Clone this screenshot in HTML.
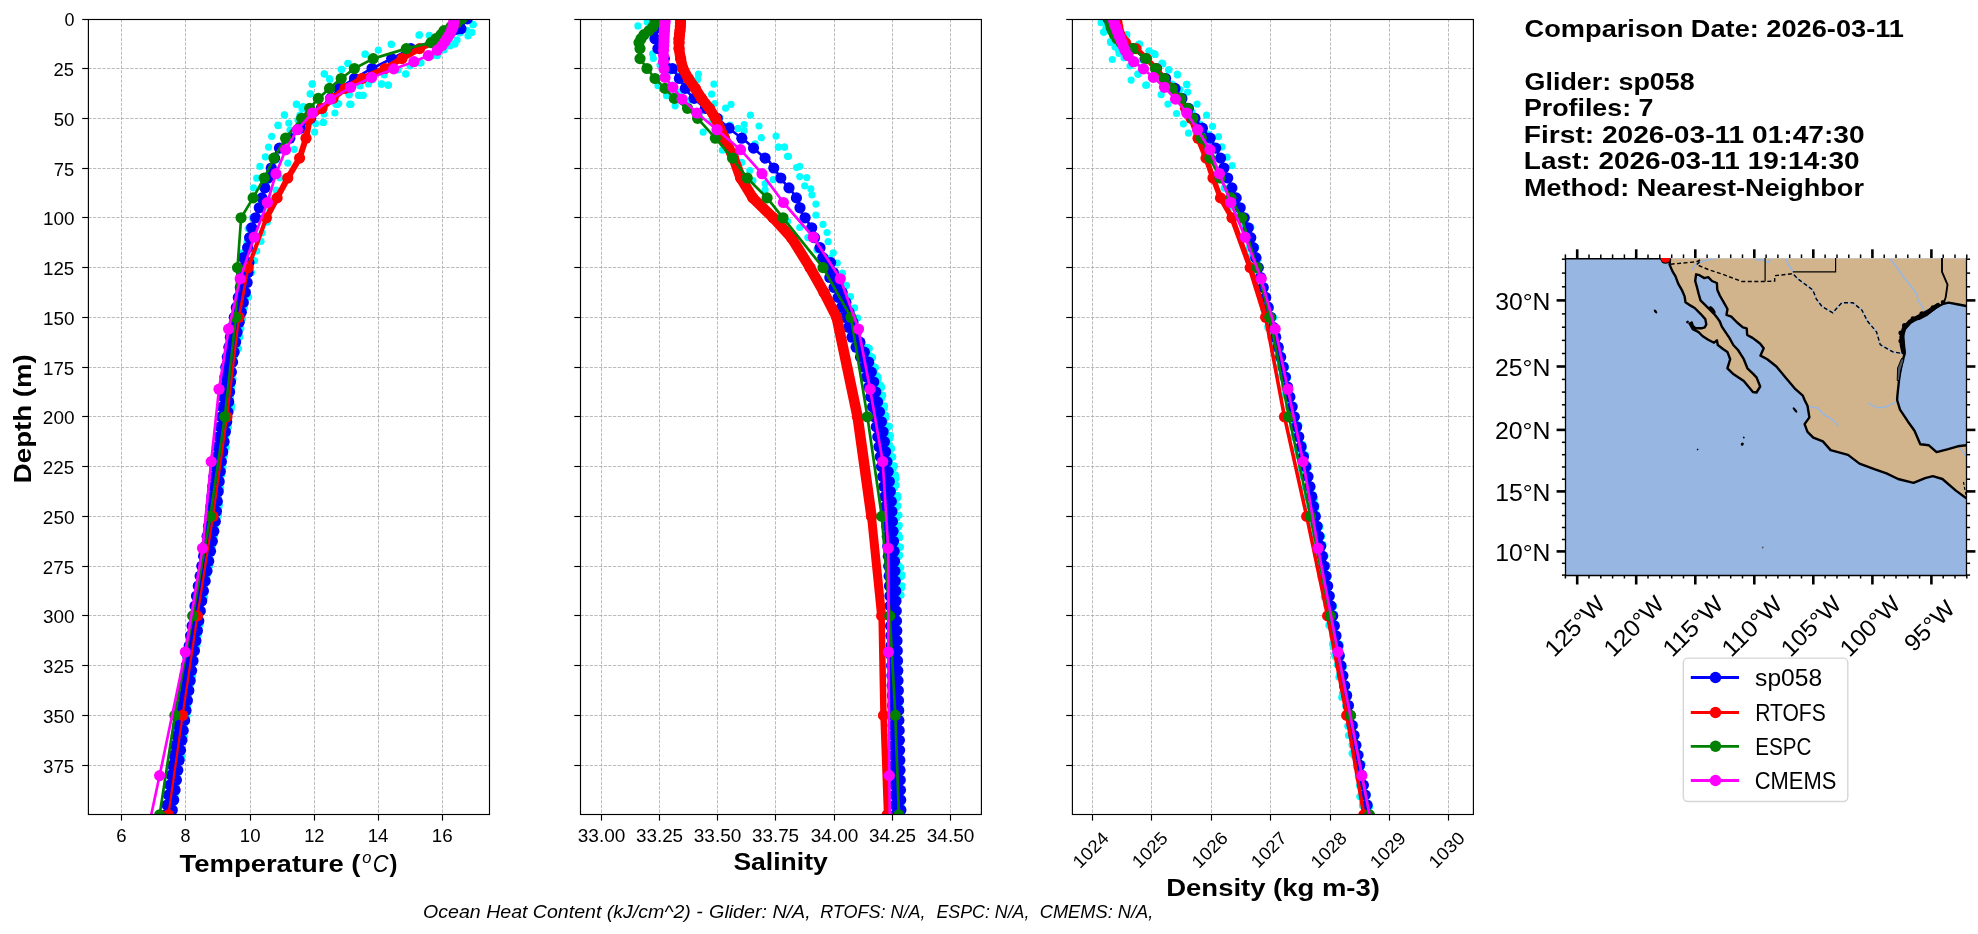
<!DOCTYPE html>
<html><head><meta charset="utf-8"><style>html,body{margin:0;padding:0;background:#fff;width:1978px;height:934px;overflow:hidden}svg{display:block;will-change:transform}</style></head>
<body><svg width="1978" height="934" viewBox="0 0 1978 934">
<rect width="1978" height="934" fill="#fff"/>
<line x1="88.4" y1="68.50" x2="489.5" y2="68.50" stroke="#aaaaaa" stroke-width="0.8" stroke-dasharray="3.25,1.4"/>
<line x1="88.4" y1="118.50" x2="489.5" y2="118.50" stroke="#aaaaaa" stroke-width="0.8" stroke-dasharray="3.25,1.4"/>
<line x1="88.4" y1="168.50" x2="489.5" y2="168.50" stroke="#aaaaaa" stroke-width="0.8" stroke-dasharray="3.25,1.4"/>
<line x1="88.4" y1="217.50" x2="489.5" y2="217.50" stroke="#aaaaaa" stroke-width="0.8" stroke-dasharray="3.25,1.4"/>
<line x1="88.4" y1="267.50" x2="489.5" y2="267.50" stroke="#aaaaaa" stroke-width="0.8" stroke-dasharray="3.25,1.4"/>
<line x1="88.4" y1="317.50" x2="489.5" y2="317.50" stroke="#aaaaaa" stroke-width="0.8" stroke-dasharray="3.25,1.4"/>
<line x1="88.4" y1="367.50" x2="489.5" y2="367.50" stroke="#aaaaaa" stroke-width="0.8" stroke-dasharray="3.25,1.4"/>
<line x1="88.4" y1="416.50" x2="489.5" y2="416.50" stroke="#aaaaaa" stroke-width="0.8" stroke-dasharray="3.25,1.4"/>
<line x1="88.4" y1="466.50" x2="489.5" y2="466.50" stroke="#aaaaaa" stroke-width="0.8" stroke-dasharray="3.25,1.4"/>
<line x1="88.4" y1="516.50" x2="489.5" y2="516.50" stroke="#aaaaaa" stroke-width="0.8" stroke-dasharray="3.25,1.4"/>
<line x1="88.4" y1="566.50" x2="489.5" y2="566.50" stroke="#aaaaaa" stroke-width="0.8" stroke-dasharray="3.25,1.4"/>
<line x1="88.4" y1="615.50" x2="489.5" y2="615.50" stroke="#aaaaaa" stroke-width="0.8" stroke-dasharray="3.25,1.4"/>
<line x1="88.4" y1="665.50" x2="489.5" y2="665.50" stroke="#aaaaaa" stroke-width="0.8" stroke-dasharray="3.25,1.4"/>
<line x1="88.4" y1="715.50" x2="489.5" y2="715.50" stroke="#aaaaaa" stroke-width="0.8" stroke-dasharray="3.25,1.4"/>
<line x1="88.4" y1="765.50" x2="489.5" y2="765.50" stroke="#aaaaaa" stroke-width="0.8" stroke-dasharray="3.25,1.4"/>
<line x1="121.50" y1="19.1" x2="121.50" y2="814.1" stroke="#aaaaaa" stroke-width="0.8" stroke-dasharray="3.25,1.4"/>
<line x1="185.50" y1="19.1" x2="185.50" y2="814.1" stroke="#aaaaaa" stroke-width="0.8" stroke-dasharray="3.25,1.4"/>
<line x1="250.50" y1="19.1" x2="250.50" y2="814.1" stroke="#aaaaaa" stroke-width="0.8" stroke-dasharray="3.25,1.4"/>
<line x1="314.50" y1="19.1" x2="314.50" y2="814.1" stroke="#aaaaaa" stroke-width="0.8" stroke-dasharray="3.25,1.4"/>
<line x1="378.50" y1="19.1" x2="378.50" y2="814.1" stroke="#aaaaaa" stroke-width="0.8" stroke-dasharray="3.25,1.4"/>
<line x1="442.50" y1="19.1" x2="442.50" y2="814.1" stroke="#aaaaaa" stroke-width="0.8" stroke-dasharray="3.25,1.4"/>
<line x1="580.5" y1="68.50" x2="981.4" y2="68.50" stroke="#aaaaaa" stroke-width="0.8" stroke-dasharray="3.25,1.4"/>
<line x1="580.5" y1="118.50" x2="981.4" y2="118.50" stroke="#aaaaaa" stroke-width="0.8" stroke-dasharray="3.25,1.4"/>
<line x1="580.5" y1="168.50" x2="981.4" y2="168.50" stroke="#aaaaaa" stroke-width="0.8" stroke-dasharray="3.25,1.4"/>
<line x1="580.5" y1="217.50" x2="981.4" y2="217.50" stroke="#aaaaaa" stroke-width="0.8" stroke-dasharray="3.25,1.4"/>
<line x1="580.5" y1="267.50" x2="981.4" y2="267.50" stroke="#aaaaaa" stroke-width="0.8" stroke-dasharray="3.25,1.4"/>
<line x1="580.5" y1="317.50" x2="981.4" y2="317.50" stroke="#aaaaaa" stroke-width="0.8" stroke-dasharray="3.25,1.4"/>
<line x1="580.5" y1="367.50" x2="981.4" y2="367.50" stroke="#aaaaaa" stroke-width="0.8" stroke-dasharray="3.25,1.4"/>
<line x1="580.5" y1="416.50" x2="981.4" y2="416.50" stroke="#aaaaaa" stroke-width="0.8" stroke-dasharray="3.25,1.4"/>
<line x1="580.5" y1="466.50" x2="981.4" y2="466.50" stroke="#aaaaaa" stroke-width="0.8" stroke-dasharray="3.25,1.4"/>
<line x1="580.5" y1="516.50" x2="981.4" y2="516.50" stroke="#aaaaaa" stroke-width="0.8" stroke-dasharray="3.25,1.4"/>
<line x1="580.5" y1="566.50" x2="981.4" y2="566.50" stroke="#aaaaaa" stroke-width="0.8" stroke-dasharray="3.25,1.4"/>
<line x1="580.5" y1="615.50" x2="981.4" y2="615.50" stroke="#aaaaaa" stroke-width="0.8" stroke-dasharray="3.25,1.4"/>
<line x1="580.5" y1="665.50" x2="981.4" y2="665.50" stroke="#aaaaaa" stroke-width="0.8" stroke-dasharray="3.25,1.4"/>
<line x1="580.5" y1="715.50" x2="981.4" y2="715.50" stroke="#aaaaaa" stroke-width="0.8" stroke-dasharray="3.25,1.4"/>
<line x1="580.5" y1="765.50" x2="981.4" y2="765.50" stroke="#aaaaaa" stroke-width="0.8" stroke-dasharray="3.25,1.4"/>
<line x1="601.50" y1="19.1" x2="601.50" y2="814.1" stroke="#aaaaaa" stroke-width="0.8" stroke-dasharray="3.25,1.4"/>
<line x1="659.50" y1="19.1" x2="659.50" y2="814.1" stroke="#aaaaaa" stroke-width="0.8" stroke-dasharray="3.25,1.4"/>
<line x1="717.50" y1="19.1" x2="717.50" y2="814.1" stroke="#aaaaaa" stroke-width="0.8" stroke-dasharray="3.25,1.4"/>
<line x1="775.50" y1="19.1" x2="775.50" y2="814.1" stroke="#aaaaaa" stroke-width="0.8" stroke-dasharray="3.25,1.4"/>
<line x1="834.50" y1="19.1" x2="834.50" y2="814.1" stroke="#aaaaaa" stroke-width="0.8" stroke-dasharray="3.25,1.4"/>
<line x1="892.50" y1="19.1" x2="892.50" y2="814.1" stroke="#aaaaaa" stroke-width="0.8" stroke-dasharray="3.25,1.4"/>
<line x1="950.50" y1="19.1" x2="950.50" y2="814.1" stroke="#aaaaaa" stroke-width="0.8" stroke-dasharray="3.25,1.4"/>
<line x1="1072.4" y1="68.50" x2="1473.4" y2="68.50" stroke="#aaaaaa" stroke-width="0.8" stroke-dasharray="3.25,1.4"/>
<line x1="1072.4" y1="118.50" x2="1473.4" y2="118.50" stroke="#aaaaaa" stroke-width="0.8" stroke-dasharray="3.25,1.4"/>
<line x1="1072.4" y1="168.50" x2="1473.4" y2="168.50" stroke="#aaaaaa" stroke-width="0.8" stroke-dasharray="3.25,1.4"/>
<line x1="1072.4" y1="217.50" x2="1473.4" y2="217.50" stroke="#aaaaaa" stroke-width="0.8" stroke-dasharray="3.25,1.4"/>
<line x1="1072.4" y1="267.50" x2="1473.4" y2="267.50" stroke="#aaaaaa" stroke-width="0.8" stroke-dasharray="3.25,1.4"/>
<line x1="1072.4" y1="317.50" x2="1473.4" y2="317.50" stroke="#aaaaaa" stroke-width="0.8" stroke-dasharray="3.25,1.4"/>
<line x1="1072.4" y1="367.50" x2="1473.4" y2="367.50" stroke="#aaaaaa" stroke-width="0.8" stroke-dasharray="3.25,1.4"/>
<line x1="1072.4" y1="416.50" x2="1473.4" y2="416.50" stroke="#aaaaaa" stroke-width="0.8" stroke-dasharray="3.25,1.4"/>
<line x1="1072.4" y1="466.50" x2="1473.4" y2="466.50" stroke="#aaaaaa" stroke-width="0.8" stroke-dasharray="3.25,1.4"/>
<line x1="1072.4" y1="516.50" x2="1473.4" y2="516.50" stroke="#aaaaaa" stroke-width="0.8" stroke-dasharray="3.25,1.4"/>
<line x1="1072.4" y1="566.50" x2="1473.4" y2="566.50" stroke="#aaaaaa" stroke-width="0.8" stroke-dasharray="3.25,1.4"/>
<line x1="1072.4" y1="615.50" x2="1473.4" y2="615.50" stroke="#aaaaaa" stroke-width="0.8" stroke-dasharray="3.25,1.4"/>
<line x1="1072.4" y1="665.50" x2="1473.4" y2="665.50" stroke="#aaaaaa" stroke-width="0.8" stroke-dasharray="3.25,1.4"/>
<line x1="1072.4" y1="715.50" x2="1473.4" y2="715.50" stroke="#aaaaaa" stroke-width="0.8" stroke-dasharray="3.25,1.4"/>
<line x1="1072.4" y1="765.50" x2="1473.4" y2="765.50" stroke="#aaaaaa" stroke-width="0.8" stroke-dasharray="3.25,1.4"/>
<line x1="1092.50" y1="19.1" x2="1092.50" y2="814.1" stroke="#aaaaaa" stroke-width="0.8" stroke-dasharray="3.25,1.4"/>
<line x1="1151.50" y1="19.1" x2="1151.50" y2="814.1" stroke="#aaaaaa" stroke-width="0.8" stroke-dasharray="3.25,1.4"/>
<line x1="1211.50" y1="19.1" x2="1211.50" y2="814.1" stroke="#aaaaaa" stroke-width="0.8" stroke-dasharray="3.25,1.4"/>
<line x1="1270.50" y1="19.1" x2="1270.50" y2="814.1" stroke="#aaaaaa" stroke-width="0.8" stroke-dasharray="3.25,1.4"/>
<line x1="1330.50" y1="19.1" x2="1330.50" y2="814.1" stroke="#aaaaaa" stroke-width="0.8" stroke-dasharray="3.25,1.4"/>
<line x1="1389.50" y1="19.1" x2="1389.50" y2="814.1" stroke="#aaaaaa" stroke-width="0.8" stroke-dasharray="3.25,1.4"/>
<line x1="1448.50" y1="19.1" x2="1448.50" y2="814.1" stroke="#aaaaaa" stroke-width="0.8" stroke-dasharray="3.25,1.4"/>
<defs><clipPath id="c0"><rect x="88.4" y="19.1" width="401.1" height="795"/></clipPath><clipPath id="c1"><rect x="580.5" y="19.1" width="400.9" height="795"/></clipPath><clipPath id="c2"><rect x="1072.4" y="19.1" width="401.0" height="795"/></clipPath></defs>
<g clip-path="url(#c0)">
<circle cx="419.5" cy="34.8" r="3.6" fill="#00ffff"/>
<circle cx="391.5" cy="44.5" r="3.6" fill="#00ffff"/>
<circle cx="378.3" cy="50.1" r="3.6" fill="#00ffff"/>
<circle cx="365.1" cy="54.2" r="3.6" fill="#00ffff"/>
<circle cx="347.8" cy="63.3" r="3.6" fill="#00ffff"/>
<circle cx="341.7" cy="69.4" r="3.6" fill="#00ffff"/>
<circle cx="324.4" cy="74.0" r="3.6" fill="#00ffff"/>
<circle cx="329.5" cy="78.6" r="3.6" fill="#00ffff"/>
<circle cx="312.2" cy="84.2" r="3.6" fill="#00ffff"/>
<circle cx="310.2" cy="93.8" r="3.6" fill="#00ffff"/>
<circle cx="381.4" cy="84.2" r="3.6" fill="#00ffff"/>
<circle cx="388.5" cy="85.2" r="3.6" fill="#00ffff"/>
<circle cx="405.8" cy="74.0" r="3.6" fill="#00ffff"/>
<circle cx="421.0" cy="62.8" r="3.6" fill="#00ffff"/>
<circle cx="358.5" cy="95.3" r="3.6" fill="#00ffff"/>
<circle cx="362.5" cy="95.3" r="3.6" fill="#00ffff"/>
<circle cx="349.8" cy="104.5" r="3.6" fill="#00ffff"/>
<circle cx="337.6" cy="104.5" r="3.6" fill="#00ffff"/>
<circle cx="349.3" cy="94.8" r="3.6" fill="#00ffff"/>
<circle cx="454.6" cy="43.5" r="3.6" fill="#00ffff"/>
<circle cx="457.1" cy="39.9" r="3.6" fill="#00ffff"/>
<circle cx="471.9" cy="32.3" r="3.6" fill="#00ffff"/>
<circle cx="472.9" cy="24.7" r="3.6" fill="#00ffff"/>
<circle cx="466.8" cy="30.3" r="3.6" fill="#00ffff"/>
<circle cx="437.3" cy="55.7" r="3.6" fill="#00ffff"/>
<circle cx="429.2" cy="35.3" r="3.6" fill="#00ffff"/>
<circle cx="303.1" cy="106.5" r="3.6" fill="#00ffff"/>
<circle cx="312.2" cy="83.9" r="3.6" fill="#00ffff"/>
<circle cx="310.3" cy="94.0" r="3.6" fill="#00ffff"/>
<circle cx="296.4" cy="104.1" r="3.6" fill="#00ffff"/>
<circle cx="302.0" cy="108.5" r="3.6" fill="#00ffff"/>
<circle cx="284.3" cy="114.8" r="3.6" fill="#00ffff"/>
<circle cx="288.8" cy="123.1" r="3.6" fill="#00ffff"/>
<circle cx="278.0" cy="125.0" r="3.6" fill="#00ffff"/>
<circle cx="323.5" cy="122.4" r="3.6" fill="#00ffff"/>
<circle cx="334.9" cy="113.0" r="3.6" fill="#00ffff"/>
<circle cx="338.7" cy="103.5" r="3.6" fill="#00ffff"/>
<circle cx="350.1" cy="104.1" r="3.6" fill="#00ffff"/>
<circle cx="324.2" cy="73.8" r="3.6" fill="#00ffff"/>
<circle cx="329.8" cy="79.5" r="3.6" fill="#00ffff"/>
<circle cx="348.8" cy="94.6" r="3.6" fill="#00ffff"/>
<circle cx="358.9" cy="95.3" r="3.6" fill="#00ffff"/>
<circle cx="363.3" cy="95.3" r="3.6" fill="#00ffff"/>
<circle cx="368.4" cy="83.9" r="3.6" fill="#00ffff"/>
<circle cx="381.7" cy="83.9" r="3.6" fill="#00ffff"/>
<circle cx="388.0" cy="85.1" r="3.6" fill="#00ffff"/>
<circle cx="384.2" cy="75.0" r="3.6" fill="#00ffff"/>
<circle cx="405.7" cy="73.8" r="3.6" fill="#00ffff"/>
<circle cx="420.2" cy="63.0" r="3.6" fill="#00ffff"/>
<circle cx="391.1" cy="44.1" r="3.6" fill="#00ffff"/>
<circle cx="365.2" cy="54.2" r="3.6" fill="#00ffff"/>
<circle cx="348.2" cy="63.7" r="3.6" fill="#00ffff"/>
<circle cx="341.2" cy="69.3" r="3.6" fill="#00ffff"/>
<circle cx="419.0" cy="35.2" r="3.6" fill="#00ffff"/>
<circle cx="455.0" cy="44.1" r="3.6" fill="#00ffff"/>
<circle cx="471.4" cy="32.7" r="3.6" fill="#00ffff"/>
<circle cx="473.3" cy="24.5" r="3.6" fill="#00ffff"/>
<circle cx="296.4" cy="104.3" r="3.6" fill="#00ffff"/>
<circle cx="302.8" cy="108.6" r="3.6" fill="#00ffff"/>
<circle cx="284.6" cy="115.0" r="3.6" fill="#00ffff"/>
<circle cx="278.1" cy="125.7" r="3.6" fill="#00ffff"/>
<circle cx="271.7" cy="136.4" r="3.6" fill="#00ffff"/>
<circle cx="268.5" cy="147.1" r="3.6" fill="#00ffff"/>
<circle cx="265.3" cy="156.8" r="3.6" fill="#00ffff"/>
<circle cx="259.9" cy="166.4" r="3.6" fill="#00ffff"/>
<circle cx="256.7" cy="178.2" r="3.6" fill="#00ffff"/>
<circle cx="253.5" cy="187.8" r="3.6" fill="#00ffff"/>
<circle cx="351.0" cy="104.3" r="3.6" fill="#00ffff"/>
<circle cx="336.0" cy="104.3" r="3.6" fill="#00ffff"/>
<circle cx="324.2" cy="113.9" r="3.6" fill="#00ffff"/>
<circle cx="323.1" cy="122.5" r="3.6" fill="#00ffff"/>
<circle cx="315.6" cy="123.6" r="3.6" fill="#00ffff"/>
<circle cx="314.6" cy="132.1" r="3.6" fill="#00ffff"/>
<circle cx="294.2" cy="149.3" r="3.6" fill="#00ffff"/>
<circle cx="287.8" cy="163.2" r="3.6" fill="#00ffff"/>
<circle cx="252.4" cy="217.8" r="3.6" fill="#00ffff"/>
<circle cx="248.2" cy="228.5" r="3.6" fill="#00ffff"/>
<circle cx="247.1" cy="242.4" r="3.6" fill="#00ffff"/>
<circle cx="241.7" cy="253.1" r="3.6" fill="#00ffff"/>
<circle cx="251.4" cy="272.4" r="3.6" fill="#00ffff"/>
<circle cx="261.0" cy="241.4" r="3.6" fill="#00ffff"/>
<circle cx="262.1" cy="232.8" r="3.6" fill="#00ffff"/>
<circle cx="267.4" cy="222.1" r="3.6" fill="#00ffff"/>
<circle cx="256.7" cy="251.0" r="3.6" fill="#00ffff"/>
<circle cx="254.6" cy="260.6" r="3.6" fill="#00ffff"/>
<circle cx="462.0" cy="28.0" r="3.6" fill="#00ffff"/>
<circle cx="468.0" cy="36.0" r="3.6" fill="#00ffff"/>
<circle cx="460.0" cy="33.0" r="3.6" fill="#00ffff"/>
<circle cx="450.0" cy="46.0" r="3.6" fill="#00ffff"/>
<circle cx="444.0" cy="50.0" r="3.6" fill="#00ffff"/>
<circle cx="432.0" cy="56.0" r="3.6" fill="#00ffff"/>
<circle cx="410.0" cy="66.0" r="3.6" fill="#00ffff"/>
<circle cx="398.0" cy="70.0" r="3.6" fill="#00ffff"/>
<circle cx="372.0" cy="80.0" r="3.6" fill="#00ffff"/>
<circle cx="360.0" cy="86.0" r="3.6" fill="#00ffff"/>
<circle cx="300.0" cy="115.0" r="3.6" fill="#00ffff"/>
<circle cx="306.0" cy="128.0" r="3.6" fill="#00ffff"/>
<circle cx="290.0" cy="140.0" r="3.6" fill="#00ffff"/>
<circle cx="283.0" cy="150.0" r="3.6" fill="#00ffff"/>
<circle cx="276.0" cy="160.0" r="3.6" fill="#00ffff"/>
<circle cx="270.0" cy="172.0" r="3.6" fill="#00ffff"/>
<circle cx="266.0" cy="184.0" r="3.6" fill="#00ffff"/>
<circle cx="262.0" cy="196.0" r="3.6" fill="#00ffff"/>
<circle cx="260.0" cy="205.0" r="3.6" fill="#00ffff"/>
<circle cx="280.0" cy="178.0" r="3.6" fill="#00ffff"/>
<circle cx="276.0" cy="190.0" r="3.6" fill="#00ffff"/>
<circle cx="272.0" cy="200.0" r="3.6" fill="#00ffff"/>
<circle cx="270.0" cy="210.0" r="3.6" fill="#00ffff"/>
<circle cx="290.0" cy="130.0" r="3.6" fill="#00ffff"/>
<circle cx="298.0" cy="120.0" r="3.6" fill="#00ffff"/>
<circle cx="240.1" cy="297.7" r="3.6" fill="#00ffff"/>
<circle cx="237.9" cy="306.9" r="3.6" fill="#00ffff"/>
<circle cx="233.7" cy="315.6" r="3.6" fill="#00ffff"/>
<circle cx="234.4" cy="326.1" r="3.6" fill="#00ffff"/>
<circle cx="230.7" cy="336.9" r="3.6" fill="#00ffff"/>
<circle cx="229.8" cy="347.5" r="3.6" fill="#00ffff"/>
<circle cx="230.2" cy="356.3" r="3.6" fill="#00ffff"/>
<circle cx="225.7" cy="367.9" r="3.6" fill="#00ffff"/>
<circle cx="226.3" cy="377.3" r="3.6" fill="#00ffff"/>
<circle cx="226.3" cy="388.5" r="3.6" fill="#00ffff"/>
<circle cx="226.9" cy="396.1" r="3.6" fill="#00ffff"/>
<circle cx="223.3" cy="405.4" r="3.6" fill="#00ffff"/>
<circle cx="220.7" cy="417.9" r="3.6" fill="#00ffff"/>
<circle cx="219.0" cy="426.8" r="3.6" fill="#00ffff"/>
<circle cx="221.2" cy="437.4" r="3.6" fill="#00ffff"/>
<circle cx="220.5" cy="447.0" r="3.6" fill="#00ffff"/>
<circle cx="218.4" cy="455.9" r="3.6" fill="#00ffff"/>
<circle cx="216.4" cy="467.0" r="3.6" fill="#00ffff"/>
<circle cx="216.7" cy="476.4" r="3.6" fill="#00ffff"/>
<circle cx="213.6" cy="488.3" r="3.6" fill="#00ffff"/>
<circle cx="210.8" cy="497.1" r="3.6" fill="#00ffff"/>
<circle cx="212.8" cy="507.2" r="3.6" fill="#00ffff"/>
<circle cx="212.6" cy="518.3" r="3.6" fill="#00ffff"/>
<circle cx="210.0" cy="525.5" r="3.6" fill="#00ffff"/>
<circle cx="207.0" cy="537.0" r="3.6" fill="#00ffff"/>
<circle cx="206.0" cy="546.1" r="3.6" fill="#00ffff"/>
<circle cx="204.1" cy="554.7" r="3.6" fill="#00ffff"/>
<circle cx="202.1" cy="567.2" r="3.6" fill="#00ffff"/>
<circle cx="201.6" cy="575.1" r="3.6" fill="#00ffff"/>
<circle cx="198.3" cy="587.5" r="3.6" fill="#00ffff"/>
<circle cx="198.5" cy="595.8" r="3.6" fill="#00ffff"/>
<circle cx="197.6" cy="607.5" r="3.6" fill="#00ffff"/>
<circle cx="194.3" cy="617.3" r="3.6" fill="#00ffff"/>
<circle cx="193.4" cy="625.5" r="3.6" fill="#00ffff"/>
<circle cx="193.8" cy="637.3" r="3.6" fill="#00ffff"/>
<circle cx="190.0" cy="644.4" r="3.6" fill="#00ffff"/>
<circle cx="188.7" cy="654.6" r="3.6" fill="#00ffff"/>
<circle cx="188.4" cy="665.6" r="3.6" fill="#00ffff"/>
<circle cx="185.0" cy="674.7" r="3.6" fill="#00ffff"/>
<circle cx="184.9" cy="685.2" r="3.6" fill="#00ffff"/>
<circle cx="185.4" cy="695.8" r="3.6" fill="#00ffff"/>
<circle cx="182.4" cy="706.2" r="3.6" fill="#00ffff"/>
<circle cx="181.6" cy="715.9" r="3.6" fill="#00ffff"/>
<circle cx="181.3" cy="723.6" r="3.6" fill="#00ffff"/>
<circle cx="179.5" cy="736.4" r="3.6" fill="#00ffff"/>
<circle cx="176.4" cy="746.5" r="3.6" fill="#00ffff"/>
<circle cx="174.2" cy="754.8" r="3.6" fill="#00ffff"/>
<circle cx="172.6" cy="765.7" r="3.6" fill="#00ffff"/>
<circle cx="172.1" cy="773.4" r="3.6" fill="#00ffff"/>
<circle cx="171.1" cy="783.7" r="3.6" fill="#00ffff"/>
<circle cx="168.6" cy="793.3" r="3.6" fill="#00ffff"/>
<circle cx="167.6" cy="803.6" r="3.6" fill="#00ffff"/>
<circle cx="246.6" cy="296.1" r="3.6" fill="#00ffff"/>
<circle cx="244.4" cy="307.5" r="3.6" fill="#00ffff"/>
<circle cx="239.8" cy="316.6" r="3.6" fill="#00ffff"/>
<circle cx="240.9" cy="328.5" r="3.6" fill="#00ffff"/>
<circle cx="238.4" cy="338.6" r="3.6" fill="#00ffff"/>
<circle cx="236.6" cy="348.4" r="3.6" fill="#00ffff"/>
<circle cx="234.3" cy="356.0" r="3.6" fill="#00ffff"/>
<circle cx="230.3" cy="366.5" r="3.6" fill="#00ffff"/>
<circle cx="230.7" cy="375.2" r="3.6" fill="#00ffff"/>
<circle cx="231.8" cy="386.0" r="3.6" fill="#00ffff"/>
<circle cx="229.5" cy="398.8" r="3.6" fill="#00ffff"/>
<circle cx="231.3" cy="408.6" r="3.6" fill="#00ffff"/>
<circle cx="227.2" cy="418.7" r="3.6" fill="#00ffff"/>
<circle cx="225.6" cy="425.7" r="3.6" fill="#00ffff"/>
<circle cx="224.2" cy="435.5" r="3.6" fill="#00ffff"/>
<circle cx="226.1" cy="447.2" r="3.6" fill="#00ffff"/>
<circle cx="222.5" cy="458.0" r="3.6" fill="#00ffff"/>
<circle cx="223.0" cy="467.2" r="3.6" fill="#00ffff"/>
<circle cx="221.5" cy="474.9" r="3.6" fill="#00ffff"/>
<circle cx="220.7" cy="488.1" r="3.6" fill="#00ffff"/>
<circle cx="218.3" cy="497.5" r="3.6" fill="#00ffff"/>
<circle cx="219.2" cy="505.1" r="3.6" fill="#00ffff"/>
<circle cx="218.3" cy="515.7" r="3.6" fill="#00ffff"/>
<circle cx="213.5" cy="528.2" r="3.6" fill="#00ffff"/>
<circle cx="214.3" cy="535.9" r="3.6" fill="#00ffff"/>
<circle cx="209.7" cy="547.1" r="3.6" fill="#00ffff"/>
<circle cx="208.3" cy="554.7" r="3.6" fill="#00ffff"/>
<circle cx="208.3" cy="567.7" r="3.6" fill="#00ffff"/>
<circle cx="207.1" cy="574.7" r="3.6" fill="#00ffff"/>
<circle cx="204.1" cy="588.0" r="3.6" fill="#00ffff"/>
<circle cx="202.4" cy="595.4" r="3.6" fill="#00ffff"/>
<circle cx="199.1" cy="604.5" r="3.6" fill="#00ffff"/>
<circle cx="199.4" cy="617.8" r="3.6" fill="#00ffff"/>
<circle cx="199.2" cy="626.0" r="3.6" fill="#00ffff"/>
<circle cx="197.6" cy="635.5" r="3.6" fill="#00ffff"/>
<circle cx="193.6" cy="647.1" r="3.6" fill="#00ffff"/>
<circle cx="192.8" cy="654.7" r="3.6" fill="#00ffff"/>
<circle cx="192.3" cy="664.6" r="3.6" fill="#00ffff"/>
<circle cx="190.4" cy="674.7" r="3.6" fill="#00ffff"/>
<circle cx="190.8" cy="684.1" r="3.6" fill="#00ffff"/>
<circle cx="187.7" cy="694.9" r="3.6" fill="#00ffff"/>
<circle cx="187.7" cy="705.8" r="3.6" fill="#00ffff"/>
<circle cx="186.4" cy="715.1" r="3.6" fill="#00ffff"/>
<circle cx="183.6" cy="725.4" r="3.6" fill="#00ffff"/>
<circle cx="180.5" cy="735.4" r="3.6" fill="#00ffff"/>
<circle cx="179.7" cy="745.0" r="3.6" fill="#00ffff"/>
<circle cx="180.7" cy="753.3" r="3.6" fill="#00ffff"/>
<circle cx="178.1" cy="763.9" r="3.6" fill="#00ffff"/>
<circle cx="176.8" cy="776.0" r="3.6" fill="#00ffff"/>
<circle cx="175.5" cy="784.4" r="3.6" fill="#00ffff"/>
<circle cx="175.0" cy="795.3" r="3.6" fill="#00ffff"/>
<circle cx="173.1" cy="803.4" r="3.6" fill="#00ffff"/>
<circle cx="170.6" cy="813.9" r="3.6" fill="#00ffff"/>
<circle cx="241.3" cy="289.0" r="3.6" fill="#00ffff"/>
<circle cx="242.0" cy="298.3" r="3.6" fill="#00ffff"/>
<circle cx="241.6" cy="306.0" r="3.6" fill="#00ffff"/>
<circle cx="235.6" cy="319.2" r="3.6" fill="#00ffff"/>
<circle cx="234.2" cy="329.1" r="3.6" fill="#00ffff"/>
<circle cx="235.9" cy="337.2" r="3.6" fill="#00ffff"/>
<circle cx="230.0" cy="348.5" r="3.6" fill="#00ffff"/>
<circle cx="230.5" cy="356.9" r="3.6" fill="#00ffff"/>
<circle cx="227.5" cy="366.4" r="3.6" fill="#00ffff"/>
<circle cx="229.2" cy="376.3" r="3.6" fill="#00ffff"/>
<circle cx="227.6" cy="385.1" r="3.6" fill="#00ffff"/>
<circle cx="223.9" cy="396.7" r="3.6" fill="#00ffff"/>
<circle cx="226.1" cy="406.2" r="3.6" fill="#00ffff"/>
<circle cx="222.3" cy="416.9" r="3.6" fill="#00ffff"/>
<circle cx="224.3" cy="428.7" r="3.6" fill="#00ffff"/>
<circle cx="219.6" cy="438.6" r="3.6" fill="#00ffff"/>
<circle cx="218.3" cy="445.8" r="3.6" fill="#00ffff"/>
<circle cx="217.9" cy="457.8" r="3.6" fill="#00ffff"/>
<circle cx="217.7" cy="465.1" r="3.6" fill="#00ffff"/>
<circle cx="218.3" cy="478.2" r="3.6" fill="#00ffff"/>
<circle cx="214.1" cy="485.6" r="3.6" fill="#00ffff"/>
<circle cx="215.1" cy="498.1" r="3.6" fill="#00ffff"/>
<circle cx="211.8" cy="507.2" r="3.6" fill="#00ffff"/>
<circle cx="214.2" cy="514.6" r="3.6" fill="#00ffff"/>
<circle cx="210.1" cy="526.0" r="3.6" fill="#00ffff"/>
<circle cx="210.3" cy="538.0" r="3.6" fill="#00ffff"/>
<circle cx="206.8" cy="547.4" r="3.6" fill="#00ffff"/>
<circle cx="204.9" cy="557.6" r="3.6" fill="#00ffff"/>
<circle cx="204.5" cy="567.6" r="3.6" fill="#00ffff"/>
<circle cx="203.4" cy="575.4" r="3.6" fill="#00ffff"/>
<circle cx="200.2" cy="587.7" r="3.6" fill="#00ffff"/>
<circle cx="199.9" cy="594.5" r="3.6" fill="#00ffff"/>
<circle cx="196.8" cy="604.9" r="3.6" fill="#00ffff"/>
<circle cx="195.2" cy="614.6" r="3.6" fill="#00ffff"/>
<circle cx="194.7" cy="624.7" r="3.6" fill="#00ffff"/>
<circle cx="194.7" cy="635.0" r="3.6" fill="#00ffff"/>
<circle cx="192.3" cy="644.9" r="3.6" fill="#00ffff"/>
<circle cx="190.4" cy="654.4" r="3.6" fill="#00ffff"/>
<circle cx="188.7" cy="663.7" r="3.6" fill="#00ffff"/>
<circle cx="189.0" cy="673.7" r="3.6" fill="#00ffff"/>
<circle cx="185.4" cy="685.8" r="3.6" fill="#00ffff"/>
<circle cx="186.7" cy="695.4" r="3.6" fill="#00ffff"/>
<circle cx="185.1" cy="703.9" r="3.6" fill="#00ffff"/>
<circle cx="182.4" cy="715.2" r="3.6" fill="#00ffff"/>
<circle cx="180.4" cy="726.7" r="3.6" fill="#00ffff"/>
<circle cx="180.2" cy="735.4" r="3.6" fill="#00ffff"/>
<circle cx="177.4" cy="747.2" r="3.6" fill="#00ffff"/>
<circle cx="177.4" cy="756.6" r="3.6" fill="#00ffff"/>
<circle cx="175.1" cy="765.7" r="3.6" fill="#00ffff"/>
<circle cx="172.7" cy="774.5" r="3.6" fill="#00ffff"/>
<circle cx="171.5" cy="783.6" r="3.6" fill="#00ffff"/>
<circle cx="170.4" cy="796.0" r="3.6" fill="#00ffff"/>
<circle cx="168.8" cy="803.7" r="3.6" fill="#00ffff"/>
<circle cx="243.1" cy="297.8" r="3.6" fill="#00ffff"/>
<circle cx="241.6" cy="308.4" r="3.6" fill="#00ffff"/>
<circle cx="240.7" cy="318.2" r="3.6" fill="#00ffff"/>
<circle cx="235.9" cy="326.8" r="3.6" fill="#00ffff"/>
<circle cx="233.0" cy="339.2" r="3.6" fill="#00ffff"/>
<circle cx="234.1" cy="348.1" r="3.6" fill="#00ffff"/>
<circle cx="234.0" cy="355.3" r="3.6" fill="#00ffff"/>
<circle cx="231.0" cy="368.6" r="3.6" fill="#00ffff"/>
<circle cx="231.1" cy="378.0" r="3.6" fill="#00ffff"/>
<circle cx="229.0" cy="385.6" r="3.6" fill="#00ffff"/>
<circle cx="229.6" cy="397.0" r="3.6" fill="#00ffff"/>
<circle cx="228.5" cy="408.1" r="3.6" fill="#00ffff"/>
<circle cx="228.0" cy="417.2" r="3.6" fill="#00ffff"/>
<circle cx="225.6" cy="427.5" r="3.6" fill="#00ffff"/>
<circle cx="221.2" cy="435.7" r="3.6" fill="#00ffff"/>
<circle cx="221.6" cy="445.2" r="3.6" fill="#00ffff"/>
<circle cx="222.7" cy="455.1" r="3.6" fill="#00ffff"/>
<circle cx="220.1" cy="466.8" r="3.6" fill="#00ffff"/>
<circle cx="219.3" cy="477.1" r="3.6" fill="#00ffff"/>
<circle cx="214.9" cy="486.5" r="3.6" fill="#00ffff"/>
<circle cx="217.6" cy="497.7" r="3.6" fill="#00ffff"/>
<circle cx="215.8" cy="506.4" r="3.6" fill="#00ffff"/>
<circle cx="212.6" cy="517.0" r="3.6" fill="#00ffff"/>
<circle cx="211.7" cy="527.3" r="3.6" fill="#00ffff"/>
<circle cx="210.7" cy="534.6" r="3.6" fill="#00ffff"/>
<circle cx="208.4" cy="547.1" r="3.6" fill="#00ffff"/>
<circle cx="209.3" cy="557.1" r="3.6" fill="#00ffff"/>
<circle cx="205.6" cy="566.1" r="3.6" fill="#00ffff"/>
<circle cx="204.9" cy="576.0" r="3.6" fill="#00ffff"/>
<circle cx="202.7" cy="587.1" r="3.6" fill="#00ffff"/>
<circle cx="199.1" cy="596.6" r="3.6" fill="#00ffff"/>
<circle cx="198.5" cy="604.5" r="3.6" fill="#00ffff"/>
<circle cx="196.9" cy="616.9" r="3.6" fill="#00ffff"/>
<circle cx="194.5" cy="626.1" r="3.6" fill="#00ffff"/>
<circle cx="194.3" cy="634.1" r="3.6" fill="#00ffff"/>
<circle cx="193.9" cy="646.4" r="3.6" fill="#00ffff"/>
<circle cx="191.1" cy="656.4" r="3.6" fill="#00ffff"/>
<circle cx="190.3" cy="665.7" r="3.6" fill="#00ffff"/>
<circle cx="187.8" cy="675.5" r="3.6" fill="#00ffff"/>
<circle cx="186.4" cy="687.1" r="3.6" fill="#00ffff"/>
<circle cx="187.6" cy="697.4" r="3.6" fill="#00ffff"/>
<circle cx="185.0" cy="703.6" r="3.6" fill="#00ffff"/>
<circle cx="184.9" cy="716.7" r="3.6" fill="#00ffff"/>
<circle cx="181.3" cy="725.2" r="3.6" fill="#00ffff"/>
<circle cx="182.4" cy="734.2" r="3.6" fill="#00ffff"/>
<circle cx="179.8" cy="744.1" r="3.6" fill="#00ffff"/>
<circle cx="178.3" cy="753.8" r="3.6" fill="#00ffff"/>
<circle cx="175.1" cy="767.0" r="3.6" fill="#00ffff"/>
<circle cx="175.1" cy="776.4" r="3.6" fill="#00ffff"/>
<circle cx="174.4" cy="786.6" r="3.6" fill="#00ffff"/>
<circle cx="174.1" cy="794.0" r="3.6" fill="#00ffff"/>
<circle cx="169.6" cy="804.9" r="3.6" fill="#00ffff"/>
<circle cx="170.1" cy="813.0" r="3.6" fill="#00ffff"/>
<circle cx="241.7" cy="296.9" r="3.6" fill="#00ffff"/>
<circle cx="238.6" cy="308.9" r="3.6" fill="#00ffff"/>
<circle cx="237.3" cy="317.8" r="3.6" fill="#00ffff"/>
<circle cx="232.9" cy="329.0" r="3.6" fill="#00ffff"/>
<circle cx="229.0" cy="338.1" r="3.6" fill="#00ffff"/>
<circle cx="229.5" cy="348.1" r="3.6" fill="#00ffff"/>
<circle cx="228.9" cy="358.1" r="3.6" fill="#00ffff"/>
<circle cx="224.7" cy="366.2" r="3.6" fill="#00ffff"/>
<circle cx="223.9" cy="378.7" r="3.6" fill="#00ffff"/>
<circle cx="224.3" cy="386.9" r="3.6" fill="#00ffff"/>
<circle cx="225.5" cy="396.1" r="3.6" fill="#00ffff"/>
<circle cx="222.0" cy="408.8" r="3.6" fill="#00ffff"/>
<circle cx="221.3" cy="417.5" r="3.6" fill="#00ffff"/>
<circle cx="220.5" cy="427.0" r="3.6" fill="#00ffff"/>
<circle cx="218.2" cy="435.4" r="3.6" fill="#00ffff"/>
<circle cx="220.6" cy="445.5" r="3.6" fill="#00ffff"/>
<circle cx="215.7" cy="456.6" r="3.6" fill="#00ffff"/>
<circle cx="218.1" cy="468.2" r="3.6" fill="#00ffff"/>
<circle cx="213.0" cy="476.4" r="3.6" fill="#00ffff"/>
<circle cx="211.8" cy="485.3" r="3.6" fill="#00ffff"/>
<circle cx="210.8" cy="495.8" r="3.6" fill="#00ffff"/>
<circle cx="210.8" cy="505.4" r="3.6" fill="#00ffff"/>
<circle cx="212.9" cy="516.7" r="3.6" fill="#00ffff"/>
<circle cx="209.7" cy="527.3" r="3.6" fill="#00ffff"/>
<circle cx="208.8" cy="535.9" r="3.6" fill="#00ffff"/>
<circle cx="206.5" cy="545.7" r="3.6" fill="#00ffff"/>
<circle cx="204.8" cy="554.4" r="3.6" fill="#00ffff"/>
<circle cx="201.8" cy="568.0" r="3.6" fill="#00ffff"/>
<circle cx="202.1" cy="576.1" r="3.6" fill="#00ffff"/>
<circle cx="198.7" cy="587.5" r="3.6" fill="#00ffff"/>
<circle cx="197.4" cy="595.1" r="3.6" fill="#00ffff"/>
<circle cx="196.5" cy="605.5" r="3.6" fill="#00ffff"/>
<circle cx="196.1" cy="617.7" r="3.6" fill="#00ffff"/>
<circle cx="191.8" cy="627.3" r="3.6" fill="#00ffff"/>
<circle cx="193.2" cy="633.9" r="3.6" fill="#00ffff"/>
<circle cx="190.5" cy="647.3" r="3.6" fill="#00ffff"/>
<circle cx="187.5" cy="656.1" r="3.6" fill="#00ffff"/>
<circle cx="189.4" cy="665.2" r="3.6" fill="#00ffff"/>
<circle cx="187.6" cy="676.9" r="3.6" fill="#00ffff"/>
<circle cx="184.0" cy="687.4" r="3.6" fill="#00ffff"/>
<circle cx="182.7" cy="694.0" r="3.6" fill="#00ffff"/>
<circle cx="183.0" cy="705.6" r="3.6" fill="#00ffff"/>
<circle cx="181.4" cy="717.2" r="3.6" fill="#00ffff"/>
<circle cx="180.4" cy="726.0" r="3.6" fill="#00ffff"/>
<circle cx="178.4" cy="735.2" r="3.6" fill="#00ffff"/>
<circle cx="178.0" cy="743.4" r="3.6" fill="#00ffff"/>
<circle cx="177.0" cy="754.2" r="3.6" fill="#00ffff"/>
<circle cx="173.3" cy="765.8" r="3.6" fill="#00ffff"/>
<circle cx="172.0" cy="773.7" r="3.6" fill="#00ffff"/>
<circle cx="172.0" cy="785.6" r="3.6" fill="#00ffff"/>
<circle cx="168.7" cy="793.5" r="3.6" fill="#00ffff"/>
<circle cx="168.9" cy="805.1" r="3.6" fill="#00ffff"/>
<circle cx="242.8" cy="287.5" r="3.6" fill="#00ffff"/>
<circle cx="241.0" cy="299.3" r="3.6" fill="#00ffff"/>
<circle cx="238.7" cy="308.6" r="3.6" fill="#00ffff"/>
<circle cx="239.9" cy="316.2" r="3.6" fill="#00ffff"/>
<circle cx="238.5" cy="326.5" r="3.6" fill="#00ffff"/>
<circle cx="232.8" cy="337.2" r="3.6" fill="#00ffff"/>
<circle cx="232.6" cy="346.1" r="3.6" fill="#00ffff"/>
<circle cx="233.5" cy="357.8" r="3.6" fill="#00ffff"/>
<circle cx="229.5" cy="365.7" r="3.6" fill="#00ffff"/>
<circle cx="231.4" cy="375.9" r="3.6" fill="#00ffff"/>
<circle cx="225.9" cy="385.6" r="3.6" fill="#00ffff"/>
<circle cx="226.8" cy="395.2" r="3.6" fill="#00ffff"/>
<circle cx="228.1" cy="408.5" r="3.6" fill="#00ffff"/>
<circle cx="227.8" cy="417.8" r="3.6" fill="#00ffff"/>
<circle cx="223.0" cy="428.5" r="3.6" fill="#00ffff"/>
<circle cx="225.1" cy="435.5" r="3.6" fill="#00ffff"/>
<circle cx="218.9" cy="447.7" r="3.6" fill="#00ffff"/>
<circle cx="219.4" cy="457.3" r="3.6" fill="#00ffff"/>
<circle cx="218.0" cy="466.1" r="3.6" fill="#00ffff"/>
<circle cx="215.4" cy="475.2" r="3.6" fill="#00ffff"/>
<circle cx="216.1" cy="485.6" r="3.6" fill="#00ffff"/>
<circle cx="213.8" cy="498.3" r="3.6" fill="#00ffff"/>
<circle cx="213.3" cy="508.3" r="3.6" fill="#00ffff"/>
<circle cx="215.7" cy="515.8" r="3.6" fill="#00ffff"/>
<circle cx="211.8" cy="527.6" r="3.6" fill="#00ffff"/>
<circle cx="210.9" cy="534.5" r="3.6" fill="#00ffff"/>
<circle cx="210.7" cy="545.7" r="3.6" fill="#00ffff"/>
<circle cx="207.1" cy="555.0" r="3.6" fill="#00ffff"/>
<circle cx="203.6" cy="567.7" r="3.6" fill="#00ffff"/>
<circle cx="204.9" cy="575.7" r="3.6" fill="#00ffff"/>
<circle cx="200.2" cy="587.1" r="3.6" fill="#00ffff"/>
<circle cx="199.0" cy="594.1" r="3.6" fill="#00ffff"/>
<circle cx="197.6" cy="607.6" r="3.6" fill="#00ffff"/>
<circle cx="198.5" cy="616.9" r="3.6" fill="#00ffff"/>
<circle cx="195.1" cy="625.2" r="3.6" fill="#00ffff"/>
<circle cx="194.5" cy="637.6" r="3.6" fill="#00ffff"/>
<circle cx="193.8" cy="644.8" r="3.6" fill="#00ffff"/>
<circle cx="190.7" cy="655.0" r="3.6" fill="#00ffff"/>
<circle cx="191.1" cy="663.7" r="3.6" fill="#00ffff"/>
<circle cx="188.8" cy="677.3" r="3.6" fill="#00ffff"/>
<circle cx="185.3" cy="687.3" r="3.6" fill="#00ffff"/>
<circle cx="185.9" cy="694.5" r="3.6" fill="#00ffff"/>
<circle cx="185.7" cy="707.3" r="3.6" fill="#00ffff"/>
<circle cx="182.2" cy="715.0" r="3.6" fill="#00ffff"/>
<circle cx="181.6" cy="725.1" r="3.6" fill="#00ffff"/>
<circle cx="178.9" cy="737.0" r="3.6" fill="#00ffff"/>
<circle cx="179.5" cy="746.5" r="3.6" fill="#00ffff"/>
<circle cx="178.3" cy="756.5" r="3.6" fill="#00ffff"/>
<circle cx="175.5" cy="765.6" r="3.6" fill="#00ffff"/>
<circle cx="174.4" cy="774.4" r="3.6" fill="#00ffff"/>
<circle cx="171.8" cy="786.2" r="3.6" fill="#00ffff"/>
<circle cx="173.1" cy="793.8" r="3.6" fill="#00ffff"/>
<circle cx="169.3" cy="804.0" r="3.6" fill="#00ffff"/>
<circle cx="169.8" cy="813.1" r="3.6" fill="#00ffff"/>
<circle cx="248.6" cy="297.0" r="3.6" fill="#00ffff"/>
<circle cx="242.8" cy="307.4" r="3.6" fill="#00ffff"/>
<circle cx="242.6" cy="318.6" r="3.6" fill="#00ffff"/>
<circle cx="237.4" cy="329.2" r="3.6" fill="#00ffff"/>
<circle cx="239.8" cy="337.1" r="3.6" fill="#00ffff"/>
<circle cx="238.5" cy="348.5" r="3.6" fill="#00ffff"/>
<circle cx="234.4" cy="355.3" r="3.6" fill="#00ffff"/>
<circle cx="232.3" cy="365.6" r="3.6" fill="#00ffff"/>
<circle cx="233.0" cy="378.9" r="3.6" fill="#00ffff"/>
<circle cx="231.1" cy="388.7" r="3.6" fill="#00ffff"/>
<circle cx="230.6" cy="398.4" r="3.6" fill="#00ffff"/>
<circle cx="231.6" cy="405.9" r="3.6" fill="#00ffff"/>
<circle cx="227.0" cy="418.6" r="3.6" fill="#00ffff"/>
<circle cx="228.4" cy="427.2" r="3.6" fill="#00ffff"/>
<circle cx="226.0" cy="435.6" r="3.6" fill="#00ffff"/>
<circle cx="223.9" cy="445.3" r="3.6" fill="#00ffff"/>
<circle cx="224.5" cy="455.7" r="3.6" fill="#00ffff"/>
<circle cx="221.1" cy="467.2" r="3.6" fill="#00ffff"/>
<circle cx="220.9" cy="474.6" r="3.6" fill="#00ffff"/>
<circle cx="218.9" cy="487.2" r="3.6" fill="#00ffff"/>
<circle cx="218.2" cy="495.7" r="3.6" fill="#00ffff"/>
<circle cx="218.8" cy="507.6" r="3.6" fill="#00ffff"/>
<circle cx="216.0" cy="514.6" r="3.6" fill="#00ffff"/>
<circle cx="215.1" cy="525.9" r="3.6" fill="#00ffff"/>
<circle cx="211.9" cy="536.8" r="3.6" fill="#00ffff"/>
<circle cx="212.7" cy="544.9" r="3.6" fill="#00ffff"/>
<circle cx="209.3" cy="555.8" r="3.6" fill="#00ffff"/>
<circle cx="209.9" cy="565.4" r="3.6" fill="#00ffff"/>
<circle cx="206.8" cy="575.3" r="3.6" fill="#00ffff"/>
<circle cx="204.5" cy="585.5" r="3.6" fill="#00ffff"/>
<circle cx="204.4" cy="597.4" r="3.6" fill="#00ffff"/>
<circle cx="200.4" cy="605.4" r="3.6" fill="#00ffff"/>
<circle cx="198.7" cy="616.8" r="3.6" fill="#00ffff"/>
<circle cx="200.1" cy="623.9" r="3.6" fill="#00ffff"/>
<circle cx="198.2" cy="635.5" r="3.6" fill="#00ffff"/>
<circle cx="196.9" cy="645.4" r="3.6" fill="#00ffff"/>
<circle cx="192.9" cy="655.6" r="3.6" fill="#00ffff"/>
<circle cx="193.1" cy="663.7" r="3.6" fill="#00ffff"/>
<circle cx="192.6" cy="676.2" r="3.6" fill="#00ffff"/>
<circle cx="190.5" cy="683.9" r="3.6" fill="#00ffff"/>
<circle cx="188.6" cy="695.0" r="3.6" fill="#00ffff"/>
<circle cx="186.5" cy="704.1" r="3.6" fill="#00ffff"/>
<circle cx="187.1" cy="715.5" r="3.6" fill="#00ffff"/>
<circle cx="184.4" cy="723.8" r="3.6" fill="#00ffff"/>
<circle cx="184.4" cy="736.5" r="3.6" fill="#00ffff"/>
<circle cx="180.4" cy="744.1" r="3.6" fill="#00ffff"/>
<circle cx="181.6" cy="757.0" r="3.6" fill="#00ffff"/>
<circle cx="177.2" cy="765.1" r="3.6" fill="#00ffff"/>
<circle cx="176.8" cy="776.8" r="3.6" fill="#00ffff"/>
<circle cx="176.3" cy="786.7" r="3.6" fill="#00ffff"/>
<circle cx="173.4" cy="796.3" r="3.6" fill="#00ffff"/>
<circle cx="172.3" cy="806.1" r="3.6" fill="#00ffff"/>
<polyline points="467.0,19.1 464.7,22.1 458.6,32.8 437.0,40.5 410.9,48.6 389.5,59.7 369.2,69.9 353.4,79.1 338.1,89.2 326.4,103.5 305.0,123.6 277.1,150.3 264.2,190.0 258.9,209.2 251.4,228.5 247.1,249.9 243.9,284.2 237.3,317.5 234.7,328.6 228.8,367.1 224.5,416.0 218.0,464.8 215.5,488.6 213.0,516.4 209.5,540.0 199.0,599.0 195.5,623.0 189.5,664.0 184.5,700.0 182.0,717.4 175.5,764.7 168.8,814.0" fill="none" stroke="#0000ff" stroke-width="2.7" stroke-linejoin="round"/>
<circle cx="467.3" cy="18.8" r="5.6" fill="#0000ff"/>
<circle cx="460.9" cy="28.7" r="5.6" fill="#0000ff"/>
<circle cx="442.2" cy="38.7" r="5.6" fill="#0000ff"/>
<circle cx="410.9" cy="48.6" r="5.6" fill="#0000ff"/>
<circle cx="391.7" cy="58.6" r="5.6" fill="#0000ff"/>
<circle cx="372.0" cy="68.5" r="5.6" fill="#0000ff"/>
<circle cx="354.5" cy="78.5" r="5.6" fill="#0000ff"/>
<circle cx="339.3" cy="88.4" r="5.6" fill="#0000ff"/>
<circle cx="330.6" cy="98.4" r="5.6" fill="#0000ff"/>
<circle cx="321.3" cy="108.3" r="5.6" fill="#0000ff"/>
<circle cx="310.7" cy="118.3" r="5.6" fill="#0000ff"/>
<circle cx="300.2" cy="128.2" r="5.6" fill="#0000ff"/>
<circle cx="289.8" cy="138.2" r="5.6" fill="#0000ff"/>
<circle cx="279.4" cy="148.1" r="5.6" fill="#0000ff"/>
<circle cx="274.6" cy="158.1" r="5.6" fill="#0000ff"/>
<circle cx="271.3" cy="168.0" r="5.6" fill="#0000ff"/>
<circle cx="268.1" cy="178.0" r="5.6" fill="#0000ff"/>
<circle cx="264.9" cy="187.9" r="5.6" fill="#0000ff"/>
<circle cx="262.0" cy="197.9" r="5.6" fill="#0000ff"/>
<circle cx="259.3" cy="207.8" r="5.6" fill="#0000ff"/>
<circle cx="255.6" cy="217.8" r="5.6" fill="#0000ff"/>
<circle cx="251.7" cy="227.8" r="5.6" fill="#0000ff"/>
<circle cx="249.6" cy="237.7" r="5.6" fill="#0000ff"/>
<circle cx="247.6" cy="247.7" r="5.6" fill="#0000ff"/>
<circle cx="243.4" cy="257.6" r="5.6" fill="#0000ff"/>
<circle cx="248.9" cy="262.6" r="5.6" fill="#0000ff"/>
<circle cx="242.5" cy="267.6" r="5.6" fill="#0000ff"/>
<circle cx="248.0" cy="272.5" r="5.6" fill="#0000ff"/>
<circle cx="241.5" cy="277.5" r="5.6" fill="#0000ff"/>
<circle cx="247.1" cy="282.5" r="5.6" fill="#0000ff"/>
<circle cx="240.3" cy="287.5" r="5.6" fill="#0000ff"/>
<circle cx="245.3" cy="292.4" r="5.6" fill="#0000ff"/>
<circle cx="238.3" cy="297.4" r="5.6" fill="#0000ff"/>
<circle cx="243.3" cy="302.4" r="5.6" fill="#0000ff"/>
<circle cx="236.3" cy="307.4" r="5.6" fill="#0000ff"/>
<circle cx="241.3" cy="312.3" r="5.6" fill="#0000ff"/>
<circle cx="234.3" cy="317.3" r="5.6" fill="#0000ff"/>
<circle cx="239.2" cy="322.3" r="5.6" fill="#0000ff"/>
<circle cx="232.0" cy="327.3" r="5.6" fill="#0000ff"/>
<circle cx="237.1" cy="332.3" r="5.6" fill="#0000ff"/>
<circle cx="230.4" cy="337.2" r="5.6" fill="#0000ff"/>
<circle cx="235.6" cy="342.2" r="5.6" fill="#0000ff"/>
<circle cx="228.9" cy="347.2" r="5.6" fill="#0000ff"/>
<circle cx="234.1" cy="352.2" r="5.6" fill="#0000ff"/>
<circle cx="227.3" cy="357.1" r="5.6" fill="#0000ff"/>
<circle cx="232.6" cy="362.1" r="5.6" fill="#0000ff"/>
<circle cx="225.8" cy="367.1" r="5.6" fill="#0000ff"/>
<circle cx="231.4" cy="372.1" r="5.6" fill="#0000ff"/>
<circle cx="224.9" cy="377.0" r="5.6" fill="#0000ff"/>
<circle cx="230.5" cy="382.0" r="5.6" fill="#0000ff"/>
<circle cx="224.1" cy="387.0" r="5.6" fill="#0000ff"/>
<circle cx="229.6" cy="392.0" r="5.6" fill="#0000ff"/>
<circle cx="223.2" cy="396.9" r="5.6" fill="#0000ff"/>
<circle cx="228.7" cy="401.9" r="5.6" fill="#0000ff"/>
<circle cx="222.3" cy="406.9" r="5.6" fill="#0000ff"/>
<circle cx="227.9" cy="411.9" r="5.6" fill="#0000ff"/>
<circle cx="221.4" cy="416.8" r="5.6" fill="#0000ff"/>
<circle cx="226.7" cy="421.8" r="5.6" fill="#0000ff"/>
<circle cx="220.1" cy="426.8" r="5.6" fill="#0000ff"/>
<circle cx="225.4" cy="431.8" r="5.6" fill="#0000ff"/>
<circle cx="218.7" cy="436.8" r="5.6" fill="#0000ff"/>
<circle cx="224.1" cy="441.7" r="5.6" fill="#0000ff"/>
<circle cx="217.4" cy="446.7" r="5.6" fill="#0000ff"/>
<circle cx="222.7" cy="451.7" r="5.6" fill="#0000ff"/>
<circle cx="216.1" cy="456.7" r="5.6" fill="#0000ff"/>
<circle cx="221.4" cy="461.6" r="5.6" fill="#0000ff"/>
<circle cx="214.8" cy="466.6" r="5.6" fill="#0000ff"/>
<circle cx="220.3" cy="471.6" r="5.6" fill="#0000ff"/>
<circle cx="213.8" cy="476.6" r="5.6" fill="#0000ff"/>
<circle cx="219.2" cy="481.5" r="5.6" fill="#0000ff"/>
<circle cx="212.7" cy="486.5" r="5.6" fill="#0000ff"/>
<circle cx="218.2" cy="491.5" r="5.6" fill="#0000ff"/>
<circle cx="211.8" cy="496.5" r="5.6" fill="#0000ff"/>
<circle cx="217.3" cy="501.4" r="5.6" fill="#0000ff"/>
<circle cx="210.9" cy="506.4" r="5.6" fill="#0000ff"/>
<circle cx="216.4" cy="511.4" r="5.6" fill="#0000ff"/>
<circle cx="210.0" cy="516.4" r="5.6" fill="#0000ff"/>
<circle cx="215.3" cy="521.4" r="5.6" fill="#0000ff"/>
<circle cx="208.5" cy="526.3" r="5.6" fill="#0000ff"/>
<circle cx="213.8" cy="531.3" r="5.6" fill="#0000ff"/>
<circle cx="207.1" cy="536.3" r="5.6" fill="#0000ff"/>
<circle cx="212.3" cy="541.3" r="5.6" fill="#0000ff"/>
<circle cx="205.4" cy="546.2" r="5.6" fill="#0000ff"/>
<circle cx="210.5" cy="551.2" r="5.6" fill="#0000ff"/>
<circle cx="203.6" cy="556.2" r="5.6" fill="#0000ff"/>
<circle cx="208.7" cy="561.2" r="5.6" fill="#0000ff"/>
<circle cx="201.8" cy="566.1" r="5.6" fill="#0000ff"/>
<circle cx="207.0" cy="571.1" r="5.6" fill="#0000ff"/>
<circle cx="200.1" cy="576.1" r="5.6" fill="#0000ff"/>
<circle cx="205.2" cy="581.1" r="5.6" fill="#0000ff"/>
<circle cx="198.3" cy="586.0" r="5.6" fill="#0000ff"/>
<circle cx="203.4" cy="591.0" r="5.6" fill="#0000ff"/>
<circle cx="196.5" cy="596.0" r="5.6" fill="#0000ff"/>
<circle cx="201.7" cy="601.0" r="5.6" fill="#0000ff"/>
<circle cx="195.0" cy="605.9" r="5.6" fill="#0000ff"/>
<circle cx="200.3" cy="610.9" r="5.6" fill="#0000ff"/>
<circle cx="193.5" cy="615.9" r="5.6" fill="#0000ff"/>
<circle cx="198.8" cy="620.9" r="5.6" fill="#0000ff"/>
<circle cx="192.1" cy="625.9" r="5.6" fill="#0000ff"/>
<circle cx="197.4" cy="630.8" r="5.6" fill="#0000ff"/>
<circle cx="190.6" cy="635.8" r="5.6" fill="#0000ff"/>
<circle cx="195.9" cy="640.8" r="5.6" fill="#0000ff"/>
<circle cx="189.2" cy="645.8" r="5.6" fill="#0000ff"/>
<circle cx="194.4" cy="650.7" r="5.6" fill="#0000ff"/>
<circle cx="187.7" cy="655.7" r="5.6" fill="#0000ff"/>
<circle cx="193.0" cy="660.7" r="5.6" fill="#0000ff"/>
<circle cx="186.3" cy="665.7" r="5.6" fill="#0000ff"/>
<circle cx="191.6" cy="670.6" r="5.6" fill="#0000ff"/>
<circle cx="184.9" cy="675.6" r="5.6" fill="#0000ff"/>
<circle cx="190.2" cy="680.6" r="5.6" fill="#0000ff"/>
<circle cx="183.5" cy="685.6" r="5.6" fill="#0000ff"/>
<circle cx="188.8" cy="690.5" r="5.6" fill="#0000ff"/>
<circle cx="182.1" cy="695.5" r="5.6" fill="#0000ff"/>
<circle cx="187.4" cy="700.5" r="5.6" fill="#0000ff"/>
<circle cx="180.7" cy="705.5" r="5.6" fill="#0000ff"/>
<circle cx="186.0" cy="710.4" r="5.6" fill="#0000ff"/>
<circle cx="179.3" cy="715.4" r="5.6" fill="#0000ff"/>
<circle cx="184.6" cy="720.4" r="5.6" fill="#0000ff"/>
<circle cx="177.9" cy="725.4" r="5.6" fill="#0000ff"/>
<circle cx="183.2" cy="730.4" r="5.6" fill="#0000ff"/>
<circle cx="176.5" cy="735.3" r="5.6" fill="#0000ff"/>
<circle cx="181.9" cy="740.3" r="5.6" fill="#0000ff"/>
<circle cx="175.2" cy="745.3" r="5.6" fill="#0000ff"/>
<circle cx="180.5" cy="750.3" r="5.6" fill="#0000ff"/>
<circle cx="173.8" cy="755.2" r="5.6" fill="#0000ff"/>
<circle cx="179.1" cy="760.2" r="5.6" fill="#0000ff"/>
<circle cx="172.4" cy="765.2" r="5.6" fill="#0000ff"/>
<circle cx="177.8" cy="770.2" r="5.6" fill="#0000ff"/>
<circle cx="171.1" cy="775.1" r="5.6" fill="#0000ff"/>
<circle cx="176.4" cy="780.1" r="5.6" fill="#0000ff"/>
<circle cx="169.7" cy="785.1" r="5.6" fill="#0000ff"/>
<circle cx="175.1" cy="790.1" r="5.6" fill="#0000ff"/>
<circle cx="168.4" cy="795.0" r="5.6" fill="#0000ff"/>
<circle cx="173.7" cy="800.0" r="5.6" fill="#0000ff"/>
<circle cx="167.0" cy="805.0" r="5.6" fill="#0000ff"/>
<circle cx="172.3" cy="810.0" r="5.6" fill="#0000ff"/>
<circle cx="165.7" cy="814.9" r="5.6" fill="#0000ff"/>
<circle cx="171.0" cy="819.9" r="5.6" fill="#0000ff"/>
<line x1="458.0" y1="18.8" x2="456.0" y2="22.7" stroke="#ff0000" stroke-width="6.0" stroke-linecap="round"/>
<line x1="456.0" y1="22.7" x2="453.0" y2="26.7" stroke="#ff0000" stroke-width="6.0" stroke-linecap="round"/>
<line x1="453.0" y1="26.7" x2="449.0" y2="30.7" stroke="#ff0000" stroke-width="6.0" stroke-linecap="round"/>
<line x1="449.0" y1="30.7" x2="445.0" y2="34.7" stroke="#ff0000" stroke-width="6.0" stroke-linecap="round"/>
<line x1="445.0" y1="34.7" x2="440.0" y2="38.7" stroke="#ff0000" stroke-width="6.0" stroke-linecap="round"/>
<line x1="440.0" y1="38.7" x2="433.0" y2="42.6" stroke="#ff0000" stroke-width="6.0" stroke-linecap="round"/>
<line x1="433.0" y1="42.6" x2="419.6" y2="48.6" stroke="#ff0000" stroke-width="6.0" stroke-linecap="round"/>
<line x1="419.6" y1="48.6" x2="402.0" y2="58.6" stroke="#ff0000" stroke-width="6.0" stroke-linecap="round"/>
<line x1="402.0" y1="58.6" x2="385.0" y2="68.5" stroke="#ff0000" stroke-width="6.0" stroke-linecap="round"/>
<line x1="385.0" y1="68.5" x2="362.0" y2="78.5" stroke="#ff0000" stroke-width="6.0" stroke-linecap="round"/>
<line x1="362.0" y1="78.5" x2="345.0" y2="88.4" stroke="#ff0000" stroke-width="6.0" stroke-linecap="round"/>
<line x1="345.0" y1="88.4" x2="333.0" y2="98.4" stroke="#ff0000" stroke-width="6.0" stroke-linecap="round"/>
<line x1="333.0" y1="98.4" x2="322.0" y2="108.3" stroke="#ff0000" stroke-width="6.0" stroke-linecap="round"/>
<line x1="322.0" y1="108.3" x2="310.0" y2="118.3" stroke="#ff0000" stroke-width="6.0" stroke-linecap="round"/>
<line x1="310.0" y1="118.3" x2="306.0" y2="138.2" stroke="#ff0000" stroke-width="6.0" stroke-linecap="round"/>
<line x1="306.0" y1="138.2" x2="299.6" y2="158.1" stroke="#ff0000" stroke-width="6.0" stroke-linecap="round"/>
<line x1="299.6" y1="158.1" x2="287.8" y2="178.0" stroke="#ff0000" stroke-width="6.0" stroke-linecap="round"/>
<line x1="287.8" y1="178.0" x2="277.1" y2="197.9" stroke="#ff0000" stroke-width="6.0" stroke-linecap="round"/>
<line x1="277.1" y1="197.9" x2="266.4" y2="217.8" stroke="#ff0000" stroke-width="6.0" stroke-linecap="round"/>
<line x1="266.4" y1="217.8" x2="248.2" y2="267.6" stroke="#ff0000" stroke-width="4.2" stroke-linecap="round"/>
<line x1="248.2" y1="267.6" x2="239.0" y2="317.3" stroke="#ff0000" stroke-width="2.8" stroke-linecap="round"/>
<line x1="239.0" y1="317.3" x2="227.0" y2="416.8" stroke="#ff0000" stroke-width="2.3" stroke-linecap="round"/>
<line x1="227.0" y1="416.8" x2="213.0" y2="516.4" stroke="#ff0000" stroke-width="2.3" stroke-linecap="round"/>
<line x1="213.0" y1="516.4" x2="197.4" y2="615.9" stroke="#ff0000" stroke-width="2.3" stroke-linecap="round"/>
<line x1="197.4" y1="615.9" x2="182.6" y2="715.4" stroke="#ff0000" stroke-width="2.3" stroke-linecap="round"/>
<line x1="182.6" y1="715.4" x2="168.4" y2="814.9" stroke="#ff0000" stroke-width="2.3" stroke-linecap="round"/>
<circle cx="458.0" cy="18.8" r="5.6" fill="#ff0000"/>
<circle cx="456.0" cy="22.7" r="5.6" fill="#ff0000"/>
<circle cx="453.0" cy="26.7" r="5.6" fill="#ff0000"/>
<circle cx="449.0" cy="30.7" r="5.6" fill="#ff0000"/>
<circle cx="445.0" cy="34.7" r="5.6" fill="#ff0000"/>
<circle cx="440.0" cy="38.7" r="5.6" fill="#ff0000"/>
<circle cx="433.0" cy="42.6" r="5.6" fill="#ff0000"/>
<circle cx="419.6" cy="48.6" r="5.6" fill="#ff0000"/>
<circle cx="402.0" cy="58.6" r="5.6" fill="#ff0000"/>
<circle cx="385.0" cy="68.5" r="5.6" fill="#ff0000"/>
<circle cx="362.0" cy="78.5" r="5.6" fill="#ff0000"/>
<circle cx="345.0" cy="88.4" r="5.6" fill="#ff0000"/>
<circle cx="333.0" cy="98.4" r="5.6" fill="#ff0000"/>
<circle cx="322.0" cy="108.3" r="5.6" fill="#ff0000"/>
<circle cx="310.0" cy="118.3" r="5.6" fill="#ff0000"/>
<circle cx="306.0" cy="138.2" r="5.6" fill="#ff0000"/>
<circle cx="299.6" cy="158.1" r="5.6" fill="#ff0000"/>
<circle cx="287.8" cy="178.0" r="5.6" fill="#ff0000"/>
<circle cx="277.1" cy="197.9" r="5.6" fill="#ff0000"/>
<circle cx="266.4" cy="217.8" r="5.6" fill="#ff0000"/>
<circle cx="248.2" cy="267.6" r="5.6" fill="#ff0000"/>
<circle cx="239.0" cy="317.3" r="5.6" fill="#ff0000"/>
<circle cx="227.0" cy="416.8" r="5.6" fill="#ff0000"/>
<circle cx="213.0" cy="516.4" r="5.6" fill="#ff0000"/>
<circle cx="197.4" cy="615.9" r="5.6" fill="#ff0000"/>
<circle cx="182.6" cy="715.4" r="5.6" fill="#ff0000"/>
<circle cx="168.4" cy="814.9" r="5.6" fill="#ff0000"/>
<polyline points="462.0,18.8 457.0,22.7 451.0,26.7 444.0,30.7 441.0,34.7 436.0,38.7 431.0,42.6 406.3,48.6 373.2,58.6 354.4,68.5 341.2,78.5 329.5,88.4 318.3,98.4 309.7,108.3 301.7,118.3 285.6,138.2 273.9,158.1 264.2,178.0 253.1,197.9 241.1,217.8 237.5,267.6 235.8,317.3 224.8,416.8 210.3,516.4 192.7,615.9 174.9,715.4 159.6,814.9" fill="none" stroke="#008000" stroke-width="2.7" stroke-linejoin="round"/>
<circle cx="462.0" cy="18.8" r="5.6" fill="#008000"/>
<circle cx="457.0" cy="22.7" r="5.6" fill="#008000"/>
<circle cx="451.0" cy="26.7" r="5.6" fill="#008000"/>
<circle cx="444.0" cy="30.7" r="5.6" fill="#008000"/>
<circle cx="441.0" cy="34.7" r="5.6" fill="#008000"/>
<circle cx="436.0" cy="38.7" r="5.6" fill="#008000"/>
<circle cx="431.0" cy="42.6" r="5.6" fill="#008000"/>
<circle cx="406.3" cy="48.6" r="5.6" fill="#008000"/>
<circle cx="373.2" cy="58.6" r="5.6" fill="#008000"/>
<circle cx="354.4" cy="68.5" r="5.6" fill="#008000"/>
<circle cx="341.2" cy="78.5" r="5.6" fill="#008000"/>
<circle cx="329.5" cy="88.4" r="5.6" fill="#008000"/>
<circle cx="318.3" cy="98.4" r="5.6" fill="#008000"/>
<circle cx="309.7" cy="108.3" r="5.6" fill="#008000"/>
<circle cx="301.7" cy="118.3" r="5.6" fill="#008000"/>
<circle cx="285.6" cy="138.2" r="5.6" fill="#008000"/>
<circle cx="273.9" cy="158.1" r="5.6" fill="#008000"/>
<circle cx="264.2" cy="178.0" r="5.6" fill="#008000"/>
<circle cx="253.1" cy="197.9" r="5.6" fill="#008000"/>
<circle cx="241.1" cy="217.8" r="5.6" fill="#008000"/>
<circle cx="237.5" cy="267.6" r="5.6" fill="#008000"/>
<circle cx="235.8" cy="317.3" r="5.6" fill="#008000"/>
<circle cx="224.8" cy="416.8" r="5.6" fill="#008000"/>
<circle cx="210.3" cy="516.4" r="5.6" fill="#008000"/>
<circle cx="192.7" cy="615.9" r="5.6" fill="#008000"/>
<circle cx="174.9" cy="715.4" r="5.6" fill="#008000"/>
<circle cx="159.6" cy="814.9" r="5.6" fill="#008000"/>
<polyline points="454.0,19.7 454.0,21.8 453.5,24.0 453.0,26.4 452.0,28.9 451.0,31.6 449.5,34.5 447.5,37.8 445.0,41.5 442.0,45.6 437.3,50.2 428.4,55.6 413.9,61.7 393.7,68.9 371.6,77.4 350.7,87.3 330.6,99.1 312.3,113.0 297.4,129.7 285.6,149.7 276.0,173.7 267.4,202.5 254.2,237.2 240.2,278.8 228.6,329.0 219.0,389.2 211.2,461.6 202.5,548.3 185.3,652.0 159.6,775.6 128.3,922.3" fill="none" stroke="#ff00ff" stroke-width="2.7" stroke-linejoin="round"/>
<circle cx="454.0" cy="19.7" r="5.6" fill="#ff00ff"/>
<circle cx="454.0" cy="21.8" r="5.6" fill="#ff00ff"/>
<circle cx="453.5" cy="24.0" r="5.6" fill="#ff00ff"/>
<circle cx="453.0" cy="26.4" r="5.6" fill="#ff00ff"/>
<circle cx="452.0" cy="28.9" r="5.6" fill="#ff00ff"/>
<circle cx="451.0" cy="31.6" r="5.6" fill="#ff00ff"/>
<circle cx="449.5" cy="34.5" r="5.6" fill="#ff00ff"/>
<circle cx="447.5" cy="37.8" r="5.6" fill="#ff00ff"/>
<circle cx="445.0" cy="41.5" r="5.6" fill="#ff00ff"/>
<circle cx="442.0" cy="45.6" r="5.6" fill="#ff00ff"/>
<circle cx="437.3" cy="50.2" r="5.6" fill="#ff00ff"/>
<circle cx="428.4" cy="55.6" r="5.6" fill="#ff00ff"/>
<circle cx="413.9" cy="61.7" r="5.6" fill="#ff00ff"/>
<circle cx="393.7" cy="68.9" r="5.6" fill="#ff00ff"/>
<circle cx="371.6" cy="77.4" r="5.6" fill="#ff00ff"/>
<circle cx="350.7" cy="87.3" r="5.6" fill="#ff00ff"/>
<circle cx="330.6" cy="99.1" r="5.6" fill="#ff00ff"/>
<circle cx="312.3" cy="113.0" r="5.6" fill="#ff00ff"/>
<circle cx="297.4" cy="129.7" r="5.6" fill="#ff00ff"/>
<circle cx="285.6" cy="149.7" r="5.6" fill="#ff00ff"/>
<circle cx="276.0" cy="173.7" r="5.6" fill="#ff00ff"/>
<circle cx="267.4" cy="202.5" r="5.6" fill="#ff00ff"/>
<circle cx="254.2" cy="237.2" r="5.6" fill="#ff00ff"/>
<circle cx="240.2" cy="278.8" r="5.6" fill="#ff00ff"/>
<circle cx="228.6" cy="329.0" r="5.6" fill="#ff00ff"/>
<circle cx="219.0" cy="389.2" r="5.6" fill="#ff00ff"/>
<circle cx="211.2" cy="461.6" r="5.6" fill="#ff00ff"/>
<circle cx="202.5" cy="548.3" r="5.6" fill="#ff00ff"/>
<circle cx="185.3" cy="652.0" r="5.6" fill="#ff00ff"/>
<circle cx="159.6" cy="775.6" r="5.6" fill="#ff00ff"/>
<circle cx="128.3" cy="922.3" r="5.6" fill="#ff00ff"/>
</g>
<g clip-path="url(#c1)">
<circle cx="637.9" cy="25.9" r="3.6" fill="#00ffff"/>
<circle cx="647.2" cy="22.0" r="3.6" fill="#00ffff"/>
<circle cx="652.6" cy="53.8" r="3.6" fill="#00ffff"/>
<circle cx="653.4" cy="58.5" r="3.6" fill="#00ffff"/>
<circle cx="658.0" cy="85.7" r="3.6" fill="#00ffff"/>
<circle cx="666.6" cy="95.7" r="3.6" fill="#00ffff"/>
<circle cx="675.1" cy="105.8" r="3.6" fill="#00ffff"/>
<circle cx="698.4" cy="74.0" r="3.6" fill="#00ffff"/>
<circle cx="697.6" cy="79.4" r="3.6" fill="#00ffff"/>
<circle cx="713.9" cy="84.1" r="3.6" fill="#00ffff"/>
<circle cx="711.6" cy="94.2" r="3.6" fill="#00ffff"/>
<circle cx="714.7" cy="103.5" r="3.6" fill="#00ffff"/>
<circle cx="725.6" cy="108.2" r="3.6" fill="#00ffff"/>
<circle cx="731.0" cy="104.3" r="3.6" fill="#00ffff"/>
<circle cx="750.4" cy="115.2" r="3.6" fill="#00ffff"/>
<circle cx="744.2" cy="124.5" r="3.6" fill="#00ffff"/>
<circle cx="759.0" cy="126.0" r="3.6" fill="#00ffff"/>
<circle cx="738.0" cy="128.4" r="3.6" fill="#00ffff"/>
<circle cx="744.2" cy="130.7" r="3.6" fill="#00ffff"/>
<circle cx="761.3" cy="137.7" r="3.6" fill="#00ffff"/>
<circle cx="776.0" cy="136.1" r="3.6" fill="#00ffff"/>
<circle cx="778.4" cy="147.0" r="3.6" fill="#00ffff"/>
<circle cx="784.6" cy="147.0" r="3.6" fill="#00ffff"/>
<circle cx="788.5" cy="156.3" r="3.6" fill="#00ffff"/>
<circle cx="703.1" cy="132.2" r="3.6" fill="#00ffff"/>
<circle cx="755.1" cy="143.9" r="3.6" fill="#00ffff"/>
<circle cx="778.3" cy="147.1" r="3.6" fill="#00ffff"/>
<circle cx="784.4" cy="147.1" r="3.6" fill="#00ffff"/>
<circle cx="787.5" cy="156.3" r="3.6" fill="#00ffff"/>
<circle cx="796.6" cy="167.5" r="3.6" fill="#00ffff"/>
<circle cx="799.7" cy="166.4" r="3.6" fill="#00ffff"/>
<circle cx="799.7" cy="176.6" r="3.6" fill="#00ffff"/>
<circle cx="806.8" cy="177.6" r="3.6" fill="#00ffff"/>
<circle cx="804.7" cy="185.8" r="3.6" fill="#00ffff"/>
<circle cx="810.8" cy="188.8" r="3.6" fill="#00ffff"/>
<circle cx="811.9" cy="194.9" r="3.6" fill="#00ffff"/>
<circle cx="815.9" cy="204.1" r="3.6" fill="#00ffff"/>
<circle cx="815.9" cy="215.2" r="3.6" fill="#00ffff"/>
<circle cx="823.0" cy="224.4" r="3.6" fill="#00ffff"/>
<circle cx="827.1" cy="232.5" r="3.6" fill="#00ffff"/>
<circle cx="828.1" cy="241.7" r="3.6" fill="#00ffff"/>
<circle cx="833.2" cy="252.9" r="3.6" fill="#00ffff"/>
<circle cx="837.3" cy="263.0" r="3.6" fill="#00ffff"/>
<circle cx="842.4" cy="273.2" r="3.6" fill="#00ffff"/>
<circle cx="846.4" cy="285.4" r="3.6" fill="#00ffff"/>
<circle cx="850.5" cy="296.6" r="3.6" fill="#00ffff"/>
<circle cx="854.6" cy="307.8" r="3.6" fill="#00ffff"/>
<circle cx="857.6" cy="318.0" r="3.6" fill="#00ffff"/>
<circle cx="722.4" cy="150.2" r="3.6" fill="#00ffff"/>
<circle cx="741.7" cy="162.4" r="3.6" fill="#00ffff"/>
<circle cx="749.8" cy="170.5" r="3.6" fill="#00ffff"/>
<circle cx="752.9" cy="180.7" r="3.6" fill="#00ffff"/>
<circle cx="765.1" cy="183.7" r="3.6" fill="#00ffff"/>
<circle cx="765.1" cy="189.8" r="3.6" fill="#00ffff"/>
<circle cx="773.2" cy="179.7" r="3.6" fill="#00ffff"/>
<circle cx="787.5" cy="221.4" r="3.6" fill="#00ffff"/>
<circle cx="799.7" cy="227.5" r="3.6" fill="#00ffff"/>
<circle cx="807.8" cy="237.6" r="3.6" fill="#00ffff"/>
<circle cx="816.9" cy="249.8" r="3.6" fill="#00ffff"/>
<circle cx="830.2" cy="258.0" r="3.6" fill="#00ffff"/>
<circle cx="813.9" cy="235.6" r="3.6" fill="#00ffff"/>
<circle cx="655.0" cy="30.0" r="3.6" fill="#00ffff"/>
<circle cx="657.0" cy="40.0" r="3.6" fill="#00ffff"/>
<circle cx="660.0" cy="65.0" r="3.6" fill="#00ffff"/>
<circle cx="668.0" cy="72.0" r="3.6" fill="#00ffff"/>
<circle cx="672.0" cy="85.0" r="3.6" fill="#00ffff"/>
<circle cx="680.0" cy="92.0" r="3.6" fill="#00ffff"/>
<circle cx="690.0" cy="100.0" r="3.6" fill="#00ffff"/>
<circle cx="700.0" cy="112.0" r="3.6" fill="#00ffff"/>
<circle cx="712.0" cy="120.0" r="3.6" fill="#00ffff"/>
<circle cx="690.0" cy="88.0" r="3.6" fill="#00ffff"/>
<circle cx="684.0" cy="80.0" r="3.6" fill="#00ffff"/>
<circle cx="676.0" cy="70.0" r="3.6" fill="#00ffff"/>
<circle cx="720.0" cy="118.0" r="3.6" fill="#00ffff"/>
<circle cx="730.0" cy="125.0" r="3.6" fill="#00ffff"/>
<circle cx="869.6" cy="355.6" r="3.6" fill="#00ffff"/>
<circle cx="873.6" cy="366.8" r="3.6" fill="#00ffff"/>
<circle cx="877.8" cy="376.8" r="3.6" fill="#00ffff"/>
<circle cx="880.4" cy="385.2" r="3.6" fill="#00ffff"/>
<circle cx="882.6" cy="395.3" r="3.6" fill="#00ffff"/>
<circle cx="884.2" cy="408.0" r="3.6" fill="#00ffff"/>
<circle cx="885.5" cy="415.1" r="3.6" fill="#00ffff"/>
<circle cx="889.4" cy="426.3" r="3.6" fill="#00ffff"/>
<circle cx="890.3" cy="435.3" r="3.6" fill="#00ffff"/>
<circle cx="891.5" cy="448.7" r="3.6" fill="#00ffff"/>
<circle cx="890.5" cy="457.9" r="3.6" fill="#00ffff"/>
<circle cx="893.1" cy="468.5" r="3.6" fill="#00ffff"/>
<circle cx="895.9" cy="478.4" r="3.6" fill="#00ffff"/>
<circle cx="896.1" cy="485.2" r="3.6" fill="#00ffff"/>
<circle cx="894.6" cy="498.2" r="3.6" fill="#00ffff"/>
<circle cx="897.9" cy="505.8" r="3.6" fill="#00ffff"/>
<circle cx="899.0" cy="515.0" r="3.6" fill="#00ffff"/>
<circle cx="899.2" cy="525.4" r="3.6" fill="#00ffff"/>
<circle cx="898.5" cy="534.9" r="3.6" fill="#00ffff"/>
<circle cx="898.1" cy="547.9" r="3.6" fill="#00ffff"/>
<circle cx="899.6" cy="555.2" r="3.6" fill="#00ffff"/>
<circle cx="898.2" cy="565.4" r="3.6" fill="#00ffff"/>
<circle cx="899.0" cy="574.8" r="3.6" fill="#00ffff"/>
<circle cx="901.6" cy="587.8" r="3.6" fill="#00ffff"/>
<circle cx="893.9" cy="597.6" r="3.6" fill="#00ffff"/>
<circle cx="894.0" cy="607.1" r="3.6" fill="#00ffff"/>
<circle cx="895.8" cy="616.0" r="3.6" fill="#00ffff"/>
<circle cx="896.7" cy="625.3" r="3.6" fill="#00ffff"/>
<circle cx="896.1" cy="636.0" r="3.6" fill="#00ffff"/>
<circle cx="895.0" cy="647.3" r="3.6" fill="#00ffff"/>
<circle cx="896.8" cy="657.7" r="3.6" fill="#00ffff"/>
<circle cx="897.5" cy="665.2" r="3.6" fill="#00ffff"/>
<circle cx="898.3" cy="674.7" r="3.6" fill="#00ffff"/>
<circle cx="896.7" cy="685.9" r="3.6" fill="#00ffff"/>
<circle cx="897.2" cy="696.6" r="3.6" fill="#00ffff"/>
<circle cx="898.3" cy="704.2" r="3.6" fill="#00ffff"/>
<circle cx="898.7" cy="713.6" r="3.6" fill="#00ffff"/>
<circle cx="898.4" cy="724.4" r="3.6" fill="#00ffff"/>
<circle cx="898.5" cy="737.3" r="3.6" fill="#00ffff"/>
<circle cx="897.9" cy="745.9" r="3.6" fill="#00ffff"/>
<circle cx="897.2" cy="753.3" r="3.6" fill="#00ffff"/>
<circle cx="899.2" cy="763.8" r="3.6" fill="#00ffff"/>
<circle cx="899.2" cy="774.9" r="3.6" fill="#00ffff"/>
<circle cx="898.3" cy="786.7" r="3.6" fill="#00ffff"/>
<circle cx="900.0" cy="794.0" r="3.6" fill="#00ffff"/>
<circle cx="898.2" cy="803.1" r="3.6" fill="#00ffff"/>
<circle cx="867.4" cy="347.4" r="3.6" fill="#00ffff"/>
<circle cx="868.1" cy="355.7" r="3.6" fill="#00ffff"/>
<circle cx="873.6" cy="367.5" r="3.6" fill="#00ffff"/>
<circle cx="877.3" cy="377.6" r="3.6" fill="#00ffff"/>
<circle cx="877.3" cy="385.7" r="3.6" fill="#00ffff"/>
<circle cx="878.2" cy="396.1" r="3.6" fill="#00ffff"/>
<circle cx="883.4" cy="408.4" r="3.6" fill="#00ffff"/>
<circle cx="882.1" cy="417.7" r="3.6" fill="#00ffff"/>
<circle cx="887.0" cy="428.2" r="3.6" fill="#00ffff"/>
<circle cx="888.2" cy="436.6" r="3.6" fill="#00ffff"/>
<circle cx="887.3" cy="446.5" r="3.6" fill="#00ffff"/>
<circle cx="888.4" cy="455.1" r="3.6" fill="#00ffff"/>
<circle cx="890.1" cy="464.8" r="3.6" fill="#00ffff"/>
<circle cx="893.1" cy="477.6" r="3.6" fill="#00ffff"/>
<circle cx="894.2" cy="487.9" r="3.6" fill="#00ffff"/>
<circle cx="894.4" cy="495.5" r="3.6" fill="#00ffff"/>
<circle cx="896.2" cy="506.2" r="3.6" fill="#00ffff"/>
<circle cx="894.6" cy="516.5" r="3.6" fill="#00ffff"/>
<circle cx="898.0" cy="526.9" r="3.6" fill="#00ffff"/>
<circle cx="898.1" cy="535.2" r="3.6" fill="#00ffff"/>
<circle cx="896.2" cy="544.3" r="3.6" fill="#00ffff"/>
<circle cx="898.6" cy="555.1" r="3.6" fill="#00ffff"/>
<circle cx="899.2" cy="567.9" r="3.6" fill="#00ffff"/>
<circle cx="900.0" cy="575.4" r="3.6" fill="#00ffff"/>
<circle cx="897.8" cy="585.4" r="3.6" fill="#00ffff"/>
<circle cx="892.4" cy="597.6" r="3.6" fill="#00ffff"/>
<circle cx="892.8" cy="606.7" r="3.6" fill="#00ffff"/>
<circle cx="892.5" cy="617.8" r="3.6" fill="#00ffff"/>
<circle cx="893.4" cy="627.2" r="3.6" fill="#00ffff"/>
<circle cx="892.9" cy="637.2" r="3.6" fill="#00ffff"/>
<circle cx="893.5" cy="646.7" r="3.6" fill="#00ffff"/>
<circle cx="892.7" cy="654.9" r="3.6" fill="#00ffff"/>
<circle cx="892.5" cy="666.2" r="3.6" fill="#00ffff"/>
<circle cx="893.0" cy="677.3" r="3.6" fill="#00ffff"/>
<circle cx="893.1" cy="683.7" r="3.6" fill="#00ffff"/>
<circle cx="894.1" cy="697.2" r="3.6" fill="#00ffff"/>
<circle cx="893.3" cy="704.0" r="3.6" fill="#00ffff"/>
<circle cx="895.5" cy="713.6" r="3.6" fill="#00ffff"/>
<circle cx="895.8" cy="725.9" r="3.6" fill="#00ffff"/>
<circle cx="894.1" cy="736.3" r="3.6" fill="#00ffff"/>
<circle cx="895.2" cy="745.6" r="3.6" fill="#00ffff"/>
<circle cx="896.8" cy="756.5" r="3.6" fill="#00ffff"/>
<circle cx="894.8" cy="766.7" r="3.6" fill="#00ffff"/>
<circle cx="897.6" cy="776.6" r="3.6" fill="#00ffff"/>
<circle cx="895.4" cy="786.9" r="3.6" fill="#00ffff"/>
<circle cx="895.5" cy="793.9" r="3.6" fill="#00ffff"/>
<circle cx="897.9" cy="803.1" r="3.6" fill="#00ffff"/>
<circle cx="866.2" cy="349.1" r="3.6" fill="#00ffff"/>
<circle cx="871.7" cy="357.1" r="3.6" fill="#00ffff"/>
<circle cx="874.4" cy="368.3" r="3.6" fill="#00ffff"/>
<circle cx="877.2" cy="377.0" r="3.6" fill="#00ffff"/>
<circle cx="879.4" cy="388.3" r="3.6" fill="#00ffff"/>
<circle cx="881.5" cy="398.7" r="3.6" fill="#00ffff"/>
<circle cx="884.5" cy="405.8" r="3.6" fill="#00ffff"/>
<circle cx="884.2" cy="416.8" r="3.6" fill="#00ffff"/>
<circle cx="886.1" cy="427.3" r="3.6" fill="#00ffff"/>
<circle cx="890.0" cy="437.9" r="3.6" fill="#00ffff"/>
<circle cx="891.0" cy="447.8" r="3.6" fill="#00ffff"/>
<circle cx="891.1" cy="456.1" r="3.6" fill="#00ffff"/>
<circle cx="894.3" cy="466.2" r="3.6" fill="#00ffff"/>
<circle cx="895.4" cy="474.9" r="3.6" fill="#00ffff"/>
<circle cx="893.7" cy="484.6" r="3.6" fill="#00ffff"/>
<circle cx="897.7" cy="495.5" r="3.6" fill="#00ffff"/>
<circle cx="896.4" cy="506.4" r="3.6" fill="#00ffff"/>
<circle cx="896.5" cy="517.9" r="3.6" fill="#00ffff"/>
<circle cx="898.1" cy="526.2" r="3.6" fill="#00ffff"/>
<circle cx="899.6" cy="537.3" r="3.6" fill="#00ffff"/>
<circle cx="898.5" cy="546.8" r="3.6" fill="#00ffff"/>
<circle cx="898.2" cy="555.5" r="3.6" fill="#00ffff"/>
<circle cx="900.7" cy="567.5" r="3.6" fill="#00ffff"/>
<circle cx="899.1" cy="577.1" r="3.6" fill="#00ffff"/>
<circle cx="901.9" cy="585.8" r="3.6" fill="#00ffff"/>
<circle cx="893.7" cy="596.3" r="3.6" fill="#00ffff"/>
<circle cx="896.3" cy="605.8" r="3.6" fill="#00ffff"/>
<circle cx="894.4" cy="614.9" r="3.6" fill="#00ffff"/>
<circle cx="896.2" cy="625.1" r="3.6" fill="#00ffff"/>
<circle cx="894.8" cy="637.2" r="3.6" fill="#00ffff"/>
<circle cx="895.3" cy="644.4" r="3.6" fill="#00ffff"/>
<circle cx="896.4" cy="655.0" r="3.6" fill="#00ffff"/>
<circle cx="896.0" cy="664.3" r="3.6" fill="#00ffff"/>
<circle cx="898.2" cy="674.4" r="3.6" fill="#00ffff"/>
<circle cx="895.9" cy="686.5" r="3.6" fill="#00ffff"/>
<circle cx="896.2" cy="697.4" r="3.6" fill="#00ffff"/>
<circle cx="899.0" cy="705.0" r="3.6" fill="#00ffff"/>
<circle cx="898.5" cy="716.6" r="3.6" fill="#00ffff"/>
<circle cx="897.1" cy="725.1" r="3.6" fill="#00ffff"/>
<circle cx="897.1" cy="735.9" r="3.6" fill="#00ffff"/>
<circle cx="898.1" cy="744.1" r="3.6" fill="#00ffff"/>
<circle cx="898.3" cy="753.4" r="3.6" fill="#00ffff"/>
<circle cx="899.5" cy="766.3" r="3.6" fill="#00ffff"/>
<circle cx="899.5" cy="775.1" r="3.6" fill="#00ffff"/>
<circle cx="898.2" cy="784.9" r="3.6" fill="#00ffff"/>
<circle cx="899.3" cy="795.5" r="3.6" fill="#00ffff"/>
<circle cx="901.0" cy="806.0" r="3.6" fill="#00ffff"/>
<circle cx="869.3" cy="348.3" r="3.6" fill="#00ffff"/>
<circle cx="869.9" cy="357.2" r="3.6" fill="#00ffff"/>
<circle cx="875.3" cy="367.4" r="3.6" fill="#00ffff"/>
<circle cx="877.7" cy="377.9" r="3.6" fill="#00ffff"/>
<circle cx="881.3" cy="387.5" r="3.6" fill="#00ffff"/>
<circle cx="881.4" cy="397.0" r="3.6" fill="#00ffff"/>
<circle cx="882.8" cy="408.7" r="3.6" fill="#00ffff"/>
<circle cx="885.2" cy="417.6" r="3.6" fill="#00ffff"/>
<circle cx="886.0" cy="427.8" r="3.6" fill="#00ffff"/>
<circle cx="888.4" cy="438.7" r="3.6" fill="#00ffff"/>
<circle cx="888.9" cy="444.9" r="3.6" fill="#00ffff"/>
<circle cx="889.3" cy="456.3" r="3.6" fill="#00ffff"/>
<circle cx="892.2" cy="466.3" r="3.6" fill="#00ffff"/>
<circle cx="893.2" cy="477.4" r="3.6" fill="#00ffff"/>
<circle cx="893.6" cy="485.6" r="3.6" fill="#00ffff"/>
<circle cx="897.7" cy="497.4" r="3.6" fill="#00ffff"/>
<circle cx="895.5" cy="506.5" r="3.6" fill="#00ffff"/>
<circle cx="896.8" cy="517.6" r="3.6" fill="#00ffff"/>
<circle cx="896.2" cy="525.2" r="3.6" fill="#00ffff"/>
<circle cx="899.6" cy="537.4" r="3.6" fill="#00ffff"/>
<circle cx="898.7" cy="546.8" r="3.6" fill="#00ffff"/>
<circle cx="898.2" cy="556.4" r="3.6" fill="#00ffff"/>
<circle cx="899.2" cy="568.0" r="3.6" fill="#00ffff"/>
<circle cx="901.4" cy="576.6" r="3.6" fill="#00ffff"/>
<circle cx="900.4" cy="587.3" r="3.6" fill="#00ffff"/>
<circle cx="901.0" cy="595.2" r="3.6" fill="#00ffff"/>
<circle cx="895.6" cy="604.5" r="3.6" fill="#00ffff"/>
<circle cx="895.9" cy="615.3" r="3.6" fill="#00ffff"/>
<circle cx="894.7" cy="624.9" r="3.6" fill="#00ffff"/>
<circle cx="895.1" cy="634.8" r="3.6" fill="#00ffff"/>
<circle cx="894.1" cy="644.5" r="3.6" fill="#00ffff"/>
<circle cx="895.3" cy="656.6" r="3.6" fill="#00ffff"/>
<circle cx="895.5" cy="664.6" r="3.6" fill="#00ffff"/>
<circle cx="896.2" cy="675.5" r="3.6" fill="#00ffff"/>
<circle cx="897.1" cy="686.1" r="3.6" fill="#00ffff"/>
<circle cx="898.2" cy="695.0" r="3.6" fill="#00ffff"/>
<circle cx="895.8" cy="706.9" r="3.6" fill="#00ffff"/>
<circle cx="898.6" cy="716.7" r="3.6" fill="#00ffff"/>
<circle cx="896.5" cy="726.5" r="3.6" fill="#00ffff"/>
<circle cx="898.2" cy="736.6" r="3.6" fill="#00ffff"/>
<circle cx="896.5" cy="743.4" r="3.6" fill="#00ffff"/>
<circle cx="898.7" cy="757.0" r="3.6" fill="#00ffff"/>
<circle cx="897.2" cy="764.2" r="3.6" fill="#00ffff"/>
<circle cx="897.8" cy="773.7" r="3.6" fill="#00ffff"/>
<circle cx="898.4" cy="786.2" r="3.6" fill="#00ffff"/>
<circle cx="900.3" cy="793.7" r="3.6" fill="#00ffff"/>
<circle cx="898.3" cy="806.2" r="3.6" fill="#00ffff"/>
<circle cx="865.6" cy="347.7" r="3.6" fill="#00ffff"/>
<circle cx="872.5" cy="357.6" r="3.6" fill="#00ffff"/>
<circle cx="874.9" cy="368.8" r="3.6" fill="#00ffff"/>
<circle cx="878.1" cy="379.0" r="3.6" fill="#00ffff"/>
<circle cx="881.5" cy="386.9" r="3.6" fill="#00ffff"/>
<circle cx="882.4" cy="395.1" r="3.6" fill="#00ffff"/>
<circle cx="883.2" cy="407.4" r="3.6" fill="#00ffff"/>
<circle cx="885.3" cy="418.3" r="3.6" fill="#00ffff"/>
<circle cx="887.5" cy="426.7" r="3.6" fill="#00ffff"/>
<circle cx="887.9" cy="437.8" r="3.6" fill="#00ffff"/>
<circle cx="889.8" cy="446.4" r="3.6" fill="#00ffff"/>
<circle cx="892.7" cy="456.9" r="3.6" fill="#00ffff"/>
<circle cx="893.9" cy="465.8" r="3.6" fill="#00ffff"/>
<circle cx="893.8" cy="476.2" r="3.6" fill="#00ffff"/>
<circle cx="894.9" cy="485.6" r="3.6" fill="#00ffff"/>
<circle cx="896.8" cy="498.4" r="3.6" fill="#00ffff"/>
<circle cx="896.1" cy="507.6" r="3.6" fill="#00ffff"/>
<circle cx="896.4" cy="515.6" r="3.6" fill="#00ffff"/>
<circle cx="898.4" cy="526.7" r="3.6" fill="#00ffff"/>
<circle cx="896.6" cy="537.4" r="3.6" fill="#00ffff"/>
<circle cx="900.5" cy="547.1" r="3.6" fill="#00ffff"/>
<circle cx="897.6" cy="556.4" r="3.6" fill="#00ffff"/>
<circle cx="897.8" cy="565.3" r="3.6" fill="#00ffff"/>
<circle cx="901.9" cy="574.9" r="3.6" fill="#00ffff"/>
<circle cx="901.3" cy="586.5" r="3.6" fill="#00ffff"/>
<circle cx="895.8" cy="597.1" r="3.6" fill="#00ffff"/>
<circle cx="895.2" cy="606.4" r="3.6" fill="#00ffff"/>
<circle cx="895.7" cy="616.4" r="3.6" fill="#00ffff"/>
<circle cx="895.9" cy="626.2" r="3.6" fill="#00ffff"/>
<circle cx="896.1" cy="634.7" r="3.6" fill="#00ffff"/>
<circle cx="896.6" cy="645.6" r="3.6" fill="#00ffff"/>
<circle cx="895.1" cy="654.1" r="3.6" fill="#00ffff"/>
<circle cx="897.1" cy="663.8" r="3.6" fill="#00ffff"/>
<circle cx="897.1" cy="677.3" r="3.6" fill="#00ffff"/>
<circle cx="897.8" cy="685.0" r="3.6" fill="#00ffff"/>
<circle cx="897.3" cy="696.7" r="3.6" fill="#00ffff"/>
<circle cx="896.7" cy="704.5" r="3.6" fill="#00ffff"/>
<circle cx="897.0" cy="715.1" r="3.6" fill="#00ffff"/>
<circle cx="898.2" cy="725.1" r="3.6" fill="#00ffff"/>
<circle cx="896.7" cy="737.1" r="3.6" fill="#00ffff"/>
<circle cx="896.8" cy="745.6" r="3.6" fill="#00ffff"/>
<circle cx="899.3" cy="753.7" r="3.6" fill="#00ffff"/>
<circle cx="899.9" cy="765.5" r="3.6" fill="#00ffff"/>
<circle cx="897.4" cy="774.9" r="3.6" fill="#00ffff"/>
<circle cx="899.3" cy="784.6" r="3.6" fill="#00ffff"/>
<circle cx="900.8" cy="796.8" r="3.6" fill="#00ffff"/>
<circle cx="899.2" cy="804.9" r="3.6" fill="#00ffff"/>
<circle cx="900.1" cy="813.4" r="3.6" fill="#00ffff"/>
<circle cx="869.7" cy="358.6" r="3.6" fill="#00ffff"/>
<circle cx="871.7" cy="365.3" r="3.6" fill="#00ffff"/>
<circle cx="874.9" cy="377.3" r="3.6" fill="#00ffff"/>
<circle cx="876.2" cy="387.7" r="3.6" fill="#00ffff"/>
<circle cx="879.0" cy="398.1" r="3.6" fill="#00ffff"/>
<circle cx="881.8" cy="407.5" r="3.6" fill="#00ffff"/>
<circle cx="882.5" cy="416.5" r="3.6" fill="#00ffff"/>
<circle cx="886.9" cy="427.9" r="3.6" fill="#00ffff"/>
<circle cx="886.8" cy="437.9" r="3.6" fill="#00ffff"/>
<circle cx="885.8" cy="445.9" r="3.6" fill="#00ffff"/>
<circle cx="889.9" cy="458.5" r="3.6" fill="#00ffff"/>
<circle cx="889.6" cy="467.9" r="3.6" fill="#00ffff"/>
<circle cx="893.3" cy="477.0" r="3.6" fill="#00ffff"/>
<circle cx="893.0" cy="487.8" r="3.6" fill="#00ffff"/>
<circle cx="893.1" cy="495.7" r="3.6" fill="#00ffff"/>
<circle cx="893.8" cy="508.0" r="3.6" fill="#00ffff"/>
<circle cx="895.2" cy="517.1" r="3.6" fill="#00ffff"/>
<circle cx="896.6" cy="527.9" r="3.6" fill="#00ffff"/>
<circle cx="893.8" cy="535.4" r="3.6" fill="#00ffff"/>
<circle cx="896.1" cy="545.3" r="3.6" fill="#00ffff"/>
<circle cx="898.2" cy="556.5" r="3.6" fill="#00ffff"/>
<circle cx="895.6" cy="567.7" r="3.6" fill="#00ffff"/>
<circle cx="899.0" cy="577.4" r="3.6" fill="#00ffff"/>
<circle cx="898.4" cy="587.5" r="3.6" fill="#00ffff"/>
<circle cx="899.8" cy="595.1" r="3.6" fill="#00ffff"/>
<circle cx="891.6" cy="607.2" r="3.6" fill="#00ffff"/>
<circle cx="890.9" cy="617.5" r="3.6" fill="#00ffff"/>
<circle cx="891.7" cy="624.2" r="3.6" fill="#00ffff"/>
<circle cx="890.9" cy="637.0" r="3.6" fill="#00ffff"/>
<circle cx="893.4" cy="646.8" r="3.6" fill="#00ffff"/>
<circle cx="892.6" cy="654.7" r="3.6" fill="#00ffff"/>
<circle cx="892.5" cy="666.4" r="3.6" fill="#00ffff"/>
<circle cx="892.0" cy="674.4" r="3.6" fill="#00ffff"/>
<circle cx="893.9" cy="686.6" r="3.6" fill="#00ffff"/>
<circle cx="892.1" cy="695.4" r="3.6" fill="#00ffff"/>
<circle cx="894.4" cy="706.7" r="3.6" fill="#00ffff"/>
<circle cx="894.0" cy="714.4" r="3.6" fill="#00ffff"/>
<circle cx="895.2" cy="727.0" r="3.6" fill="#00ffff"/>
<circle cx="894.1" cy="735.4" r="3.6" fill="#00ffff"/>
<circle cx="893.5" cy="745.6" r="3.6" fill="#00ffff"/>
<circle cx="893.6" cy="754.0" r="3.6" fill="#00ffff"/>
<circle cx="894.4" cy="766.0" r="3.6" fill="#00ffff"/>
<circle cx="894.8" cy="775.4" r="3.6" fill="#00ffff"/>
<circle cx="894.2" cy="785.2" r="3.6" fill="#00ffff"/>
<circle cx="896.9" cy="793.2" r="3.6" fill="#00ffff"/>
<circle cx="894.5" cy="804.5" r="3.6" fill="#00ffff"/>
<circle cx="865.4" cy="347.4" r="3.6" fill="#00ffff"/>
<circle cx="870.6" cy="359.0" r="3.6" fill="#00ffff"/>
<circle cx="872.3" cy="366.7" r="3.6" fill="#00ffff"/>
<circle cx="876.6" cy="375.7" r="3.6" fill="#00ffff"/>
<circle cx="876.7" cy="389.0" r="3.6" fill="#00ffff"/>
<circle cx="878.0" cy="395.1" r="3.6" fill="#00ffff"/>
<circle cx="882.7" cy="406.3" r="3.6" fill="#00ffff"/>
<circle cx="884.7" cy="418.5" r="3.6" fill="#00ffff"/>
<circle cx="885.8" cy="425.0" r="3.6" fill="#00ffff"/>
<circle cx="887.1" cy="437.6" r="3.6" fill="#00ffff"/>
<circle cx="886.1" cy="448.6" r="3.6" fill="#00ffff"/>
<circle cx="889.7" cy="455.2" r="3.6" fill="#00ffff"/>
<circle cx="891.1" cy="468.4" r="3.6" fill="#00ffff"/>
<circle cx="891.6" cy="475.8" r="3.6" fill="#00ffff"/>
<circle cx="891.0" cy="487.5" r="3.6" fill="#00ffff"/>
<circle cx="892.5" cy="495.8" r="3.6" fill="#00ffff"/>
<circle cx="894.1" cy="504.9" r="3.6" fill="#00ffff"/>
<circle cx="893.7" cy="515.1" r="3.6" fill="#00ffff"/>
<circle cx="896.0" cy="524.9" r="3.6" fill="#00ffff"/>
<circle cx="896.6" cy="534.3" r="3.6" fill="#00ffff"/>
<circle cx="894.5" cy="545.0" r="3.6" fill="#00ffff"/>
<circle cx="895.9" cy="557.9" r="3.6" fill="#00ffff"/>
<circle cx="898.9" cy="567.9" r="3.6" fill="#00ffff"/>
<circle cx="896.4" cy="577.6" r="3.6" fill="#00ffff"/>
<circle cx="896.5" cy="585.8" r="3.6" fill="#00ffff"/>
<circle cx="891.9" cy="597.7" r="3.6" fill="#00ffff"/>
<circle cx="891.0" cy="606.5" r="3.6" fill="#00ffff"/>
<circle cx="892.3" cy="615.3" r="3.6" fill="#00ffff"/>
<circle cx="892.0" cy="625.8" r="3.6" fill="#00ffff"/>
<circle cx="891.0" cy="634.4" r="3.6" fill="#00ffff"/>
<circle cx="892.7" cy="644.0" r="3.6" fill="#00ffff"/>
<circle cx="891.3" cy="655.9" r="3.6" fill="#00ffff"/>
<circle cx="891.9" cy="667.1" r="3.6" fill="#00ffff"/>
<circle cx="891.8" cy="675.3" r="3.6" fill="#00ffff"/>
<circle cx="894.1" cy="684.7" r="3.6" fill="#00ffff"/>
<circle cx="892.3" cy="694.9" r="3.6" fill="#00ffff"/>
<circle cx="893.0" cy="705.4" r="3.6" fill="#00ffff"/>
<circle cx="892.7" cy="717.0" r="3.6" fill="#00ffff"/>
<circle cx="892.7" cy="727.3" r="3.6" fill="#00ffff"/>
<circle cx="894.8" cy="736.9" r="3.6" fill="#00ffff"/>
<circle cx="894.3" cy="744.1" r="3.6" fill="#00ffff"/>
<circle cx="893.9" cy="754.4" r="3.6" fill="#00ffff"/>
<circle cx="894.4" cy="764.0" r="3.6" fill="#00ffff"/>
<circle cx="896.6" cy="777.1" r="3.6" fill="#00ffff"/>
<circle cx="894.1" cy="786.8" r="3.6" fill="#00ffff"/>
<circle cx="896.7" cy="794.2" r="3.6" fill="#00ffff"/>
<circle cx="896.4" cy="803.2" r="3.6" fill="#00ffff"/>
<polyline points="655.0,19.1 655.5,30.0 654.9,41.4 658.8,50.7 666.6,61.6 674.3,70.9 680.6,80.2 686.8,91.1 696.1,100.4 707.0,109.7 720.0,120.6 732.0,130.7 746.8,142.0 756.9,151.2 769.1,161.4 776.3,171.5 783.4,181.7 791.5,190.8 798.6,201.0 800.7,211.2 806.8,220.3 812.9,229.5 814.9,239.7 822.0,250.8 827.1,260.0 829.1,270.2 834.2,280.3 838.3,290.5 842.4,300.7 845.4,310.8 849.5,321.0 856.2,340.6 866.0,362.9 871.5,385.2 875.7,407.5 879.9,429.8 882.7,452.1 885.5,474.3 888.2,499.4 889.6,524.5 891.0,549.6 891.9,570.0 893.0,600.0 895.5,700.0 898.0,814.0" fill="none" stroke="#0000ff" stroke-width="2.7" stroke-linejoin="round"/>
<circle cx="655.0" cy="18.8" r="5.6" fill="#0000ff"/>
<circle cx="655.4" cy="28.7" r="5.6" fill="#0000ff"/>
<circle cx="655.0" cy="38.7" r="5.6" fill="#0000ff"/>
<circle cx="657.9" cy="48.6" r="5.6" fill="#0000ff"/>
<circle cx="664.4" cy="58.6" r="5.6" fill="#0000ff"/>
<circle cx="672.3" cy="68.5" r="5.6" fill="#0000ff"/>
<circle cx="679.4" cy="78.5" r="5.6" fill="#0000ff"/>
<circle cx="685.3" cy="88.4" r="5.6" fill="#0000ff"/>
<circle cx="694.1" cy="98.4" r="5.6" fill="#0000ff"/>
<circle cx="705.4" cy="108.3" r="5.6" fill="#0000ff"/>
<circle cx="717.2" cy="118.3" r="5.6" fill="#0000ff"/>
<circle cx="729.1" cy="128.2" r="5.6" fill="#0000ff"/>
<circle cx="741.8" cy="138.2" r="5.6" fill="#0000ff"/>
<circle cx="753.5" cy="148.1" r="5.6" fill="#0000ff"/>
<circle cx="765.1" cy="158.1" r="5.6" fill="#0000ff"/>
<circle cx="773.8" cy="168.0" r="5.6" fill="#0000ff"/>
<circle cx="780.8" cy="178.0" r="5.6" fill="#0000ff"/>
<circle cx="789.0" cy="187.9" r="5.6" fill="#0000ff"/>
<circle cx="796.4" cy="197.9" r="5.6" fill="#0000ff"/>
<circle cx="800.0" cy="207.8" r="5.6" fill="#0000ff"/>
<circle cx="805.1" cy="217.8" r="5.6" fill="#0000ff"/>
<circle cx="811.7" cy="227.8" r="5.6" fill="#0000ff"/>
<circle cx="814.5" cy="237.7" r="5.6" fill="#0000ff"/>
<circle cx="820.0" cy="247.7" r="5.6" fill="#0000ff"/>
<circle cx="822.8" cy="257.6" r="5.6" fill="#0000ff"/>
<circle cx="830.6" cy="262.6" r="5.6" fill="#0000ff"/>
<circle cx="825.6" cy="267.6" r="5.6" fill="#0000ff"/>
<circle cx="833.3" cy="272.5" r="5.6" fill="#0000ff"/>
<circle cx="829.8" cy="277.5" r="5.6" fill="#0000ff"/>
<circle cx="838.1" cy="282.5" r="5.6" fill="#0000ff"/>
<circle cx="834.1" cy="287.5" r="5.6" fill="#0000ff"/>
<circle cx="842.1" cy="292.4" r="5.6" fill="#0000ff"/>
<circle cx="838.1" cy="297.4" r="5.6" fill="#0000ff"/>
<circle cx="845.9" cy="302.4" r="5.6" fill="#0000ff"/>
<circle cx="841.4" cy="307.4" r="5.6" fill="#0000ff"/>
<circle cx="849.0" cy="312.3" r="5.6" fill="#0000ff"/>
<circle cx="845.0" cy="317.3" r="5.6" fill="#0000ff"/>
<circle cx="852.9" cy="322.3" r="5.6" fill="#0000ff"/>
<circle cx="848.6" cy="327.3" r="5.6" fill="#0000ff"/>
<circle cx="856.3" cy="332.3" r="5.6" fill="#0000ff"/>
<circle cx="852.0" cy="337.2" r="5.6" fill="#0000ff"/>
<circle cx="859.9" cy="342.2" r="5.6" fill="#0000ff"/>
<circle cx="856.1" cy="347.2" r="5.6" fill="#0000ff"/>
<circle cx="864.3" cy="352.2" r="5.6" fill="#0000ff"/>
<circle cx="860.5" cy="357.1" r="5.6" fill="#0000ff"/>
<circle cx="868.7" cy="362.1" r="5.6" fill="#0000ff"/>
<circle cx="864.0" cy="367.1" r="5.6" fill="#0000ff"/>
<circle cx="871.3" cy="372.1" r="5.6" fill="#0000ff"/>
<circle cx="866.5" cy="377.0" r="5.6" fill="#0000ff"/>
<circle cx="873.7" cy="382.0" r="5.6" fill="#0000ff"/>
<circle cx="868.8" cy="387.0" r="5.6" fill="#0000ff"/>
<circle cx="875.8" cy="392.0" r="5.6" fill="#0000ff"/>
<circle cx="870.7" cy="396.9" r="5.6" fill="#0000ff"/>
<circle cx="877.6" cy="401.9" r="5.6" fill="#0000ff"/>
<circle cx="872.6" cy="406.9" r="5.6" fill="#0000ff"/>
<circle cx="879.5" cy="411.9" r="5.6" fill="#0000ff"/>
<circle cx="874.5" cy="416.8" r="5.6" fill="#0000ff"/>
<circle cx="881.4" cy="421.8" r="5.6" fill="#0000ff"/>
<circle cx="876.3" cy="426.8" r="5.6" fill="#0000ff"/>
<circle cx="883.1" cy="431.8" r="5.6" fill="#0000ff"/>
<circle cx="877.8" cy="436.8" r="5.6" fill="#0000ff"/>
<circle cx="884.4" cy="441.7" r="5.6" fill="#0000ff"/>
<circle cx="879.0" cy="446.7" r="5.6" fill="#0000ff"/>
<circle cx="885.6" cy="451.7" r="5.6" fill="#0000ff"/>
<circle cx="880.3" cy="456.7" r="5.6" fill="#0000ff"/>
<circle cx="886.9" cy="461.6" r="5.6" fill="#0000ff"/>
<circle cx="881.5" cy="466.6" r="5.6" fill="#0000ff"/>
<circle cx="888.2" cy="471.6" r="5.6" fill="#0000ff"/>
<circle cx="882.7" cy="476.6" r="5.6" fill="#0000ff"/>
<circle cx="889.3" cy="481.5" r="5.6" fill="#0000ff"/>
<circle cx="883.8" cy="486.5" r="5.6" fill="#0000ff"/>
<circle cx="890.3" cy="491.5" r="5.6" fill="#0000ff"/>
<circle cx="884.9" cy="496.5" r="5.6" fill="#0000ff"/>
<circle cx="891.3" cy="501.4" r="5.6" fill="#0000ff"/>
<circle cx="885.6" cy="506.4" r="5.6" fill="#0000ff"/>
<circle cx="891.9" cy="511.4" r="5.6" fill="#0000ff"/>
<circle cx="886.1" cy="516.4" r="5.6" fill="#0000ff"/>
<circle cx="892.4" cy="521.4" r="5.6" fill="#0000ff"/>
<circle cx="886.7" cy="526.3" r="5.6" fill="#0000ff"/>
<circle cx="893.0" cy="531.3" r="5.6" fill="#0000ff"/>
<circle cx="887.3" cy="536.3" r="5.6" fill="#0000ff"/>
<circle cx="893.5" cy="541.3" r="5.6" fill="#0000ff"/>
<circle cx="887.8" cy="546.2" r="5.6" fill="#0000ff"/>
<circle cx="894.1" cy="551.2" r="5.6" fill="#0000ff"/>
<circle cx="888.3" cy="556.2" r="5.6" fill="#0000ff"/>
<circle cx="894.5" cy="561.2" r="5.6" fill="#0000ff"/>
<circle cx="888.7" cy="566.1" r="5.6" fill="#0000ff"/>
<circle cx="894.9" cy="571.1" r="5.6" fill="#0000ff"/>
<circle cx="889.1" cy="576.1" r="5.6" fill="#0000ff"/>
<circle cx="895.3" cy="581.1" r="5.6" fill="#0000ff"/>
<circle cx="889.5" cy="586.0" r="5.6" fill="#0000ff"/>
<circle cx="895.7" cy="591.0" r="5.6" fill="#0000ff"/>
<circle cx="889.9" cy="596.0" r="5.6" fill="#0000ff"/>
<circle cx="896.0" cy="601.0" r="5.6" fill="#0000ff"/>
<circle cx="890.1" cy="605.9" r="5.6" fill="#0000ff"/>
<circle cx="896.3" cy="610.9" r="5.6" fill="#0000ff"/>
<circle cx="890.4" cy="615.9" r="5.6" fill="#0000ff"/>
<circle cx="896.5" cy="620.9" r="5.6" fill="#0000ff"/>
<circle cx="890.6" cy="625.9" r="5.6" fill="#0000ff"/>
<circle cx="896.8" cy="630.8" r="5.6" fill="#0000ff"/>
<circle cx="890.9" cy="635.8" r="5.6" fill="#0000ff"/>
<circle cx="897.0" cy="640.8" r="5.6" fill="#0000ff"/>
<circle cx="891.1" cy="645.8" r="5.6" fill="#0000ff"/>
<circle cx="897.3" cy="650.7" r="5.6" fill="#0000ff"/>
<circle cx="891.4" cy="655.7" r="5.6" fill="#0000ff"/>
<circle cx="897.5" cy="660.7" r="5.6" fill="#0000ff"/>
<circle cx="891.6" cy="665.7" r="5.6" fill="#0000ff"/>
<circle cx="897.8" cy="670.6" r="5.6" fill="#0000ff"/>
<circle cx="891.9" cy="675.6" r="5.6" fill="#0000ff"/>
<circle cx="898.0" cy="680.6" r="5.6" fill="#0000ff"/>
<circle cx="892.1" cy="685.6" r="5.6" fill="#0000ff"/>
<circle cx="898.3" cy="690.5" r="5.6" fill="#0000ff"/>
<circle cx="892.4" cy="695.5" r="5.6" fill="#0000ff"/>
<circle cx="898.5" cy="700.5" r="5.6" fill="#0000ff"/>
<circle cx="892.6" cy="705.5" r="5.6" fill="#0000ff"/>
<circle cx="898.7" cy="710.4" r="5.6" fill="#0000ff"/>
<circle cx="892.8" cy="715.4" r="5.6" fill="#0000ff"/>
<circle cx="898.9" cy="720.4" r="5.6" fill="#0000ff"/>
<circle cx="893.1" cy="725.4" r="5.6" fill="#0000ff"/>
<circle cx="899.2" cy="730.4" r="5.6" fill="#0000ff"/>
<circle cx="893.3" cy="735.3" r="5.6" fill="#0000ff"/>
<circle cx="899.4" cy="740.3" r="5.6" fill="#0000ff"/>
<circle cx="893.5" cy="745.3" r="5.6" fill="#0000ff"/>
<circle cx="899.6" cy="750.3" r="5.6" fill="#0000ff"/>
<circle cx="893.7" cy="755.2" r="5.6" fill="#0000ff"/>
<circle cx="899.8" cy="760.2" r="5.6" fill="#0000ff"/>
<circle cx="893.9" cy="765.2" r="5.6" fill="#0000ff"/>
<circle cx="900.0" cy="770.2" r="5.6" fill="#0000ff"/>
<circle cx="894.1" cy="775.1" r="5.6" fill="#0000ff"/>
<circle cx="900.3" cy="780.1" r="5.6" fill="#0000ff"/>
<circle cx="894.4" cy="785.1" r="5.6" fill="#0000ff"/>
<circle cx="900.5" cy="790.1" r="5.6" fill="#0000ff"/>
<circle cx="894.6" cy="795.0" r="5.6" fill="#0000ff"/>
<circle cx="900.7" cy="800.0" r="5.6" fill="#0000ff"/>
<circle cx="894.8" cy="805.0" r="5.6" fill="#0000ff"/>
<circle cx="900.9" cy="810.0" r="5.6" fill="#0000ff"/>
<circle cx="895.0" cy="814.9" r="5.6" fill="#0000ff"/>
<circle cx="901.1" cy="819.9" r="5.6" fill="#0000ff"/>
<line x1="680.6" y1="18.8" x2="680.5" y2="22.7" stroke="#ff0000" stroke-width="10.5" stroke-linecap="round"/>
<line x1="680.5" y1="22.7" x2="680.3" y2="26.7" stroke="#ff0000" stroke-width="10.5" stroke-linecap="round"/>
<line x1="680.3" y1="26.7" x2="680.0" y2="30.7" stroke="#ff0000" stroke-width="10.5" stroke-linecap="round"/>
<line x1="680.0" y1="30.7" x2="679.5" y2="34.7" stroke="#ff0000" stroke-width="10.5" stroke-linecap="round"/>
<line x1="679.5" y1="34.7" x2="679.0" y2="38.7" stroke="#ff0000" stroke-width="10.5" stroke-linecap="round"/>
<line x1="679.0" y1="38.7" x2="679.0" y2="42.6" stroke="#ff0000" stroke-width="10.5" stroke-linecap="round"/>
<line x1="679.0" y1="42.6" x2="679.0" y2="48.6" stroke="#ff0000" stroke-width="10.5" stroke-linecap="round"/>
<line x1="679.0" y1="48.6" x2="680.6" y2="58.6" stroke="#ff0000" stroke-width="10.5" stroke-linecap="round"/>
<line x1="680.6" y1="58.6" x2="682.9" y2="68.5" stroke="#ff0000" stroke-width="10.5" stroke-linecap="round"/>
<line x1="682.9" y1="68.5" x2="688.3" y2="78.5" stroke="#ff0000" stroke-width="10.5" stroke-linecap="round"/>
<line x1="688.3" y1="78.5" x2="695.3" y2="88.4" stroke="#ff0000" stroke-width="10.5" stroke-linecap="round"/>
<line x1="695.3" y1="88.4" x2="701.5" y2="98.4" stroke="#ff0000" stroke-width="10.5" stroke-linecap="round"/>
<line x1="701.5" y1="98.4" x2="709.3" y2="108.3" stroke="#ff0000" stroke-width="10.5" stroke-linecap="round"/>
<line x1="709.3" y1="108.3" x2="715.5" y2="118.3" stroke="#ff0000" stroke-width="10.5" stroke-linecap="round"/>
<line x1="715.5" y1="118.3" x2="724.4" y2="138.2" stroke="#ff0000" stroke-width="10.5" stroke-linecap="round"/>
<line x1="724.4" y1="138.2" x2="733.6" y2="158.1" stroke="#ff0000" stroke-width="10.5" stroke-linecap="round"/>
<line x1="733.6" y1="158.1" x2="740.7" y2="178.0" stroke="#ff0000" stroke-width="10.5" stroke-linecap="round"/>
<line x1="740.7" y1="178.0" x2="752.9" y2="197.9" stroke="#ff0000" stroke-width="10.5" stroke-linecap="round"/>
<line x1="752.9" y1="197.9" x2="773.2" y2="217.8" stroke="#ff0000" stroke-width="10.5" stroke-linecap="round"/>
<line x1="773.2" y1="217.8" x2="791.5" y2="237.7" stroke="#ff0000" stroke-width="10.5" stroke-linecap="round"/>
<line x1="791.5" y1="237.7" x2="810.0" y2="267.6" stroke="#ff0000" stroke-width="10.5" stroke-linecap="round"/>
<line x1="810.0" y1="267.6" x2="824.0" y2="292.4" stroke="#ff0000" stroke-width="10.5" stroke-linecap="round"/>
<line x1="824.0" y1="292.4" x2="836.7" y2="317.3" stroke="#ff0000" stroke-width="10.5" stroke-linecap="round"/>
<line x1="836.7" y1="317.3" x2="857.6" y2="416.8" stroke="#ff0000" stroke-width="10.5" stroke-linecap="round"/>
<line x1="857.6" y1="416.8" x2="871.5" y2="516.4" stroke="#ff0000" stroke-width="10.5" stroke-linecap="round"/>
<line x1="871.5" y1="516.4" x2="881.6" y2="615.9" stroke="#ff0000" stroke-width="9" stroke-linecap="round"/>
<line x1="881.6" y1="615.9" x2="883.5" y2="715.4" stroke="#ff0000" stroke-width="6.5" stroke-linecap="round"/>
<line x1="883.5" y1="715.4" x2="887.1" y2="814.9" stroke="#ff0000" stroke-width="6.5" stroke-linecap="round"/>
<circle cx="680.6" cy="18.8" r="5.6" fill="#ff0000"/>
<circle cx="680.5" cy="22.7" r="5.6" fill="#ff0000"/>
<circle cx="680.3" cy="26.7" r="5.6" fill="#ff0000"/>
<circle cx="680.0" cy="30.7" r="5.6" fill="#ff0000"/>
<circle cx="679.5" cy="34.7" r="5.6" fill="#ff0000"/>
<circle cx="679.0" cy="38.7" r="5.6" fill="#ff0000"/>
<circle cx="679.0" cy="42.6" r="5.6" fill="#ff0000"/>
<circle cx="679.0" cy="48.6" r="5.6" fill="#ff0000"/>
<circle cx="680.6" cy="58.6" r="5.6" fill="#ff0000"/>
<circle cx="682.9" cy="68.5" r="5.6" fill="#ff0000"/>
<circle cx="688.3" cy="78.5" r="5.6" fill="#ff0000"/>
<circle cx="695.3" cy="88.4" r="5.6" fill="#ff0000"/>
<circle cx="701.5" cy="98.4" r="5.6" fill="#ff0000"/>
<circle cx="709.3" cy="108.3" r="5.6" fill="#ff0000"/>
<circle cx="715.5" cy="118.3" r="5.6" fill="#ff0000"/>
<circle cx="724.4" cy="138.2" r="5.6" fill="#ff0000"/>
<circle cx="733.6" cy="158.1" r="5.6" fill="#ff0000"/>
<circle cx="740.7" cy="178.0" r="5.6" fill="#ff0000"/>
<circle cx="752.9" cy="197.9" r="5.6" fill="#ff0000"/>
<circle cx="773.2" cy="217.8" r="5.6" fill="#ff0000"/>
<circle cx="791.5" cy="237.7" r="5.6" fill="#ff0000"/>
<circle cx="810.0" cy="267.6" r="5.6" fill="#ff0000"/>
<circle cx="824.0" cy="292.4" r="5.6" fill="#ff0000"/>
<circle cx="836.7" cy="317.3" r="5.6" fill="#ff0000"/>
<circle cx="857.6" cy="416.8" r="5.6" fill="#ff0000"/>
<circle cx="871.5" cy="516.4" r="5.6" fill="#ff0000"/>
<circle cx="881.6" cy="615.9" r="5.6" fill="#ff0000"/>
<circle cx="883.5" cy="715.4" r="5.6" fill="#ff0000"/>
<circle cx="887.1" cy="814.9" r="5.6" fill="#ff0000"/>
<polyline points="655.5,18.8 655.0,22.7 653.0,26.7 649.0,30.7 644.0,34.7 641.0,38.7 639.0,42.6 640.0,48.6 640.0,58.6 647.0,68.5 655.0,78.5 665.0,88.4 674.3,98.4 687.5,108.3 697.6,118.3 715.4,138.2 732.5,158.1 747.2,178.0 767.1,197.9 783.0,217.8 823.0,267.6 851.0,317.3 867.4,416.8 881.8,516.4 889.8,615.9 895.3,715.4 898.9,814.9" fill="none" stroke="#008000" stroke-width="2.7" stroke-linejoin="round"/>
<circle cx="655.5" cy="18.8" r="5.6" fill="#008000"/>
<circle cx="655.0" cy="22.7" r="5.6" fill="#008000"/>
<circle cx="653.0" cy="26.7" r="5.6" fill="#008000"/>
<circle cx="649.0" cy="30.7" r="5.6" fill="#008000"/>
<circle cx="644.0" cy="34.7" r="5.6" fill="#008000"/>
<circle cx="641.0" cy="38.7" r="5.6" fill="#008000"/>
<circle cx="639.0" cy="42.6" r="5.6" fill="#008000"/>
<circle cx="640.0" cy="48.6" r="5.6" fill="#008000"/>
<circle cx="640.0" cy="58.6" r="5.6" fill="#008000"/>
<circle cx="647.0" cy="68.5" r="5.6" fill="#008000"/>
<circle cx="655.0" cy="78.5" r="5.6" fill="#008000"/>
<circle cx="665.0" cy="88.4" r="5.6" fill="#008000"/>
<circle cx="674.3" cy="98.4" r="5.6" fill="#008000"/>
<circle cx="687.5" cy="108.3" r="5.6" fill="#008000"/>
<circle cx="697.6" cy="118.3" r="5.6" fill="#008000"/>
<circle cx="715.4" cy="138.2" r="5.6" fill="#008000"/>
<circle cx="732.5" cy="158.1" r="5.6" fill="#008000"/>
<circle cx="747.2" cy="178.0" r="5.6" fill="#008000"/>
<circle cx="767.1" cy="197.9" r="5.6" fill="#008000"/>
<circle cx="783.0" cy="217.8" r="5.6" fill="#008000"/>
<circle cx="823.0" cy="267.6" r="5.6" fill="#008000"/>
<circle cx="851.0" cy="317.3" r="5.6" fill="#008000"/>
<circle cx="867.4" cy="416.8" r="5.6" fill="#008000"/>
<circle cx="881.8" cy="516.4" r="5.6" fill="#008000"/>
<circle cx="889.8" cy="615.9" r="5.6" fill="#008000"/>
<circle cx="895.3" cy="715.4" r="5.6" fill="#008000"/>
<circle cx="898.9" cy="814.9" r="5.6" fill="#008000"/>
<polyline points="665.0,19.7 665.0,21.8 664.8,24.0 664.6,26.4 664.5,28.9 664.3,31.6 664.2,34.5 664.0,37.8 664.0,41.5 663.8,45.6 663.6,50.2 663.5,55.6 663.5,61.7 664.0,68.9 665.0,77.4 672.8,87.3 682.1,99.1 696.9,113.0 717.0,129.7 740.5,149.7 762.0,173.7 783.4,202.5 813.3,237.2 840.3,278.8 858.5,329.0 870.1,389.2 882.7,461.6 888.2,548.3 888.4,652.0 889.3,775.6 891.0,922.3" fill="none" stroke="#ff00ff" stroke-width="2.7" stroke-linejoin="round"/>
<circle cx="665.0" cy="19.7" r="5.6" fill="#ff00ff"/>
<circle cx="665.0" cy="21.8" r="5.6" fill="#ff00ff"/>
<circle cx="664.8" cy="24.0" r="5.6" fill="#ff00ff"/>
<circle cx="664.6" cy="26.4" r="5.6" fill="#ff00ff"/>
<circle cx="664.5" cy="28.9" r="5.6" fill="#ff00ff"/>
<circle cx="664.3" cy="31.6" r="5.6" fill="#ff00ff"/>
<circle cx="664.2" cy="34.5" r="5.6" fill="#ff00ff"/>
<circle cx="664.0" cy="37.8" r="5.6" fill="#ff00ff"/>
<circle cx="664.0" cy="41.5" r="5.6" fill="#ff00ff"/>
<circle cx="663.8" cy="45.6" r="5.6" fill="#ff00ff"/>
<circle cx="663.6" cy="50.2" r="5.6" fill="#ff00ff"/>
<circle cx="663.5" cy="55.6" r="5.6" fill="#ff00ff"/>
<circle cx="663.5" cy="61.7" r="5.6" fill="#ff00ff"/>
<circle cx="664.0" cy="68.9" r="5.6" fill="#ff00ff"/>
<circle cx="665.0" cy="77.4" r="5.6" fill="#ff00ff"/>
<circle cx="672.8" cy="87.3" r="5.6" fill="#ff00ff"/>
<circle cx="682.1" cy="99.1" r="5.6" fill="#ff00ff"/>
<circle cx="696.9" cy="113.0" r="5.6" fill="#ff00ff"/>
<circle cx="717.0" cy="129.7" r="5.6" fill="#ff00ff"/>
<circle cx="740.5" cy="149.7" r="5.6" fill="#ff00ff"/>
<circle cx="762.0" cy="173.7" r="5.6" fill="#ff00ff"/>
<circle cx="783.4" cy="202.5" r="5.6" fill="#ff00ff"/>
<circle cx="813.3" cy="237.2" r="5.6" fill="#ff00ff"/>
<circle cx="840.3" cy="278.8" r="5.6" fill="#ff00ff"/>
<circle cx="858.5" cy="329.0" r="5.6" fill="#ff00ff"/>
<circle cx="870.1" cy="389.2" r="5.6" fill="#ff00ff"/>
<circle cx="882.7" cy="461.6" r="5.6" fill="#ff00ff"/>
<circle cx="888.2" cy="548.3" r="5.6" fill="#ff00ff"/>
<circle cx="888.4" cy="652.0" r="5.6" fill="#ff00ff"/>
<circle cx="889.3" cy="775.6" r="5.6" fill="#ff00ff"/>
<circle cx="891.0" cy="922.3" r="5.6" fill="#ff00ff"/>
</g>
<g clip-path="url(#c2)">
<circle cx="1101.1" cy="22.7" r="3.6" fill="#00ffff"/>
<circle cx="1103.7" cy="32.1" r="3.6" fill="#00ffff"/>
<circle cx="1110.5" cy="41.5" r="3.6" fill="#00ffff"/>
<circle cx="1119.1" cy="53.5" r="3.6" fill="#00ffff"/>
<circle cx="1139.7" cy="44.1" r="3.6" fill="#00ffff"/>
<circle cx="1126.8" cy="34.7" r="3.6" fill="#00ffff"/>
<circle cx="1149.1" cy="51.0" r="3.6" fill="#00ffff"/>
<circle cx="1155.1" cy="54.4" r="3.6" fill="#00ffff"/>
<circle cx="1162.8" cy="63.8" r="3.6" fill="#00ffff"/>
<circle cx="1168.8" cy="69.8" r="3.6" fill="#00ffff"/>
<circle cx="1177.3" cy="74.1" r="3.6" fill="#00ffff"/>
<circle cx="1137.9" cy="74.1" r="3.6" fill="#00ffff"/>
<circle cx="1145.7" cy="85.2" r="3.6" fill="#00ffff"/>
<circle cx="1186.7" cy="84.3" r="3.6" fill="#00ffff"/>
<circle cx="1179.9" cy="89.5" r="3.6" fill="#00ffff"/>
<circle cx="1112.3" cy="59.5" r="3.6" fill="#00ffff"/>
<circle cx="1131.1" cy="80.1" r="3.6" fill="#00ffff"/>
<circle cx="1102.0" cy="21.9" r="3.6" fill="#00ffff"/>
<circle cx="1103.7" cy="32.1" r="3.6" fill="#00ffff"/>
<circle cx="1110.6" cy="42.4" r="3.6" fill="#00ffff"/>
<circle cx="1118.3" cy="50.1" r="3.6" fill="#00ffff"/>
<circle cx="1138.8" cy="44.1" r="3.6" fill="#00ffff"/>
<circle cx="1149.1" cy="51.0" r="3.6" fill="#00ffff"/>
<circle cx="1154.2" cy="53.5" r="3.6" fill="#00ffff"/>
<circle cx="1162.0" cy="63.0" r="3.6" fill="#00ffff"/>
<circle cx="1168.8" cy="69.8" r="3.6" fill="#00ffff"/>
<circle cx="1177.4" cy="75.0" r="3.6" fill="#00ffff"/>
<circle cx="1186.8" cy="84.4" r="3.6" fill="#00ffff"/>
<circle cx="1138.0" cy="74.1" r="3.6" fill="#00ffff"/>
<circle cx="1146.5" cy="85.2" r="3.6" fill="#00ffff"/>
<circle cx="1161.1" cy="94.7" r="3.6" fill="#00ffff"/>
<circle cx="1167.9" cy="104.1" r="3.6" fill="#00ffff"/>
<circle cx="1176.5" cy="113.5" r="3.6" fill="#00ffff"/>
<circle cx="1183.4" cy="123.8" r="3.6" fill="#00ffff"/>
<circle cx="1188.5" cy="133.2" r="3.6" fill="#00ffff"/>
<circle cx="1187.6" cy="92.1" r="3.6" fill="#00ffff"/>
<circle cx="1197.1" cy="104.1" r="3.6" fill="#00ffff"/>
<circle cx="1206.5" cy="115.2" r="3.6" fill="#00ffff"/>
<circle cx="1212.5" cy="126.3" r="3.6" fill="#00ffff"/>
<circle cx="1218.5" cy="136.6" r="3.6" fill="#00ffff"/>
<circle cx="1221.9" cy="146.9" r="3.6" fill="#00ffff"/>
<circle cx="1227.0" cy="157.2" r="3.6" fill="#00ffff"/>
<circle cx="1232.2" cy="165.7" r="3.6" fill="#00ffff"/>
<circle cx="1106.0" cy="28.0" r="3.6" fill="#00ffff"/>
<circle cx="1115.0" cy="47.0" r="3.6" fill="#00ffff"/>
<circle cx="1124.0" cy="58.0" r="3.6" fill="#00ffff"/>
<circle cx="1130.0" cy="66.0" r="3.6" fill="#00ffff"/>
<circle cx="1142.0" cy="60.0" r="3.6" fill="#00ffff"/>
<circle cx="1158.0" cy="72.0" r="3.6" fill="#00ffff"/>
<circle cx="1172.0" cy="84.0" r="3.6" fill="#00ffff"/>
<circle cx="1180.0" cy="100.0" r="3.6" fill="#00ffff"/>
<circle cx="1192.0" cy="112.0" r="3.6" fill="#00ffff"/>
<circle cx="1200.0" cy="124.0" r="3.6" fill="#00ffff"/>
<circle cx="1208.0" cy="134.0" r="3.6" fill="#00ffff"/>
<circle cx="1214.0" cy="146.0" r="3.6" fill="#00ffff"/>
<circle cx="1228.5" cy="198.3" r="3.6" fill="#00ffff"/>
<circle cx="1229.7" cy="206.9" r="3.6" fill="#00ffff"/>
<circle cx="1241.3" cy="218.2" r="3.6" fill="#00ffff"/>
<circle cx="1245.1" cy="229.0" r="3.6" fill="#00ffff"/>
<circle cx="1244.9" cy="236.5" r="3.6" fill="#00ffff"/>
<circle cx="1249.3" cy="248.6" r="3.6" fill="#00ffff"/>
<circle cx="1250.3" cy="258.5" r="3.6" fill="#00ffff"/>
<circle cx="1254.0" cy="268.8" r="3.6" fill="#00ffff"/>
<circle cx="1258.7" cy="278.9" r="3.6" fill="#00ffff"/>
<circle cx="1257.4" cy="287.4" r="3.6" fill="#00ffff"/>
<circle cx="1262.2" cy="299.1" r="3.6" fill="#00ffff"/>
<circle cx="1263.8" cy="308.9" r="3.6" fill="#00ffff"/>
<circle cx="1267.8" cy="316.1" r="3.6" fill="#00ffff"/>
<circle cx="1267.9" cy="326.7" r="3.6" fill="#00ffff"/>
<circle cx="1272.1" cy="336.7" r="3.6" fill="#00ffff"/>
<circle cx="1273.9" cy="345.2" r="3.6" fill="#00ffff"/>
<circle cx="1276.8" cy="356.9" r="3.6" fill="#00ffff"/>
<circle cx="1279.8" cy="365.6" r="3.6" fill="#00ffff"/>
<circle cx="1283.3" cy="378.3" r="3.6" fill="#00ffff"/>
<circle cx="1284.4" cy="386.3" r="3.6" fill="#00ffff"/>
<circle cx="1286.9" cy="396.5" r="3.6" fill="#00ffff"/>
<circle cx="1289.3" cy="405.2" r="3.6" fill="#00ffff"/>
<circle cx="1290.9" cy="418.7" r="3.6" fill="#00ffff"/>
<circle cx="1292.8" cy="426.9" r="3.6" fill="#00ffff"/>
<circle cx="1293.1" cy="436.9" r="3.6" fill="#00ffff"/>
<circle cx="1296.6" cy="448.6" r="3.6" fill="#00ffff"/>
<circle cx="1297.7" cy="455.4" r="3.6" fill="#00ffff"/>
<circle cx="1302.9" cy="465.6" r="3.6" fill="#00ffff"/>
<circle cx="1302.1" cy="474.7" r="3.6" fill="#00ffff"/>
<circle cx="1305.0" cy="487.3" r="3.6" fill="#00ffff"/>
<circle cx="1307.9" cy="494.5" r="3.6" fill="#00ffff"/>
<circle cx="1309.8" cy="506.7" r="3.6" fill="#00ffff"/>
<circle cx="1310.0" cy="517.2" r="3.6" fill="#00ffff"/>
<circle cx="1314.4" cy="527.8" r="3.6" fill="#00ffff"/>
<circle cx="1313.2" cy="534.5" r="3.6" fill="#00ffff"/>
<circle cx="1316.8" cy="546.2" r="3.6" fill="#00ffff"/>
<circle cx="1316.9" cy="555.3" r="3.6" fill="#00ffff"/>
<circle cx="1318.8" cy="565.8" r="3.6" fill="#00ffff"/>
<circle cx="1323.6" cy="576.5" r="3.6" fill="#00ffff"/>
<circle cx="1323.9" cy="584.6" r="3.6" fill="#00ffff"/>
<circle cx="1324.3" cy="597.0" r="3.6" fill="#00ffff"/>
<circle cx="1329.1" cy="607.2" r="3.6" fill="#00ffff"/>
<circle cx="1328.4" cy="615.5" r="3.6" fill="#00ffff"/>
<circle cx="1330.8" cy="627.2" r="3.6" fill="#00ffff"/>
<circle cx="1333.8" cy="635.4" r="3.6" fill="#00ffff"/>
<circle cx="1333.3" cy="646.9" r="3.6" fill="#00ffff"/>
<circle cx="1334.6" cy="654.7" r="3.6" fill="#00ffff"/>
<circle cx="1339.0" cy="665.4" r="3.6" fill="#00ffff"/>
<circle cx="1340.9" cy="676.8" r="3.6" fill="#00ffff"/>
<circle cx="1342.5" cy="686.8" r="3.6" fill="#00ffff"/>
<circle cx="1342.4" cy="693.7" r="3.6" fill="#00ffff"/>
<circle cx="1346.6" cy="707.3" r="3.6" fill="#00ffff"/>
<circle cx="1345.9" cy="714.4" r="3.6" fill="#00ffff"/>
<circle cx="1347.8" cy="725.9" r="3.6" fill="#00ffff"/>
<circle cx="1348.5" cy="735.5" r="3.6" fill="#00ffff"/>
<circle cx="1352.0" cy="745.0" r="3.6" fill="#00ffff"/>
<circle cx="1352.1" cy="753.3" r="3.6" fill="#00ffff"/>
<circle cx="1357.2" cy="767.1" r="3.6" fill="#00ffff"/>
<circle cx="1358.5" cy="776.9" r="3.6" fill="#00ffff"/>
<circle cx="1361.3" cy="786.3" r="3.6" fill="#00ffff"/>
<circle cx="1359.8" cy="796.6" r="3.6" fill="#00ffff"/>
<circle cx="1362.4" cy="805.6" r="3.6" fill="#00ffff"/>
<circle cx="1234.5" cy="196.4" r="3.6" fill="#00ffff"/>
<circle cx="1239.0" cy="207.5" r="3.6" fill="#00ffff"/>
<circle cx="1241.1" cy="216.8" r="3.6" fill="#00ffff"/>
<circle cx="1250.0" cy="227.9" r="3.6" fill="#00ffff"/>
<circle cx="1251.5" cy="238.1" r="3.6" fill="#00ffff"/>
<circle cx="1252.6" cy="248.3" r="3.6" fill="#00ffff"/>
<circle cx="1256.2" cy="258.4" r="3.6" fill="#00ffff"/>
<circle cx="1259.1" cy="267.8" r="3.6" fill="#00ffff"/>
<circle cx="1260.3" cy="277.4" r="3.6" fill="#00ffff"/>
<circle cx="1262.2" cy="286.4" r="3.6" fill="#00ffff"/>
<circle cx="1265.6" cy="297.5" r="3.6" fill="#00ffff"/>
<circle cx="1266.7" cy="307.7" r="3.6" fill="#00ffff"/>
<circle cx="1272.3" cy="316.7" r="3.6" fill="#00ffff"/>
<circle cx="1273.5" cy="326.2" r="3.6" fill="#00ffff"/>
<circle cx="1275.2" cy="337.2" r="3.6" fill="#00ffff"/>
<circle cx="1278.2" cy="349.1" r="3.6" fill="#00ffff"/>
<circle cx="1279.9" cy="358.2" r="3.6" fill="#00ffff"/>
<circle cx="1284.6" cy="365.4" r="3.6" fill="#00ffff"/>
<circle cx="1283.9" cy="376.8" r="3.6" fill="#00ffff"/>
<circle cx="1287.6" cy="386.5" r="3.6" fill="#00ffff"/>
<circle cx="1288.9" cy="397.9" r="3.6" fill="#00ffff"/>
<circle cx="1294.0" cy="405.8" r="3.6" fill="#00ffff"/>
<circle cx="1293.5" cy="417.8" r="3.6" fill="#00ffff"/>
<circle cx="1296.2" cy="426.2" r="3.6" fill="#00ffff"/>
<circle cx="1299.8" cy="437.5" r="3.6" fill="#00ffff"/>
<circle cx="1303.1" cy="448.1" r="3.6" fill="#00ffff"/>
<circle cx="1304.7" cy="456.7" r="3.6" fill="#00ffff"/>
<circle cx="1307.3" cy="467.6" r="3.6" fill="#00ffff"/>
<circle cx="1309.5" cy="476.5" r="3.6" fill="#00ffff"/>
<circle cx="1312.1" cy="487.3" r="3.6" fill="#00ffff"/>
<circle cx="1313.3" cy="495.0" r="3.6" fill="#00ffff"/>
<circle cx="1314.6" cy="504.4" r="3.6" fill="#00ffff"/>
<circle cx="1315.7" cy="516.7" r="3.6" fill="#00ffff"/>
<circle cx="1318.0" cy="528.2" r="3.6" fill="#00ffff"/>
<circle cx="1320.3" cy="536.0" r="3.6" fill="#00ffff"/>
<circle cx="1321.7" cy="547.7" r="3.6" fill="#00ffff"/>
<circle cx="1322.5" cy="555.7" r="3.6" fill="#00ffff"/>
<circle cx="1325.4" cy="566.0" r="3.6" fill="#00ffff"/>
<circle cx="1325.8" cy="575.3" r="3.6" fill="#00ffff"/>
<circle cx="1327.6" cy="586.3" r="3.6" fill="#00ffff"/>
<circle cx="1330.7" cy="595.3" r="3.6" fill="#00ffff"/>
<circle cx="1331.6" cy="607.3" r="3.6" fill="#00ffff"/>
<circle cx="1331.7" cy="615.7" r="3.6" fill="#00ffff"/>
<circle cx="1333.1" cy="625.1" r="3.6" fill="#00ffff"/>
<circle cx="1336.7" cy="636.1" r="3.6" fill="#00ffff"/>
<circle cx="1339.4" cy="644.1" r="3.6" fill="#00ffff"/>
<circle cx="1340.9" cy="655.0" r="3.6" fill="#00ffff"/>
<circle cx="1343.4" cy="667.0" r="3.6" fill="#00ffff"/>
<circle cx="1342.7" cy="674.4" r="3.6" fill="#00ffff"/>
<circle cx="1343.4" cy="687.2" r="3.6" fill="#00ffff"/>
<circle cx="1346.8" cy="693.7" r="3.6" fill="#00ffff"/>
<circle cx="1350.5" cy="705.5" r="3.6" fill="#00ffff"/>
<circle cx="1351.0" cy="716.5" r="3.6" fill="#00ffff"/>
<circle cx="1352.9" cy="727.4" r="3.6" fill="#00ffff"/>
<circle cx="1355.1" cy="735.4" r="3.6" fill="#00ffff"/>
<circle cx="1355.6" cy="744.8" r="3.6" fill="#00ffff"/>
<circle cx="1357.6" cy="755.6" r="3.6" fill="#00ffff"/>
<circle cx="1361.0" cy="767.0" r="3.6" fill="#00ffff"/>
<circle cx="1360.2" cy="775.2" r="3.6" fill="#00ffff"/>
<circle cx="1363.2" cy="784.6" r="3.6" fill="#00ffff"/>
<circle cx="1365.9" cy="795.3" r="3.6" fill="#00ffff"/>
<circle cx="1369.6" cy="806.5" r="3.6" fill="#00ffff"/>
<circle cx="1238.2" cy="197.9" r="3.6" fill="#00ffff"/>
<circle cx="1239.1" cy="206.6" r="3.6" fill="#00ffff"/>
<circle cx="1245.8" cy="218.3" r="3.6" fill="#00ffff"/>
<circle cx="1250.9" cy="227.2" r="3.6" fill="#00ffff"/>
<circle cx="1250.1" cy="238.2" r="3.6" fill="#00ffff"/>
<circle cx="1255.3" cy="247.3" r="3.6" fill="#00ffff"/>
<circle cx="1257.3" cy="256.8" r="3.6" fill="#00ffff"/>
<circle cx="1258.0" cy="265.6" r="3.6" fill="#00ffff"/>
<circle cx="1262.4" cy="278.9" r="3.6" fill="#00ffff"/>
<circle cx="1263.2" cy="288.1" r="3.6" fill="#00ffff"/>
<circle cx="1266.9" cy="297.4" r="3.6" fill="#00ffff"/>
<circle cx="1269.6" cy="306.4" r="3.6" fill="#00ffff"/>
<circle cx="1273.7" cy="317.5" r="3.6" fill="#00ffff"/>
<circle cx="1273.9" cy="327.6" r="3.6" fill="#00ffff"/>
<circle cx="1274.9" cy="335.7" r="3.6" fill="#00ffff"/>
<circle cx="1277.9" cy="348.2" r="3.6" fill="#00ffff"/>
<circle cx="1280.0" cy="355.5" r="3.6" fill="#00ffff"/>
<circle cx="1285.5" cy="367.2" r="3.6" fill="#00ffff"/>
<circle cx="1287.7" cy="377.5" r="3.6" fill="#00ffff"/>
<circle cx="1286.3" cy="385.2" r="3.6" fill="#00ffff"/>
<circle cx="1290.4" cy="398.0" r="3.6" fill="#00ffff"/>
<circle cx="1292.7" cy="407.8" r="3.6" fill="#00ffff"/>
<circle cx="1294.1" cy="415.5" r="3.6" fill="#00ffff"/>
<circle cx="1298.8" cy="425.2" r="3.6" fill="#00ffff"/>
<circle cx="1299.3" cy="437.1" r="3.6" fill="#00ffff"/>
<circle cx="1301.6" cy="446.5" r="3.6" fill="#00ffff"/>
<circle cx="1305.6" cy="454.9" r="3.6" fill="#00ffff"/>
<circle cx="1308.6" cy="466.9" r="3.6" fill="#00ffff"/>
<circle cx="1309.5" cy="476.3" r="3.6" fill="#00ffff"/>
<circle cx="1308.9" cy="485.5" r="3.6" fill="#00ffff"/>
<circle cx="1314.5" cy="498.2" r="3.6" fill="#00ffff"/>
<circle cx="1316.0" cy="505.7" r="3.6" fill="#00ffff"/>
<circle cx="1315.7" cy="517.6" r="3.6" fill="#00ffff"/>
<circle cx="1320.0" cy="526.7" r="3.6" fill="#00ffff"/>
<circle cx="1321.7" cy="536.3" r="3.6" fill="#00ffff"/>
<circle cx="1321.0" cy="545.2" r="3.6" fill="#00ffff"/>
<circle cx="1322.5" cy="557.1" r="3.6" fill="#00ffff"/>
<circle cx="1326.6" cy="565.4" r="3.6" fill="#00ffff"/>
<circle cx="1328.2" cy="576.0" r="3.6" fill="#00ffff"/>
<circle cx="1327.2" cy="585.0" r="3.6" fill="#00ffff"/>
<circle cx="1329.0" cy="595.4" r="3.6" fill="#00ffff"/>
<circle cx="1331.5" cy="607.8" r="3.6" fill="#00ffff"/>
<circle cx="1332.2" cy="616.1" r="3.6" fill="#00ffff"/>
<circle cx="1334.9" cy="626.0" r="3.6" fill="#00ffff"/>
<circle cx="1335.2" cy="635.4" r="3.6" fill="#00ffff"/>
<circle cx="1339.7" cy="644.3" r="3.6" fill="#00ffff"/>
<circle cx="1339.2" cy="655.1" r="3.6" fill="#00ffff"/>
<circle cx="1340.9" cy="664.4" r="3.6" fill="#00ffff"/>
<circle cx="1341.8" cy="674.6" r="3.6" fill="#00ffff"/>
<circle cx="1345.2" cy="686.2" r="3.6" fill="#00ffff"/>
<circle cx="1348.1" cy="694.2" r="3.6" fill="#00ffff"/>
<circle cx="1348.2" cy="703.9" r="3.6" fill="#00ffff"/>
<circle cx="1350.1" cy="716.8" r="3.6" fill="#00ffff"/>
<circle cx="1354.5" cy="725.2" r="3.6" fill="#00ffff"/>
<circle cx="1353.9" cy="736.5" r="3.6" fill="#00ffff"/>
<circle cx="1357.7" cy="744.7" r="3.6" fill="#00ffff"/>
<circle cx="1360.5" cy="754.7" r="3.6" fill="#00ffff"/>
<circle cx="1362.2" cy="764.0" r="3.6" fill="#00ffff"/>
<circle cx="1361.4" cy="775.2" r="3.6" fill="#00ffff"/>
<circle cx="1362.8" cy="784.9" r="3.6" fill="#00ffff"/>
<circle cx="1365.4" cy="795.9" r="3.6" fill="#00ffff"/>
<circle cx="1368.8" cy="806.6" r="3.6" fill="#00ffff"/>
<circle cx="1236.8" cy="198.1" r="3.6" fill="#00ffff"/>
<circle cx="1240.3" cy="207.8" r="3.6" fill="#00ffff"/>
<circle cx="1243.7" cy="216.1" r="3.6" fill="#00ffff"/>
<circle cx="1247.1" cy="226.7" r="3.6" fill="#00ffff"/>
<circle cx="1251.0" cy="238.6" r="3.6" fill="#00ffff"/>
<circle cx="1255.7" cy="247.3" r="3.6" fill="#00ffff"/>
<circle cx="1258.4" cy="258.7" r="3.6" fill="#00ffff"/>
<circle cx="1258.0" cy="269.0" r="3.6" fill="#00ffff"/>
<circle cx="1259.5" cy="276.6" r="3.6" fill="#00ffff"/>
<circle cx="1264.9" cy="288.2" r="3.6" fill="#00ffff"/>
<circle cx="1266.1" cy="296.8" r="3.6" fill="#00ffff"/>
<circle cx="1270.0" cy="308.0" r="3.6" fill="#00ffff"/>
<circle cx="1272.7" cy="316.3" r="3.6" fill="#00ffff"/>
<circle cx="1274.4" cy="326.7" r="3.6" fill="#00ffff"/>
<circle cx="1274.7" cy="336.0" r="3.6" fill="#00ffff"/>
<circle cx="1280.4" cy="348.8" r="3.6" fill="#00ffff"/>
<circle cx="1279.9" cy="358.0" r="3.6" fill="#00ffff"/>
<circle cx="1282.3" cy="365.3" r="3.6" fill="#00ffff"/>
<circle cx="1285.2" cy="375.8" r="3.6" fill="#00ffff"/>
<circle cx="1286.5" cy="386.5" r="3.6" fill="#00ffff"/>
<circle cx="1291.1" cy="396.2" r="3.6" fill="#00ffff"/>
<circle cx="1294.0" cy="405.6" r="3.6" fill="#00ffff"/>
<circle cx="1296.1" cy="417.1" r="3.6" fill="#00ffff"/>
<circle cx="1297.0" cy="425.8" r="3.6" fill="#00ffff"/>
<circle cx="1299.3" cy="437.5" r="3.6" fill="#00ffff"/>
<circle cx="1302.9" cy="444.7" r="3.6" fill="#00ffff"/>
<circle cx="1303.7" cy="457.8" r="3.6" fill="#00ffff"/>
<circle cx="1307.6" cy="464.8" r="3.6" fill="#00ffff"/>
<circle cx="1307.2" cy="477.0" r="3.6" fill="#00ffff"/>
<circle cx="1309.1" cy="485.5" r="3.6" fill="#00ffff"/>
<circle cx="1311.6" cy="497.6" r="3.6" fill="#00ffff"/>
<circle cx="1315.7" cy="508.1" r="3.6" fill="#00ffff"/>
<circle cx="1316.7" cy="514.7" r="3.6" fill="#00ffff"/>
<circle cx="1318.9" cy="525.9" r="3.6" fill="#00ffff"/>
<circle cx="1319.1" cy="537.6" r="3.6" fill="#00ffff"/>
<circle cx="1323.0" cy="544.6" r="3.6" fill="#00ffff"/>
<circle cx="1325.0" cy="555.9" r="3.6" fill="#00ffff"/>
<circle cx="1326.2" cy="566.9" r="3.6" fill="#00ffff"/>
<circle cx="1327.6" cy="577.4" r="3.6" fill="#00ffff"/>
<circle cx="1326.7" cy="585.9" r="3.6" fill="#00ffff"/>
<circle cx="1330.0" cy="596.8" r="3.6" fill="#00ffff"/>
<circle cx="1333.6" cy="606.0" r="3.6" fill="#00ffff"/>
<circle cx="1334.3" cy="614.4" r="3.6" fill="#00ffff"/>
<circle cx="1335.7" cy="624.0" r="3.6" fill="#00ffff"/>
<circle cx="1336.1" cy="637.0" r="3.6" fill="#00ffff"/>
<circle cx="1340.4" cy="645.9" r="3.6" fill="#00ffff"/>
<circle cx="1340.5" cy="656.3" r="3.6" fill="#00ffff"/>
<circle cx="1339.9" cy="664.7" r="3.6" fill="#00ffff"/>
<circle cx="1343.3" cy="675.0" r="3.6" fill="#00ffff"/>
<circle cx="1344.6" cy="684.4" r="3.6" fill="#00ffff"/>
<circle cx="1348.0" cy="694.1" r="3.6" fill="#00ffff"/>
<circle cx="1348.4" cy="706.2" r="3.6" fill="#00ffff"/>
<circle cx="1351.0" cy="714.4" r="3.6" fill="#00ffff"/>
<circle cx="1354.7" cy="725.2" r="3.6" fill="#00ffff"/>
<circle cx="1354.0" cy="734.7" r="3.6" fill="#00ffff"/>
<circle cx="1355.6" cy="746.8" r="3.6" fill="#00ffff"/>
<circle cx="1358.0" cy="755.5" r="3.6" fill="#00ffff"/>
<circle cx="1360.9" cy="766.4" r="3.6" fill="#00ffff"/>
<circle cx="1361.2" cy="776.2" r="3.6" fill="#00ffff"/>
<circle cx="1364.7" cy="785.8" r="3.6" fill="#00ffff"/>
<circle cx="1367.1" cy="794.9" r="3.6" fill="#00ffff"/>
<circle cx="1366.7" cy="806.3" r="3.6" fill="#00ffff"/>
<circle cx="1224.2" cy="188.2" r="3.6" fill="#00ffff"/>
<circle cx="1230.9" cy="197.9" r="3.6" fill="#00ffff"/>
<circle cx="1235.3" cy="206.6" r="3.6" fill="#00ffff"/>
<circle cx="1242.1" cy="215.8" r="3.6" fill="#00ffff"/>
<circle cx="1246.6" cy="228.3" r="3.6" fill="#00ffff"/>
<circle cx="1249.5" cy="239.4" r="3.6" fill="#00ffff"/>
<circle cx="1249.7" cy="246.7" r="3.6" fill="#00ffff"/>
<circle cx="1251.2" cy="256.2" r="3.6" fill="#00ffff"/>
<circle cx="1257.5" cy="268.7" r="3.6" fill="#00ffff"/>
<circle cx="1256.9" cy="276.7" r="3.6" fill="#00ffff"/>
<circle cx="1262.4" cy="288.0" r="3.6" fill="#00ffff"/>
<circle cx="1262.5" cy="299.1" r="3.6" fill="#00ffff"/>
<circle cx="1267.5" cy="308.5" r="3.6" fill="#00ffff"/>
<circle cx="1267.9" cy="318.3" r="3.6" fill="#00ffff"/>
<circle cx="1271.8" cy="326.0" r="3.6" fill="#00ffff"/>
<circle cx="1272.6" cy="336.5" r="3.6" fill="#00ffff"/>
<circle cx="1275.4" cy="347.4" r="3.6" fill="#00ffff"/>
<circle cx="1277.6" cy="358.5" r="3.6" fill="#00ffff"/>
<circle cx="1280.7" cy="365.3" r="3.6" fill="#00ffff"/>
<circle cx="1284.4" cy="377.6" r="3.6" fill="#00ffff"/>
<circle cx="1287.1" cy="387.8" r="3.6" fill="#00ffff"/>
<circle cx="1287.9" cy="398.7" r="3.6" fill="#00ffff"/>
<circle cx="1288.4" cy="406.9" r="3.6" fill="#00ffff"/>
<circle cx="1292.1" cy="416.1" r="3.6" fill="#00ffff"/>
<circle cx="1294.6" cy="425.1" r="3.6" fill="#00ffff"/>
<circle cx="1296.0" cy="435.4" r="3.6" fill="#00ffff"/>
<circle cx="1297.6" cy="448.6" r="3.6" fill="#00ffff"/>
<circle cx="1300.4" cy="454.8" r="3.6" fill="#00ffff"/>
<circle cx="1304.0" cy="465.4" r="3.6" fill="#00ffff"/>
<circle cx="1306.6" cy="474.6" r="3.6" fill="#00ffff"/>
<circle cx="1309.0" cy="487.9" r="3.6" fill="#00ffff"/>
<circle cx="1308.5" cy="496.2" r="3.6" fill="#00ffff"/>
<circle cx="1311.3" cy="507.1" r="3.6" fill="#00ffff"/>
<circle cx="1312.3" cy="516.1" r="3.6" fill="#00ffff"/>
<circle cx="1315.4" cy="526.1" r="3.6" fill="#00ffff"/>
<circle cx="1318.4" cy="537.6" r="3.6" fill="#00ffff"/>
<circle cx="1317.3" cy="544.9" r="3.6" fill="#00ffff"/>
<circle cx="1320.3" cy="556.0" r="3.6" fill="#00ffff"/>
<circle cx="1320.6" cy="565.5" r="3.6" fill="#00ffff"/>
<circle cx="1322.7" cy="574.4" r="3.6" fill="#00ffff"/>
<circle cx="1327.2" cy="585.9" r="3.6" fill="#00ffff"/>
<circle cx="1328.7" cy="597.6" r="3.6" fill="#00ffff"/>
<circle cx="1330.8" cy="607.8" r="3.6" fill="#00ffff"/>
<circle cx="1331.6" cy="616.4" r="3.6" fill="#00ffff"/>
<circle cx="1332.4" cy="624.1" r="3.6" fill="#00ffff"/>
<circle cx="1332.9" cy="636.2" r="3.6" fill="#00ffff"/>
<circle cx="1337.2" cy="646.0" r="3.6" fill="#00ffff"/>
<circle cx="1337.6" cy="655.6" r="3.6" fill="#00ffff"/>
<circle cx="1337.9" cy="664.9" r="3.6" fill="#00ffff"/>
<circle cx="1338.9" cy="677.1" r="3.6" fill="#00ffff"/>
<circle cx="1342.9" cy="684.3" r="3.6" fill="#00ffff"/>
<circle cx="1342.5" cy="695.3" r="3.6" fill="#00ffff"/>
<circle cx="1345.7" cy="706.1" r="3.6" fill="#00ffff"/>
<circle cx="1347.7" cy="715.7" r="3.6" fill="#00ffff"/>
<circle cx="1350.1" cy="725.5" r="3.6" fill="#00ffff"/>
<circle cx="1350.1" cy="734.9" r="3.6" fill="#00ffff"/>
<circle cx="1354.9" cy="744.0" r="3.6" fill="#00ffff"/>
<circle cx="1353.9" cy="755.4" r="3.6" fill="#00ffff"/>
<circle cx="1356.6" cy="766.6" r="3.6" fill="#00ffff"/>
<circle cx="1359.0" cy="773.5" r="3.6" fill="#00ffff"/>
<circle cx="1360.8" cy="784.1" r="3.6" fill="#00ffff"/>
<circle cx="1361.8" cy="795.3" r="3.6" fill="#00ffff"/>
<circle cx="1363.3" cy="805.3" r="3.6" fill="#00ffff"/>
<circle cx="1226.3" cy="199.0" r="3.6" fill="#00ffff"/>
<circle cx="1232.0" cy="206.8" r="3.6" fill="#00ffff"/>
<circle cx="1237.4" cy="215.9" r="3.6" fill="#00ffff"/>
<circle cx="1243.6" cy="226.6" r="3.6" fill="#00ffff"/>
<circle cx="1247.3" cy="238.5" r="3.6" fill="#00ffff"/>
<circle cx="1250.8" cy="249.2" r="3.6" fill="#00ffff"/>
<circle cx="1253.0" cy="259.1" r="3.6" fill="#00ffff"/>
<circle cx="1256.8" cy="269.2" r="3.6" fill="#00ffff"/>
<circle cx="1258.0" cy="276.2" r="3.6" fill="#00ffff"/>
<circle cx="1260.8" cy="286.8" r="3.6" fill="#00ffff"/>
<circle cx="1263.8" cy="298.1" r="3.6" fill="#00ffff"/>
<circle cx="1264.0" cy="305.9" r="3.6" fill="#00ffff"/>
<circle cx="1269.4" cy="318.3" r="3.6" fill="#00ffff"/>
<circle cx="1268.2" cy="328.2" r="3.6" fill="#00ffff"/>
<circle cx="1270.8" cy="337.6" r="3.6" fill="#00ffff"/>
<circle cx="1276.1" cy="347.4" r="3.6" fill="#00ffff"/>
<circle cx="1278.7" cy="355.6" r="3.6" fill="#00ffff"/>
<circle cx="1279.0" cy="367.8" r="3.6" fill="#00ffff"/>
<circle cx="1281.5" cy="375.8" r="3.6" fill="#00ffff"/>
<circle cx="1284.9" cy="388.3" r="3.6" fill="#00ffff"/>
<circle cx="1284.2" cy="395.4" r="3.6" fill="#00ffff"/>
<circle cx="1289.6" cy="405.3" r="3.6" fill="#00ffff"/>
<circle cx="1290.9" cy="415.6" r="3.6" fill="#00ffff"/>
<circle cx="1293.8" cy="426.0" r="3.6" fill="#00ffff"/>
<circle cx="1293.9" cy="436.3" r="3.6" fill="#00ffff"/>
<circle cx="1298.3" cy="448.2" r="3.6" fill="#00ffff"/>
<circle cx="1301.5" cy="457.4" r="3.6" fill="#00ffff"/>
<circle cx="1300.8" cy="468.4" r="3.6" fill="#00ffff"/>
<circle cx="1303.1" cy="475.9" r="3.6" fill="#00ffff"/>
<circle cx="1308.1" cy="486.5" r="3.6" fill="#00ffff"/>
<circle cx="1306.7" cy="497.7" r="3.6" fill="#00ffff"/>
<circle cx="1311.2" cy="505.2" r="3.6" fill="#00ffff"/>
<circle cx="1311.6" cy="517.1" r="3.6" fill="#00ffff"/>
<circle cx="1312.3" cy="526.2" r="3.6" fill="#00ffff"/>
<circle cx="1315.3" cy="537.7" r="3.6" fill="#00ffff"/>
<circle cx="1318.0" cy="547.7" r="3.6" fill="#00ffff"/>
<circle cx="1318.1" cy="554.5" r="3.6" fill="#00ffff"/>
<circle cx="1322.3" cy="565.0" r="3.6" fill="#00ffff"/>
<circle cx="1320.9" cy="576.4" r="3.6" fill="#00ffff"/>
<circle cx="1323.5" cy="584.7" r="3.6" fill="#00ffff"/>
<circle cx="1326.3" cy="595.9" r="3.6" fill="#00ffff"/>
<circle cx="1327.0" cy="605.5" r="3.6" fill="#00ffff"/>
<circle cx="1329.3" cy="613.9" r="3.6" fill="#00ffff"/>
<circle cx="1328.9" cy="625.2" r="3.6" fill="#00ffff"/>
<circle cx="1334.6" cy="635.6" r="3.6" fill="#00ffff"/>
<circle cx="1332.6" cy="643.9" r="3.6" fill="#00ffff"/>
<circle cx="1335.2" cy="656.4" r="3.6" fill="#00ffff"/>
<circle cx="1337.5" cy="664.8" r="3.6" fill="#00ffff"/>
<circle cx="1339.6" cy="674.7" r="3.6" fill="#00ffff"/>
<circle cx="1343.2" cy="685.7" r="3.6" fill="#00ffff"/>
<circle cx="1341.7" cy="697.5" r="3.6" fill="#00ffff"/>
<circle cx="1346.2" cy="705.7" r="3.6" fill="#00ffff"/>
<circle cx="1348.3" cy="716.9" r="3.6" fill="#00ffff"/>
<circle cx="1349.4" cy="725.9" r="3.6" fill="#00ffff"/>
<circle cx="1349.7" cy="734.8" r="3.6" fill="#00ffff"/>
<circle cx="1354.2" cy="746.5" r="3.6" fill="#00ffff"/>
<circle cx="1355.4" cy="757.0" r="3.6" fill="#00ffff"/>
<circle cx="1357.2" cy="764.4" r="3.6" fill="#00ffff"/>
<circle cx="1358.3" cy="776.1" r="3.6" fill="#00ffff"/>
<circle cx="1359.5" cy="785.6" r="3.6" fill="#00ffff"/>
<circle cx="1361.5" cy="795.2" r="3.6" fill="#00ffff"/>
<circle cx="1362.8" cy="803.2" r="3.6" fill="#00ffff"/>
<circle cx="1231.1" cy="189.7" r="3.6" fill="#00ffff"/>
<circle cx="1237.2" cy="199.6" r="3.6" fill="#00ffff"/>
<circle cx="1236.6" cy="206.2" r="3.6" fill="#00ffff"/>
<circle cx="1246.1" cy="218.1" r="3.6" fill="#00ffff"/>
<circle cx="1248.9" cy="227.2" r="3.6" fill="#00ffff"/>
<circle cx="1252.1" cy="237.4" r="3.6" fill="#00ffff"/>
<circle cx="1252.6" cy="245.9" r="3.6" fill="#00ffff"/>
<circle cx="1255.1" cy="259.2" r="3.6" fill="#00ffff"/>
<circle cx="1256.0" cy="266.6" r="3.6" fill="#00ffff"/>
<circle cx="1259.3" cy="276.2" r="3.6" fill="#00ffff"/>
<circle cx="1262.1" cy="288.3" r="3.6" fill="#00ffff"/>
<circle cx="1264.3" cy="297.0" r="3.6" fill="#00ffff"/>
<circle cx="1269.6" cy="307.8" r="3.6" fill="#00ffff"/>
<circle cx="1269.5" cy="317.9" r="3.6" fill="#00ffff"/>
<circle cx="1275.1" cy="328.2" r="3.6" fill="#00ffff"/>
<circle cx="1274.0" cy="337.6" r="3.6" fill="#00ffff"/>
<circle cx="1279.9" cy="348.4" r="3.6" fill="#00ffff"/>
<circle cx="1278.9" cy="356.5" r="3.6" fill="#00ffff"/>
<circle cx="1282.9" cy="365.8" r="3.6" fill="#00ffff"/>
<circle cx="1286.1" cy="378.5" r="3.6" fill="#00ffff"/>
<circle cx="1286.7" cy="388.7" r="3.6" fill="#00ffff"/>
<circle cx="1290.6" cy="396.3" r="3.6" fill="#00ffff"/>
<circle cx="1291.7" cy="407.5" r="3.6" fill="#00ffff"/>
<circle cx="1293.7" cy="417.6" r="3.6" fill="#00ffff"/>
<circle cx="1295.7" cy="425.0" r="3.6" fill="#00ffff"/>
<circle cx="1298.8" cy="434.9" r="3.6" fill="#00ffff"/>
<circle cx="1300.8" cy="446.0" r="3.6" fill="#00ffff"/>
<circle cx="1302.4" cy="457.0" r="3.6" fill="#00ffff"/>
<circle cx="1303.6" cy="466.5" r="3.6" fill="#00ffff"/>
<circle cx="1308.5" cy="478.3" r="3.6" fill="#00ffff"/>
<circle cx="1308.4" cy="488.5" r="3.6" fill="#00ffff"/>
<circle cx="1312.6" cy="496.9" r="3.6" fill="#00ffff"/>
<circle cx="1311.6" cy="505.7" r="3.6" fill="#00ffff"/>
<circle cx="1313.5" cy="515.0" r="3.6" fill="#00ffff"/>
<circle cx="1315.5" cy="527.4" r="3.6" fill="#00ffff"/>
<circle cx="1318.6" cy="537.5" r="3.6" fill="#00ffff"/>
<circle cx="1320.9" cy="546.4" r="3.6" fill="#00ffff"/>
<circle cx="1323.0" cy="556.4" r="3.6" fill="#00ffff"/>
<circle cx="1323.5" cy="566.5" r="3.6" fill="#00ffff"/>
<circle cx="1325.0" cy="577.0" r="3.6" fill="#00ffff"/>
<circle cx="1328.7" cy="586.9" r="3.6" fill="#00ffff"/>
<circle cx="1328.6" cy="597.1" r="3.6" fill="#00ffff"/>
<circle cx="1332.9" cy="607.0" r="3.6" fill="#00ffff"/>
<circle cx="1331.6" cy="615.7" r="3.6" fill="#00ffff"/>
<circle cx="1336.0" cy="625.9" r="3.6" fill="#00ffff"/>
<circle cx="1333.6" cy="634.3" r="3.6" fill="#00ffff"/>
<circle cx="1338.1" cy="645.7" r="3.6" fill="#00ffff"/>
<circle cx="1338.8" cy="656.8" r="3.6" fill="#00ffff"/>
<circle cx="1340.1" cy="667.6" r="3.6" fill="#00ffff"/>
<circle cx="1341.3" cy="676.6" r="3.6" fill="#00ffff"/>
<circle cx="1342.8" cy="683.7" r="3.6" fill="#00ffff"/>
<circle cx="1346.1" cy="693.8" r="3.6" fill="#00ffff"/>
<circle cx="1347.1" cy="705.7" r="3.6" fill="#00ffff"/>
<circle cx="1349.9" cy="717.2" r="3.6" fill="#00ffff"/>
<circle cx="1350.5" cy="724.0" r="3.6" fill="#00ffff"/>
<circle cx="1355.7" cy="736.3" r="3.6" fill="#00ffff"/>
<circle cx="1353.6" cy="743.9" r="3.6" fill="#00ffff"/>
<circle cx="1356.8" cy="756.3" r="3.6" fill="#00ffff"/>
<circle cx="1359.8" cy="767.1" r="3.6" fill="#00ffff"/>
<circle cx="1360.8" cy="775.7" r="3.6" fill="#00ffff"/>
<circle cx="1363.3" cy="786.3" r="3.6" fill="#00ffff"/>
<circle cx="1366.6" cy="794.3" r="3.6" fill="#00ffff"/>
<circle cx="1367.6" cy="803.4" r="3.6" fill="#00ffff"/>
<circle cx="1369.1" cy="813.2" r="3.6" fill="#00ffff"/>
<polyline points="1108.2,19.1 1110.0,25.0 1115.3,35.5 1122.0,42.0 1135.0,50.1 1147.0,60.0 1158.0,70.0 1167.0,80.0 1176.0,89.5 1183.0,100.0 1196.0,120.0 1211.6,140.0 1221.9,160.6 1224.5,170.3 1237.0,200.0 1248.5,228.5 1265.6,297.0 1282.8,365.5 1298.2,434.0 1308.6,479.0 1325.7,574.3 1341.0,665.7 1358.1,757.1 1368.8,814.0" fill="none" stroke="#0000ff" stroke-width="2.7" stroke-linejoin="round"/>
<circle cx="1108.1" cy="18.8" r="5.6" fill="#0000ff"/>
<circle cx="1111.9" cy="28.7" r="5.6" fill="#0000ff"/>
<circle cx="1118.6" cy="38.7" r="5.6" fill="#0000ff"/>
<circle cx="1132.6" cy="48.6" r="5.6" fill="#0000ff"/>
<circle cx="1145.3" cy="58.6" r="5.6" fill="#0000ff"/>
<circle cx="1156.4" cy="68.5" r="5.6" fill="#0000ff"/>
<circle cx="1165.6" cy="78.5" r="5.6" fill="#0000ff"/>
<circle cx="1175.0" cy="88.4" r="5.6" fill="#0000ff"/>
<circle cx="1181.9" cy="98.4" r="5.6" fill="#0000ff"/>
<circle cx="1188.4" cy="108.3" r="5.6" fill="#0000ff"/>
<circle cx="1194.9" cy="118.3" r="5.6" fill="#0000ff"/>
<circle cx="1202.4" cy="128.2" r="5.6" fill="#0000ff"/>
<circle cx="1210.2" cy="138.2" r="5.6" fill="#0000ff"/>
<circle cx="1215.7" cy="148.1" r="5.6" fill="#0000ff"/>
<circle cx="1220.6" cy="158.1" r="5.6" fill="#0000ff"/>
<circle cx="1223.9" cy="168.0" r="5.6" fill="#0000ff"/>
<circle cx="1227.7" cy="178.0" r="5.6" fill="#0000ff"/>
<circle cx="1231.9" cy="187.9" r="5.6" fill="#0000ff"/>
<circle cx="1236.1" cy="197.9" r="5.6" fill="#0000ff"/>
<circle cx="1240.2" cy="207.8" r="5.6" fill="#0000ff"/>
<circle cx="1244.2" cy="217.8" r="5.6" fill="#0000ff"/>
<circle cx="1248.2" cy="227.8" r="5.6" fill="#0000ff"/>
<circle cx="1250.8" cy="237.7" r="5.6" fill="#0000ff"/>
<circle cx="1253.3" cy="247.7" r="5.6" fill="#0000ff"/>
<circle cx="1255.8" cy="257.6" r="5.6" fill="#0000ff"/>
<circle cx="1258.3" cy="267.6" r="5.6" fill="#0000ff"/>
<circle cx="1260.7" cy="277.5" r="5.6" fill="#0000ff"/>
<circle cx="1263.2" cy="287.5" r="5.6" fill="#0000ff"/>
<circle cx="1265.7" cy="297.4" r="5.6" fill="#0000ff"/>
<circle cx="1268.2" cy="307.4" r="5.6" fill="#0000ff"/>
<circle cx="1270.7" cy="317.3" r="5.6" fill="#0000ff"/>
<circle cx="1273.2" cy="327.3" r="5.6" fill="#0000ff"/>
<circle cx="1275.7" cy="337.2" r="5.6" fill="#0000ff"/>
<circle cx="1278.2" cy="347.2" r="5.6" fill="#0000ff"/>
<circle cx="1280.7" cy="357.1" r="5.6" fill="#0000ff"/>
<circle cx="1283.2" cy="367.1" r="5.6" fill="#0000ff"/>
<circle cx="1285.4" cy="377.0" r="5.6" fill="#0000ff"/>
<circle cx="1287.6" cy="387.0" r="5.6" fill="#0000ff"/>
<circle cx="1289.9" cy="396.9" r="5.6" fill="#0000ff"/>
<circle cx="1292.1" cy="406.9" r="5.6" fill="#0000ff"/>
<circle cx="1294.3" cy="416.8" r="5.6" fill="#0000ff"/>
<circle cx="1296.6" cy="426.8" r="5.6" fill="#0000ff"/>
<circle cx="1298.8" cy="436.8" r="5.6" fill="#0000ff"/>
<circle cx="1301.1" cy="446.7" r="5.6" fill="#0000ff"/>
<circle cx="1303.4" cy="456.7" r="5.6" fill="#0000ff"/>
<circle cx="1305.7" cy="466.6" r="5.6" fill="#0000ff"/>
<circle cx="1308.0" cy="476.6" r="5.6" fill="#0000ff"/>
<circle cx="1309.9" cy="486.5" r="5.6" fill="#0000ff"/>
<circle cx="1311.7" cy="496.5" r="5.6" fill="#0000ff"/>
<circle cx="1313.5" cy="506.4" r="5.6" fill="#0000ff"/>
<circle cx="1315.3" cy="516.4" r="5.6" fill="#0000ff"/>
<circle cx="1317.1" cy="526.3" r="5.6" fill="#0000ff"/>
<circle cx="1318.9" cy="536.3" r="5.6" fill="#0000ff"/>
<circle cx="1320.7" cy="546.2" r="5.6" fill="#0000ff"/>
<circle cx="1322.4" cy="556.2" r="5.6" fill="#0000ff"/>
<circle cx="1324.2" cy="566.1" r="5.6" fill="#0000ff"/>
<circle cx="1326.0" cy="576.1" r="5.6" fill="#0000ff"/>
<circle cx="1327.7" cy="586.0" r="5.6" fill="#0000ff"/>
<circle cx="1329.3" cy="596.0" r="5.6" fill="#0000ff"/>
<circle cx="1331.0" cy="605.9" r="5.6" fill="#0000ff"/>
<circle cx="1332.7" cy="615.9" r="5.6" fill="#0000ff"/>
<circle cx="1334.3" cy="625.9" r="5.6" fill="#0000ff"/>
<circle cx="1336.0" cy="635.8" r="5.6" fill="#0000ff"/>
<circle cx="1337.7" cy="645.8" r="5.6" fill="#0000ff"/>
<circle cx="1339.3" cy="655.7" r="5.6" fill="#0000ff"/>
<circle cx="1341.0" cy="665.7" r="5.6" fill="#0000ff"/>
<circle cx="1342.9" cy="675.6" r="5.6" fill="#0000ff"/>
<circle cx="1344.7" cy="685.6" r="5.6" fill="#0000ff"/>
<circle cx="1346.6" cy="695.5" r="5.6" fill="#0000ff"/>
<circle cx="1348.4" cy="705.5" r="5.6" fill="#0000ff"/>
<circle cx="1350.3" cy="715.4" r="5.6" fill="#0000ff"/>
<circle cx="1352.2" cy="725.4" r="5.6" fill="#0000ff"/>
<circle cx="1354.0" cy="735.3" r="5.6" fill="#0000ff"/>
<circle cx="1355.9" cy="745.3" r="5.6" fill="#0000ff"/>
<circle cx="1357.8" cy="755.2" r="5.6" fill="#0000ff"/>
<circle cx="1359.6" cy="765.2" r="5.6" fill="#0000ff"/>
<circle cx="1361.5" cy="775.1" r="5.6" fill="#0000ff"/>
<circle cx="1363.4" cy="785.1" r="5.6" fill="#0000ff"/>
<circle cx="1365.2" cy="795.0" r="5.6" fill="#0000ff"/>
<circle cx="1367.1" cy="805.0" r="5.6" fill="#0000ff"/>
<circle cx="1369.0" cy="814.9" r="5.6" fill="#0000ff"/>
<line x1="1116.5" y1="18.8" x2="1117.0" y2="22.7" stroke="#ff0000" stroke-width="3.0" stroke-linecap="round"/>
<line x1="1117.0" y1="22.7" x2="1117.8" y2="26.7" stroke="#ff0000" stroke-width="3.0" stroke-linecap="round"/>
<line x1="1117.8" y1="26.7" x2="1118.5" y2="30.7" stroke="#ff0000" stroke-width="3.0" stroke-linecap="round"/>
<line x1="1118.5" y1="30.7" x2="1120.0" y2="34.7" stroke="#ff0000" stroke-width="3.0" stroke-linecap="round"/>
<line x1="1120.0" y1="34.7" x2="1122.0" y2="38.7" stroke="#ff0000" stroke-width="3.0" stroke-linecap="round"/>
<line x1="1122.0" y1="38.7" x2="1125.5" y2="42.6" stroke="#ff0000" stroke-width="3.0" stroke-linecap="round"/>
<line x1="1125.5" y1="42.6" x2="1136.0" y2="48.6" stroke="#ff0000" stroke-width="5.5" stroke-linecap="round"/>
<line x1="1136.0" y1="48.6" x2="1146.5" y2="58.6" stroke="#ff0000" stroke-width="5.5" stroke-linecap="round"/>
<line x1="1146.5" y1="58.6" x2="1156.0" y2="68.5" stroke="#ff0000" stroke-width="5.5" stroke-linecap="round"/>
<line x1="1156.0" y1="68.5" x2="1164.0" y2="78.5" stroke="#ff0000" stroke-width="5.5" stroke-linecap="round"/>
<line x1="1164.0" y1="78.5" x2="1172.0" y2="88.4" stroke="#ff0000" stroke-width="5.5" stroke-linecap="round"/>
<line x1="1172.0" y1="88.4" x2="1179.0" y2="98.4" stroke="#ff0000" stroke-width="5.5" stroke-linecap="round"/>
<line x1="1179.0" y1="98.4" x2="1185.5" y2="108.3" stroke="#ff0000" stroke-width="5.5" stroke-linecap="round"/>
<line x1="1185.5" y1="108.3" x2="1191.0" y2="118.3" stroke="#ff0000" stroke-width="5.5" stroke-linecap="round"/>
<line x1="1191.0" y1="118.3" x2="1198.0" y2="138.2" stroke="#ff0000" stroke-width="5.5" stroke-linecap="round"/>
<line x1="1198.0" y1="138.2" x2="1206.0" y2="158.1" stroke="#ff0000" stroke-width="5.5" stroke-linecap="round"/>
<line x1="1206.0" y1="158.1" x2="1213.0" y2="178.0" stroke="#ff0000" stroke-width="5.5" stroke-linecap="round"/>
<line x1="1213.0" y1="178.0" x2="1220.5" y2="197.9" stroke="#ff0000" stroke-width="5.5" stroke-linecap="round"/>
<line x1="1220.5" y1="197.9" x2="1232.0" y2="217.8" stroke="#ff0000" stroke-width="5.5" stroke-linecap="round"/>
<line x1="1232.0" y1="217.8" x2="1250.2" y2="267.6" stroke="#ff0000" stroke-width="5.5" stroke-linecap="round"/>
<line x1="1250.2" y1="267.6" x2="1265.6" y2="317.3" stroke="#ff0000" stroke-width="5.5" stroke-linecap="round"/>
<line x1="1265.6" y1="317.3" x2="1284.5" y2="416.8" stroke="#ff0000" stroke-width="3.6" stroke-linecap="round"/>
<line x1="1284.5" y1="416.8" x2="1306.7" y2="516.4" stroke="#ff0000" stroke-width="3.6" stroke-linecap="round"/>
<line x1="1306.7" y1="516.4" x2="1327.6" y2="615.9" stroke="#ff0000" stroke-width="3.6" stroke-linecap="round"/>
<line x1="1327.6" y1="615.9" x2="1346.7" y2="715.4" stroke="#ff0000" stroke-width="3.6" stroke-linecap="round"/>
<line x1="1346.7" y1="715.4" x2="1363.8" y2="814.9" stroke="#ff0000" stroke-width="3.6" stroke-linecap="round"/>
<circle cx="1116.5" cy="18.8" r="5.6" fill="#ff0000"/>
<circle cx="1117.0" cy="22.7" r="5.6" fill="#ff0000"/>
<circle cx="1117.8" cy="26.7" r="5.6" fill="#ff0000"/>
<circle cx="1118.5" cy="30.7" r="5.6" fill="#ff0000"/>
<circle cx="1120.0" cy="34.7" r="5.6" fill="#ff0000"/>
<circle cx="1122.0" cy="38.7" r="5.6" fill="#ff0000"/>
<circle cx="1125.5" cy="42.6" r="5.6" fill="#ff0000"/>
<circle cx="1136.0" cy="48.6" r="5.6" fill="#ff0000"/>
<circle cx="1146.5" cy="58.6" r="5.6" fill="#ff0000"/>
<circle cx="1156.0" cy="68.5" r="5.6" fill="#ff0000"/>
<circle cx="1164.0" cy="78.5" r="5.6" fill="#ff0000"/>
<circle cx="1172.0" cy="88.4" r="5.6" fill="#ff0000"/>
<circle cx="1179.0" cy="98.4" r="5.6" fill="#ff0000"/>
<circle cx="1185.5" cy="108.3" r="5.6" fill="#ff0000"/>
<circle cx="1191.0" cy="118.3" r="5.6" fill="#ff0000"/>
<circle cx="1198.0" cy="138.2" r="5.6" fill="#ff0000"/>
<circle cx="1206.0" cy="158.1" r="5.6" fill="#ff0000"/>
<circle cx="1213.0" cy="178.0" r="5.6" fill="#ff0000"/>
<circle cx="1220.5" cy="197.9" r="5.6" fill="#ff0000"/>
<circle cx="1232.0" cy="217.8" r="5.6" fill="#ff0000"/>
<circle cx="1250.2" cy="267.6" r="5.6" fill="#ff0000"/>
<circle cx="1265.6" cy="317.3" r="5.6" fill="#ff0000"/>
<circle cx="1284.5" cy="416.8" r="5.6" fill="#ff0000"/>
<circle cx="1306.7" cy="516.4" r="5.6" fill="#ff0000"/>
<circle cx="1327.6" cy="615.9" r="5.6" fill="#ff0000"/>
<circle cx="1346.7" cy="715.4" r="5.6" fill="#ff0000"/>
<circle cx="1363.8" cy="814.9" r="5.6" fill="#ff0000"/>
<polyline points="1109.5,18.8 1110.0,22.7 1111.0,26.7 1112.5,30.7 1114.5,34.7 1117.0,38.7 1121.0,42.6 1132.8,48.6 1145.7,58.6 1155.5,68.5 1164.1,78.5 1172.2,88.4 1180.8,98.4 1187.5,108.3 1192.8,118.3 1201.3,138.2 1209.9,158.1 1220.0,178.0 1231.0,197.9 1241.7,217.8 1257.1,267.6 1269.8,317.3 1288.9,416.8 1310.5,516.4 1330.3,615.9 1350.5,715.4 1369.5,814.9" fill="none" stroke="#008000" stroke-width="2.7" stroke-linejoin="round"/>
<circle cx="1109.5" cy="18.8" r="5.6" fill="#008000"/>
<circle cx="1110.0" cy="22.7" r="5.6" fill="#008000"/>
<circle cx="1111.0" cy="26.7" r="5.6" fill="#008000"/>
<circle cx="1112.5" cy="30.7" r="5.6" fill="#008000"/>
<circle cx="1114.5" cy="34.7" r="5.6" fill="#008000"/>
<circle cx="1117.0" cy="38.7" r="5.6" fill="#008000"/>
<circle cx="1121.0" cy="42.6" r="5.6" fill="#008000"/>
<circle cx="1132.8" cy="48.6" r="5.6" fill="#008000"/>
<circle cx="1145.7" cy="58.6" r="5.6" fill="#008000"/>
<circle cx="1155.5" cy="68.5" r="5.6" fill="#008000"/>
<circle cx="1164.1" cy="78.5" r="5.6" fill="#008000"/>
<circle cx="1172.2" cy="88.4" r="5.6" fill="#008000"/>
<circle cx="1180.8" cy="98.4" r="5.6" fill="#008000"/>
<circle cx="1187.5" cy="108.3" r="5.6" fill="#008000"/>
<circle cx="1192.8" cy="118.3" r="5.6" fill="#008000"/>
<circle cx="1201.3" cy="138.2" r="5.6" fill="#008000"/>
<circle cx="1209.9" cy="158.1" r="5.6" fill="#008000"/>
<circle cx="1220.0" cy="178.0" r="5.6" fill="#008000"/>
<circle cx="1231.0" cy="197.9" r="5.6" fill="#008000"/>
<circle cx="1241.7" cy="217.8" r="5.6" fill="#008000"/>
<circle cx="1257.1" cy="267.6" r="5.6" fill="#008000"/>
<circle cx="1269.8" cy="317.3" r="5.6" fill="#008000"/>
<circle cx="1288.9" cy="416.8" r="5.6" fill="#008000"/>
<circle cx="1310.5" cy="516.4" r="5.6" fill="#008000"/>
<circle cx="1330.3" cy="615.9" r="5.6" fill="#008000"/>
<circle cx="1350.5" cy="715.4" r="5.6" fill="#008000"/>
<circle cx="1369.5" cy="814.9" r="5.6" fill="#008000"/>
<polyline points="1113.5,19.7 1114.0,21.8 1114.5,24.0 1115.5,26.4 1116.5,28.9 1117.5,31.6 1118.5,34.5 1120.0,37.8 1121.5,41.5 1123.0,45.6 1125.0,50.2 1128.0,55.6 1133.7,61.7 1143.5,68.9 1153.4,77.4 1164.5,87.3 1175.5,99.1 1186.8,113.0 1197.6,129.7 1209.9,149.7 1219.4,173.7 1230.7,202.5 1245.1,237.2 1261.2,278.8 1275.2,329.0 1287.9,389.2 1303.1,461.6 1318.1,548.3 1337.9,652.0 1361.9,775.6 1390.5,922.3" fill="none" stroke="#ff00ff" stroke-width="2.7" stroke-linejoin="round"/>
<circle cx="1113.5" cy="19.7" r="5.6" fill="#ff00ff"/>
<circle cx="1114.0" cy="21.8" r="5.6" fill="#ff00ff"/>
<circle cx="1114.5" cy="24.0" r="5.6" fill="#ff00ff"/>
<circle cx="1115.5" cy="26.4" r="5.6" fill="#ff00ff"/>
<circle cx="1116.5" cy="28.9" r="5.6" fill="#ff00ff"/>
<circle cx="1117.5" cy="31.6" r="5.6" fill="#ff00ff"/>
<circle cx="1118.5" cy="34.5" r="5.6" fill="#ff00ff"/>
<circle cx="1120.0" cy="37.8" r="5.6" fill="#ff00ff"/>
<circle cx="1121.5" cy="41.5" r="5.6" fill="#ff00ff"/>
<circle cx="1123.0" cy="45.6" r="5.6" fill="#ff00ff"/>
<circle cx="1125.0" cy="50.2" r="5.6" fill="#ff00ff"/>
<circle cx="1128.0" cy="55.6" r="5.6" fill="#ff00ff"/>
<circle cx="1133.7" cy="61.7" r="5.6" fill="#ff00ff"/>
<circle cx="1143.5" cy="68.9" r="5.6" fill="#ff00ff"/>
<circle cx="1153.4" cy="77.4" r="5.6" fill="#ff00ff"/>
<circle cx="1164.5" cy="87.3" r="5.6" fill="#ff00ff"/>
<circle cx="1175.5" cy="99.1" r="5.6" fill="#ff00ff"/>
<circle cx="1186.8" cy="113.0" r="5.6" fill="#ff00ff"/>
<circle cx="1197.6" cy="129.7" r="5.6" fill="#ff00ff"/>
<circle cx="1209.9" cy="149.7" r="5.6" fill="#ff00ff"/>
<circle cx="1219.4" cy="173.7" r="5.6" fill="#ff00ff"/>
<circle cx="1230.7" cy="202.5" r="5.6" fill="#ff00ff"/>
<circle cx="1245.1" cy="237.2" r="5.6" fill="#ff00ff"/>
<circle cx="1261.2" cy="278.8" r="5.6" fill="#ff00ff"/>
<circle cx="1275.2" cy="329.0" r="5.6" fill="#ff00ff"/>
<circle cx="1287.9" cy="389.2" r="5.6" fill="#ff00ff"/>
<circle cx="1303.1" cy="461.6" r="5.6" fill="#ff00ff"/>
<circle cx="1318.1" cy="548.3" r="5.6" fill="#ff00ff"/>
<circle cx="1337.9" cy="652.0" r="5.6" fill="#ff00ff"/>
<circle cx="1361.9" cy="775.6" r="5.6" fill="#ff00ff"/>
<circle cx="1390.5" cy="922.3" r="5.6" fill="#ff00ff"/>
</g>
<rect x="88.4" y="19.5" width="401.10" height="795" fill="none" stroke="#000" stroke-width="1.15"/>
<line x1="82.20" y1="19.50" x2="88.4" y2="19.50" stroke="#000" stroke-width="1.15"/>
<text x="74.42" y="26.25" font-size="17.91" font-family="Liberation Sans, sans-serif" textLength="9.99" lengthAdjust="spacingAndGlyphs" text-anchor="end"  xml:space="preserve">0</text>
<line x1="82.20" y1="68.50" x2="88.4" y2="68.50" stroke="#000" stroke-width="1.15"/>
<text x="74.10" y="76.01" font-size="17.91" font-family="Liberation Sans, sans-serif" textLength="20.46" lengthAdjust="spacingAndGlyphs" text-anchor="end"  xml:space="preserve">25</text>
<line x1="82.20" y1="118.50" x2="88.4" y2="118.50" stroke="#000" stroke-width="1.15"/>
<text x="74.44" y="125.77" font-size="17.91" font-family="Liberation Sans, sans-serif" textLength="20.62" lengthAdjust="spacingAndGlyphs" text-anchor="end"  xml:space="preserve">50</text>
<line x1="82.20" y1="168.50" x2="88.4" y2="168.50" stroke="#000" stroke-width="1.15"/>
<text x="74.10" y="175.54" font-size="17.91" font-family="Liberation Sans, sans-serif" textLength="20.37" lengthAdjust="spacingAndGlyphs" text-anchor="end"  xml:space="preserve">75</text>
<line x1="82.20" y1="217.50" x2="88.4" y2="217.50" stroke="#000" stroke-width="1.15"/>
<text x="74.55" y="225.30" font-size="17.91" font-family="Liberation Sans, sans-serif" textLength="31.56" lengthAdjust="spacingAndGlyphs" text-anchor="end"  xml:space="preserve">100</text>
<line x1="82.20" y1="267.50" x2="88.4" y2="267.50" stroke="#000" stroke-width="1.15"/>
<text x="74.20" y="275.06" font-size="17.91" font-family="Liberation Sans, sans-serif" textLength="31.20" lengthAdjust="spacingAndGlyphs" text-anchor="end"  xml:space="preserve">125</text>
<line x1="82.20" y1="317.50" x2="88.4" y2="317.50" stroke="#000" stroke-width="1.15"/>
<text x="74.55" y="324.82" font-size="17.91" font-family="Liberation Sans, sans-serif" textLength="31.56" lengthAdjust="spacingAndGlyphs" text-anchor="end"  xml:space="preserve">150</text>
<line x1="82.20" y1="367.50" x2="88.4" y2="367.50" stroke="#000" stroke-width="1.15"/>
<text x="74.20" y="374.59" font-size="17.91" font-family="Liberation Sans, sans-serif" textLength="31.20" lengthAdjust="spacingAndGlyphs" text-anchor="end"  xml:space="preserve">175</text>
<line x1="82.20" y1="416.50" x2="88.4" y2="416.50" stroke="#000" stroke-width="1.15"/>
<text x="74.55" y="424.35" font-size="17.91" font-family="Liberation Sans, sans-serif" textLength="31.69" lengthAdjust="spacingAndGlyphs" text-anchor="end"  xml:space="preserve">200</text>
<line x1="82.20" y1="466.50" x2="88.4" y2="466.50" stroke="#000" stroke-width="1.15"/>
<text x="74.20" y="474.11" font-size="17.91" font-family="Liberation Sans, sans-serif" textLength="31.33" lengthAdjust="spacingAndGlyphs" text-anchor="end"  xml:space="preserve">225</text>
<line x1="82.20" y1="516.50" x2="88.4" y2="516.50" stroke="#000" stroke-width="1.15"/>
<text x="74.55" y="523.88" font-size="17.91" font-family="Liberation Sans, sans-serif" textLength="31.69" lengthAdjust="spacingAndGlyphs" text-anchor="end"  xml:space="preserve">250</text>
<line x1="82.20" y1="566.50" x2="88.4" y2="566.50" stroke="#000" stroke-width="1.15"/>
<text x="74.20" y="573.64" font-size="17.91" font-family="Liberation Sans, sans-serif" textLength="31.33" lengthAdjust="spacingAndGlyphs" text-anchor="end"  xml:space="preserve">275</text>
<line x1="82.20" y1="615.50" x2="88.4" y2="615.50" stroke="#000" stroke-width="1.15"/>
<text x="74.54" y="623.40" font-size="17.91" font-family="Liberation Sans, sans-serif" textLength="31.49" lengthAdjust="spacingAndGlyphs" text-anchor="end"  xml:space="preserve">300</text>
<line x1="82.20" y1="665.50" x2="88.4" y2="665.50" stroke="#000" stroke-width="1.15"/>
<text x="74.20" y="673.16" font-size="17.91" font-family="Liberation Sans, sans-serif" textLength="31.13" lengthAdjust="spacingAndGlyphs" text-anchor="end"  xml:space="preserve">325</text>
<line x1="82.20" y1="715.50" x2="88.4" y2="715.50" stroke="#000" stroke-width="1.15"/>
<text x="74.54" y="722.92" font-size="17.91" font-family="Liberation Sans, sans-serif" textLength="31.49" lengthAdjust="spacingAndGlyphs" text-anchor="end"  xml:space="preserve">350</text>
<line x1="82.20" y1="765.50" x2="88.4" y2="765.50" stroke="#000" stroke-width="1.15"/>
<text x="74.20" y="772.69" font-size="17.91" font-family="Liberation Sans, sans-serif" textLength="31.13" lengthAdjust="spacingAndGlyphs" text-anchor="end"  xml:space="preserve">375</text>
<line x1="121.50" y1="814.5" x2="121.50" y2="820.6" stroke="#000" stroke-width="1.15"/>
<text x="121.46" y="841.70" font-size="17.91" font-family="Liberation Sans, sans-serif" textLength="10.32" lengthAdjust="spacingAndGlyphs" text-anchor="middle"  xml:space="preserve">6</text>
<line x1="185.50" y1="814.5" x2="185.50" y2="820.6" stroke="#000" stroke-width="1.15"/>
<text x="185.47" y="841.70" font-size="17.91" font-family="Liberation Sans, sans-serif" textLength="10.00" lengthAdjust="spacingAndGlyphs" text-anchor="middle"  xml:space="preserve">8</text>
<line x1="250.50" y1="814.5" x2="250.50" y2="820.6" stroke="#000" stroke-width="1.15"/>
<text x="250.20" y="841.70" font-size="17.91" font-family="Liberation Sans, sans-serif" textLength="20.69" lengthAdjust="spacingAndGlyphs" text-anchor="middle"  xml:space="preserve">10</text>
<line x1="314.50" y1="814.5" x2="314.50" y2="820.6" stroke="#000" stroke-width="1.15"/>
<text x="314.29" y="841.70" font-size="17.91" font-family="Liberation Sans, sans-serif" textLength="20.23" lengthAdjust="spacingAndGlyphs" text-anchor="middle"  xml:space="preserve">12</text>
<line x1="378.50" y1="814.5" x2="378.50" y2="820.6" stroke="#000" stroke-width="1.15"/>
<text x="378.10" y="841.70" font-size="17.91" font-family="Liberation Sans, sans-serif" textLength="20.67" lengthAdjust="spacingAndGlyphs" text-anchor="middle"  xml:space="preserve">14</text>
<line x1="442.50" y1="814.5" x2="442.50" y2="820.6" stroke="#000" stroke-width="1.15"/>
<text x="442.24" y="841.70" font-size="17.91" font-family="Liberation Sans, sans-serif" textLength="20.89" lengthAdjust="spacingAndGlyphs" text-anchor="middle"  xml:space="preserve">16</text>
<rect x="580.5" y="19.5" width="400.90" height="795" fill="none" stroke="#000" stroke-width="1.15"/>
<line x1="574.30" y1="19.50" x2="580.5" y2="19.50" stroke="#000" stroke-width="1.15"/>
<line x1="574.30" y1="68.50" x2="580.5" y2="68.50" stroke="#000" stroke-width="1.15"/>
<line x1="574.30" y1="118.50" x2="580.5" y2="118.50" stroke="#000" stroke-width="1.15"/>
<line x1="574.30" y1="168.50" x2="580.5" y2="168.50" stroke="#000" stroke-width="1.15"/>
<line x1="574.30" y1="217.50" x2="580.5" y2="217.50" stroke="#000" stroke-width="1.15"/>
<line x1="574.30" y1="267.50" x2="580.5" y2="267.50" stroke="#000" stroke-width="1.15"/>
<line x1="574.30" y1="317.50" x2="580.5" y2="317.50" stroke="#000" stroke-width="1.15"/>
<line x1="574.30" y1="367.50" x2="580.5" y2="367.50" stroke="#000" stroke-width="1.15"/>
<line x1="574.30" y1="416.50" x2="580.5" y2="416.50" stroke="#000" stroke-width="1.15"/>
<line x1="574.30" y1="466.50" x2="580.5" y2="466.50" stroke="#000" stroke-width="1.15"/>
<line x1="574.30" y1="516.50" x2="580.5" y2="516.50" stroke="#000" stroke-width="1.15"/>
<line x1="574.30" y1="566.50" x2="580.5" y2="566.50" stroke="#000" stroke-width="1.15"/>
<line x1="574.30" y1="615.50" x2="580.5" y2="615.50" stroke="#000" stroke-width="1.15"/>
<line x1="574.30" y1="665.50" x2="580.5" y2="665.50" stroke="#000" stroke-width="1.15"/>
<line x1="574.30" y1="715.50" x2="580.5" y2="715.50" stroke="#000" stroke-width="1.15"/>
<line x1="574.30" y1="765.50" x2="580.5" y2="765.50" stroke="#000" stroke-width="1.15"/>
<line x1="601.50" y1="814.5" x2="601.50" y2="820.6" stroke="#000" stroke-width="1.15"/>
<text x="601.52" y="841.70" font-size="17.91" font-family="Liberation Sans, sans-serif" textLength="47.54" lengthAdjust="spacingAndGlyphs" text-anchor="middle"  xml:space="preserve">33.00</text>
<line x1="659.50" y1="814.5" x2="659.50" y2="820.6" stroke="#000" stroke-width="1.15"/>
<text x="659.52" y="841.70" font-size="17.91" font-family="Liberation Sans, sans-serif" textLength="47.19" lengthAdjust="spacingAndGlyphs" text-anchor="middle"  xml:space="preserve">33.25</text>
<line x1="717.50" y1="814.5" x2="717.50" y2="820.6" stroke="#000" stroke-width="1.15"/>
<text x="717.52" y="841.70" font-size="17.91" font-family="Liberation Sans, sans-serif" textLength="47.54" lengthAdjust="spacingAndGlyphs" text-anchor="middle"  xml:space="preserve">33.50</text>
<line x1="775.50" y1="814.5" x2="775.50" y2="820.6" stroke="#000" stroke-width="1.15"/>
<text x="775.52" y="841.70" font-size="17.91" font-family="Liberation Sans, sans-serif" textLength="47.19" lengthAdjust="spacingAndGlyphs" text-anchor="middle"  xml:space="preserve">33.75</text>
<line x1="834.50" y1="814.5" x2="834.50" y2="820.6" stroke="#000" stroke-width="1.15"/>
<text x="834.52" y="841.70" font-size="17.91" font-family="Liberation Sans, sans-serif" textLength="47.54" lengthAdjust="spacingAndGlyphs" text-anchor="middle"  xml:space="preserve">34.00</text>
<line x1="892.50" y1="814.5" x2="892.50" y2="820.6" stroke="#000" stroke-width="1.15"/>
<text x="892.52" y="841.70" font-size="17.91" font-family="Liberation Sans, sans-serif" textLength="47.19" lengthAdjust="spacingAndGlyphs" text-anchor="middle"  xml:space="preserve">34.25</text>
<line x1="950.50" y1="814.5" x2="950.50" y2="820.6" stroke="#000" stroke-width="1.15"/>
<text x="950.52" y="841.70" font-size="17.91" font-family="Liberation Sans, sans-serif" textLength="47.54" lengthAdjust="spacingAndGlyphs" text-anchor="middle"  xml:space="preserve">34.50</text>
<rect x="1072.4" y="19.5" width="401.00" height="795" fill="none" stroke="#000" stroke-width="1.15"/>
<line x1="1066.20" y1="19.50" x2="1072.4" y2="19.50" stroke="#000" stroke-width="1.15"/>
<line x1="1066.20" y1="68.50" x2="1072.4" y2="68.50" stroke="#000" stroke-width="1.15"/>
<line x1="1066.20" y1="118.50" x2="1072.4" y2="118.50" stroke="#000" stroke-width="1.15"/>
<line x1="1066.20" y1="168.50" x2="1072.4" y2="168.50" stroke="#000" stroke-width="1.15"/>
<line x1="1066.20" y1="217.50" x2="1072.4" y2="217.50" stroke="#000" stroke-width="1.15"/>
<line x1="1066.20" y1="267.50" x2="1072.4" y2="267.50" stroke="#000" stroke-width="1.15"/>
<line x1="1066.20" y1="317.50" x2="1072.4" y2="317.50" stroke="#000" stroke-width="1.15"/>
<line x1="1066.20" y1="367.50" x2="1072.4" y2="367.50" stroke="#000" stroke-width="1.15"/>
<line x1="1066.20" y1="416.50" x2="1072.4" y2="416.50" stroke="#000" stroke-width="1.15"/>
<line x1="1066.20" y1="466.50" x2="1072.4" y2="466.50" stroke="#000" stroke-width="1.15"/>
<line x1="1066.20" y1="516.50" x2="1072.4" y2="516.50" stroke="#000" stroke-width="1.15"/>
<line x1="1066.20" y1="566.50" x2="1072.4" y2="566.50" stroke="#000" stroke-width="1.15"/>
<line x1="1066.20" y1="615.50" x2="1072.4" y2="615.50" stroke="#000" stroke-width="1.15"/>
<line x1="1066.20" y1="665.50" x2="1072.4" y2="665.50" stroke="#000" stroke-width="1.15"/>
<line x1="1066.20" y1="715.50" x2="1072.4" y2="715.50" stroke="#000" stroke-width="1.15"/>
<line x1="1066.20" y1="765.50" x2="1072.4" y2="765.50" stroke="#000" stroke-width="1.15"/>
<line x1="1092.50" y1="814.5" x2="1092.50" y2="820.6" stroke="#000" stroke-width="1.15"/>
<text x="1090.47" y="855.80" font-size="17.91" font-family="Liberation Sans, sans-serif" textLength="42.21" lengthAdjust="spacingAndGlyphs" text-anchor="middle" transform="rotate(-45 1090.90 849.60)"  xml:space="preserve">1024</text>
<line x1="1151.50" y1="814.5" x2="1151.50" y2="820.6" stroke="#000" stroke-width="1.15"/>
<text x="1149.57" y="855.80" font-size="17.91" font-family="Liberation Sans, sans-serif" textLength="41.87" lengthAdjust="spacingAndGlyphs" text-anchor="middle" transform="rotate(-45 1149.90 849.60)"  xml:space="preserve">1025</text>
<line x1="1211.50" y1="814.5" x2="1211.50" y2="820.6" stroke="#000" stroke-width="1.15"/>
<text x="1209.61" y="855.80" font-size="17.91" font-family="Liberation Sans, sans-serif" textLength="42.42" lengthAdjust="spacingAndGlyphs" text-anchor="middle" transform="rotate(-45 1209.90 849.60)"  xml:space="preserve">1026</text>
<line x1="1270.50" y1="814.5" x2="1270.50" y2="820.6" stroke="#000" stroke-width="1.15"/>
<text x="1268.66" y="855.80" font-size="17.91" font-family="Liberation Sans, sans-serif" textLength="42.07" lengthAdjust="spacingAndGlyphs" text-anchor="middle" transform="rotate(-45 1268.90 849.60)"  xml:space="preserve">1027</text>
<line x1="1330.50" y1="814.5" x2="1330.50" y2="820.6" stroke="#000" stroke-width="1.15"/>
<text x="1328.56" y="855.80" font-size="17.91" font-family="Liberation Sans, sans-serif" textLength="42.23" lengthAdjust="spacingAndGlyphs" text-anchor="middle" transform="rotate(-45 1328.90 849.60)"  xml:space="preserve">1028</text>
<line x1="1389.50" y1="814.5" x2="1389.50" y2="820.6" stroke="#000" stroke-width="1.15"/>
<text x="1387.61" y="855.80" font-size="17.91" font-family="Liberation Sans, sans-serif" textLength="42.24" lengthAdjust="spacingAndGlyphs" text-anchor="middle" transform="rotate(-45 1387.90 849.60)"  xml:space="preserve">1029</text>
<line x1="1448.50" y1="814.5" x2="1448.50" y2="820.6" stroke="#000" stroke-width="1.15"/>
<text x="1446.56" y="855.80" font-size="17.91" font-family="Liberation Sans, sans-serif" textLength="42.23" lengthAdjust="spacingAndGlyphs" text-anchor="middle" transform="rotate(-45 1446.90 849.60)"  xml:space="preserve">1030</text>
<text x="179.53" y="871.80" font-size="23.53" font-family="Liberation Sans, sans-serif" textLength="180.99" lengthAdjust="spacingAndGlyphs" font-weight="bold"  xml:space="preserve">Temperature (</text>
<text x="362.22" y="862.60" font-size="16.43" font-family="Liberation Sans, sans-serif" textLength="9.19" lengthAdjust="spacingAndGlyphs" font-style="italic"  xml:space="preserve">o</text>
<text x="372.70" y="871.80" font-size="23.53" font-family="Liberation Sans, sans-serif" textLength="15.74" lengthAdjust="spacingAndGlyphs" font-style="italic"  xml:space="preserve">C</text>
<text x="389.58" y="871.80" font-size="23.53" font-family="Liberation Sans, sans-serif" textLength="7.97" lengthAdjust="spacingAndGlyphs" font-weight="bold"  xml:space="preserve">)</text>
<text x="780.59" y="869.50" font-size="23.53" font-family="Liberation Sans, sans-serif" textLength="94.37" lengthAdjust="spacingAndGlyphs" text-anchor="middle" font-weight="bold"  xml:space="preserve">Salinity</text>
<text x="1273.09" y="895.90" font-size="23.53" font-family="Liberation Sans, sans-serif" textLength="213.65" lengthAdjust="spacingAndGlyphs" text-anchor="middle" font-weight="bold"  xml:space="preserve">Density (kg m-3)</text>
<text x="-418.66" y="30.50" font-size="23.53" font-family="Liberation Sans, sans-serif" textLength="128.97" lengthAdjust="spacingAndGlyphs" text-anchor="middle" font-weight="bold" transform="rotate(-90 0.00 0.00)"  xml:space="preserve">Depth (m)</text>
<text x="423.12" y="917.90" font-size="17.91" font-family="Liberation Sans, sans-serif" textLength="279.72" lengthAdjust="spacingAndGlyphs" font-style="italic"  xml:space="preserve">Ocean Heat Content (kJ/cm^2) -</text>
<text x="709.12" y="917.90" font-size="17.91" font-family="Liberation Sans, sans-serif" textLength="101.50" lengthAdjust="spacingAndGlyphs" font-style="italic"  xml:space="preserve">Glider: N/A,</text>
<text x="820.16" y="917.90" font-size="17.91" font-family="Liberation Sans, sans-serif" textLength="105.47" lengthAdjust="spacingAndGlyphs" font-style="italic"  xml:space="preserve">RTOFS: N/A,</text>
<text x="936.47" y="917.90" font-size="17.91" font-family="Liberation Sans, sans-serif" textLength="92.95" lengthAdjust="spacingAndGlyphs" font-style="italic"  xml:space="preserve">ESPC: N/A,</text>
<text x="1039.70" y="917.90" font-size="17.91" font-family="Liberation Sans, sans-serif" textLength="113.66" lengthAdjust="spacingAndGlyphs" font-style="italic"  xml:space="preserve">CMEMS: N/A,</text>
<text x="1524.61" y="36.60" font-size="23.74" font-family="Liberation Sans, sans-serif" textLength="379.38" lengthAdjust="spacingAndGlyphs" font-weight="bold"  xml:space="preserve">Comparison Date: 2026-03-11</text>
<text x="1524.63" y="89.70" font-size="23.74" font-family="Liberation Sans, sans-serif" textLength="170.01" lengthAdjust="spacingAndGlyphs" font-weight="bold"  xml:space="preserve">Glider: sp058</text>
<text x="1523.96" y="116.40" font-size="23.74" font-family="Liberation Sans, sans-serif" textLength="129.45" lengthAdjust="spacingAndGlyphs" font-weight="bold"  xml:space="preserve">Profiles: 7</text>
<text x="1523.87" y="142.90" font-size="23.74" font-family="Liberation Sans, sans-serif" textLength="340.73" lengthAdjust="spacingAndGlyphs" font-weight="bold"  xml:space="preserve">First: 2026-03-11 01:47:30</text>
<text x="1523.88" y="169.20" font-size="23.74" font-family="Liberation Sans, sans-serif" textLength="335.73" lengthAdjust="spacingAndGlyphs" font-weight="bold"  xml:space="preserve">Last: 2026-03-11 19:14:30</text>
<text x="1523.94" y="195.70" font-size="23.74" font-family="Liberation Sans, sans-serif" textLength="340.01" lengthAdjust="spacingAndGlyphs" font-weight="bold"  xml:space="preserve">Method: Nearest-Neighbor</text>
<defs><clipPath id="mc"><rect x="1565.5" y="258.0" width="401.0" height="317.5"/></clipPath></defs>
<rect x="1565.5" y="258.0" width="401.0" height="317.5" fill="#97b6e1"/>
<g clip-path="url(#mc)">
<polygon points="1670.1,258.0 1669.6,264.6 1672.5,271.4 1675.4,276.2 1678.3,283.9 1682.2,290.7 1684.6,296.4 1685.5,302.2 1688.9,304.6 1694.7,308.0 1700.5,313.8 1705.3,319.1 1706.3,324.4 1704.8,327.3 1701.4,328.3 1695.7,328.3 1692.8,325.8 1691.8,322.5 1689.5,323.5 1692.8,329.2 1698.6,332.1 1702.4,336.0 1708.2,339.8 1714.0,342.7 1716.9,340.3 1717.8,345.0 1723.0,349.0 1727.4,351.9 1730.2,359.2 1727.4,368.3 1732.9,373.7 1743.8,381.0 1752.9,392.0 1756.5,392.5 1760.2,386.5 1756.5,377.4 1752.9,373.7 1747.4,368.3 1743.8,359.2 1738.0,350.0 1733.3,345.0 1729.4,337.9 1725.5,332.1 1721.7,326.3 1719.8,321.5 1717.8,318.6 1714.0,313.8 1710.1,309.9 1705.3,305.1 1700.5,300.3 1698.6,293.6 1696.6,285.8 1695.2,281.0 1696.1,274.3 1699.5,275.2 1704.3,278.1 1708.2,277.2 1712.0,281.0 1716.9,283.0 1717.3,289.7 1719.8,295.5 1723.6,302.2 1727.5,309.0 1726.5,314.8 1731.3,316.7 1737.1,322.5 1742.9,327.3 1746.7,328.3 1747.2,335.0 1752.5,337.9 1756.4,340.8 1760.2,343.7 1763.7,348.3 1760.5,355.6 1767.3,359.2 1776.4,366.5 1785.5,377.4 1794.6,388.3 1802.8,395.6 1804.6,400.0 1807.5,405.8 1809.4,417.4 1804.6,424.1 1807.5,431.8 1813.3,437.6 1822.9,441.4 1830.6,450.1 1848.0,454.9 1859.5,463.6 1875.0,469.4 1886.5,473.3 1898.1,479.0 1913.5,482.9 1925.1,478.1 1932.8,476.2 1942.4,479.0 1955.9,490.6 1966.3,498.3 1970.0,498.3 1970.0,445.3 1966.3,445.3 1957.8,446.3 1948.2,449.2 1936.6,452.1 1928.9,445.3 1920.3,444.3 1914.5,430.8 1907.7,421.2 1900.0,409.6 1897.1,400.0 1897.4,395.6 1899.3,377.4 1902.0,362.8 1904.7,353.7 1903.8,342.8 1902.9,331.9 1907.5,324.6 1914.7,319.2 1919.4,318.8 1927.1,314.6 1935.7,307.7 1943.4,303.8 1948.6,302.6 1957.1,304.3 1966.3,306.0 1970.0,306.0 1970.0,250.0 1670.1,250.0" fill="#d2b48c" stroke="none"/>
<ellipse cx="1712.3" cy="310" rx="2" ry="4.6" transform="rotate(-38 1712.3 310)" fill="#000"/>
<polyline points="1691.8,270.4 1693.7,266.6 1697.0,263.5 1701.4,261.7 1708.2,259.8 1717.8,257.9" fill="none" stroke="#97b6e1" stroke-width="1.5" stroke-linejoin="round"/>
<polyline points="1754.5,257.9 1758.3,260.3 1762.2,259.3 1768.0,262.7 1770.8,258.9" fill="none" stroke="#97b6e1" stroke-width="1.5" stroke-linejoin="round"/>
<polyline points="1785.5,258.2 1788.0,264.0 1792.8,271.8" fill="none" stroke="#97b6e1" stroke-width="1.5" stroke-linejoin="round"/>
<polyline points="1889.2,258.2 1896.0,266.0 1903.8,277.3 1910.0,285.0 1916.6,293.7 1918.0,300.0 1922.0,306.4 1925.7,313.7" fill="none" stroke="#97b6e1" stroke-width="1.5" stroke-linejoin="round"/>
<polyline points="1807.5,406.7 1817.1,407.7 1824.8,415.4 1832.5,419.3 1838.3,426.0" fill="none" stroke="#97b6e1" stroke-width="1.5" stroke-linejoin="round"/>
<polyline points="1867.2,402.9 1876.9,407.7 1886.5,406.7 1896.2,401.9" fill="none" stroke="#97b6e1" stroke-width="1.5" stroke-linejoin="round"/>
<polyline points="1957.8,446.3 1961.7,450.1 1965.6,455.9" fill="none" stroke="#97b6e1" stroke-width="1.5" stroke-linejoin="round"/>
<polyline points="1792.8,273.7 1798.2,279.1 1812.8,290.0 1816.4,299.1 1821.9,306.4 1832.8,312.8 1838.3,306.4 1841.9,302.8 1852.9,302.8 1861.9,310.1 1867.4,321.0 1876.5,331.9 1880.2,344.6 1892.9,351.9 1903.8,353.7" fill="none" stroke="#97b6e1" stroke-width="1.5" stroke-linejoin="round"/>
<polyline points="1670.1,258.0 1669.6,264.6 1672.5,271.4 1675.4,276.2 1678.3,283.9 1682.2,290.7 1684.6,296.4 1685.5,302.2 1688.9,304.6 1694.7,308.0 1700.5,313.8 1705.3,319.1 1706.3,324.4 1704.8,327.3 1701.4,328.3 1695.7,328.3 1692.8,325.8 1691.8,322.5 1689.5,323.5 1692.8,329.2 1698.6,332.1 1702.4,336.0 1708.2,339.8 1714.0,342.7 1716.9,340.3 1717.8,345.0 1723.0,349.0 1727.4,351.9 1730.2,359.2 1727.4,368.3 1732.9,373.7 1743.8,381.0 1752.9,392.0 1756.5,392.5 1760.2,386.5 1756.5,377.4 1752.9,373.7 1747.4,368.3 1743.8,359.2 1738.0,350.0 1733.3,345.0 1729.4,337.9 1725.5,332.1 1721.7,326.3 1719.8,321.5 1717.8,318.6 1714.0,313.8 1710.1,309.9 1705.3,305.1 1700.5,300.3 1698.6,293.6 1696.6,285.8 1695.2,281.0 1696.1,274.3 1699.5,275.2 1704.3,278.1 1708.2,277.2 1712.0,281.0 1716.9,283.0 1717.3,289.7 1719.8,295.5 1723.6,302.2 1727.5,309.0 1726.5,314.8 1731.3,316.7 1737.1,322.5 1742.9,327.3 1746.7,328.3 1747.2,335.0 1752.5,337.9 1756.4,340.8 1760.2,343.7 1763.7,348.3 1760.5,355.6 1767.3,359.2 1776.4,366.5 1785.5,377.4 1794.6,388.3 1802.8,395.6 1804.6,400.0 1807.5,405.8 1809.4,417.4 1804.6,424.1 1807.5,431.8 1813.3,437.6 1822.9,441.4 1830.6,450.1 1848.0,454.9 1859.5,463.6 1875.0,469.4 1886.5,473.3 1898.1,479.0 1913.5,482.9 1925.1,478.1 1932.8,476.2 1942.4,479.0 1955.9,490.6 1966.3,498.3" fill="none" stroke="#000" stroke-width="2.4" stroke-linejoin="round"/>
<polyline points="1966.3,445.3 1957.8,446.3 1948.2,449.2 1936.6,452.1 1928.9,445.3 1920.3,444.3 1914.5,430.8 1907.7,421.2 1900.0,409.6 1897.1,400.0 1897.4,395.6 1899.3,377.4 1902.0,362.8 1904.7,353.7 1903.8,342.8 1902.9,331.9 1907.5,324.6 1914.7,319.2 1919.4,318.8 1927.1,314.6 1935.7,307.7 1943.4,303.8 1948.6,302.6 1957.1,304.3 1966.3,306.0" fill="none" stroke="#000" stroke-width="2.4" stroke-linejoin="round"/>
<polyline points="1938,305.2 1928,311.8 1918,317.3 1910,321.8 1904,328.5 1901.6,337 1902,345 1903.5,352" fill="none" stroke="#000" stroke-width="4.6" stroke-linejoin="round" stroke-linecap="round"/>
<circle cx="1943" cy="302.2" r="2.2" fill="#000"/>
<circle cx="1933" cy="307.6" r="2.4" fill="#000"/>
<circle cx="1922" cy="313.8" r="2.6" fill="#000"/>
<circle cx="1913" cy="318.6" r="2.4" fill="#000"/>
<circle cx="1904.5" cy="325.5" r="2.5" fill="#000"/>
<circle cx="1900.8" cy="333" r="2.4" fill="#000"/>
<circle cx="1900.6" cy="341" r="2.2" fill="#000"/>
<polygon points="1901.5,358.5 1904,359.5 1900.6,371 1899.4,380.5 1897.2,380.5 1897.6,368" fill="#4b5a6b" stroke="#000" stroke-width="1"/>
<polyline points="1565.4,258.2 1670.1,258.2" fill="none" stroke="#000" stroke-width="2.4" stroke-linejoin="round"/>
<line x1="1670.1" y1="258.3" x2="1966.3" y2="258.3" stroke="#c8c8c8" stroke-width="1"/>
<polyline points="1670.6,264.2 1696.6,261.7 1700.5,259.8 1699.0,262.5 1696.6,264.6 1708.2,269.5 1722.7,274.3 1741.9,281.5 1765.1,281.5 1774.7,281.0 1774.7,275.7 1792.8,273.7 1798.2,279.1 1812.8,290.0 1816.4,299.1 1821.9,306.4 1832.8,312.8 1838.3,306.4 1841.9,302.8 1852.9,302.8 1861.9,310.1 1867.4,321.0 1876.5,331.9 1880.2,344.6 1892.9,351.9 1903.8,353.7" fill="none" stroke="#000" stroke-width="1.4" stroke-dasharray="4,2.5"/>
<polyline points="1963.5,482 1964.5,488 1966.3,496" fill="none" stroke="#000" stroke-width="1.2" stroke-dasharray="3,2"/>
<polyline points="1765.1,257.6 1765.1,281.5" fill="none" stroke="#000" stroke-width="1.2"/>
<polyline points="1792.8,271.8 1835.6,271.8 1835.6,257.6" fill="none" stroke="#000" stroke-width="1.2"/>
<polyline points="1942,257.6 1942,271.8 1947.5,284.6 1945.7,297.3 1943.9,302.8" fill="none" stroke="#000" stroke-width="1.9"/>
<ellipse cx="1655.5" cy="311.5" rx="1.3" ry="2.2" fill="#000" transform="rotate(-40 1655.5 311.5)"/>
<ellipse cx="1687.5" cy="322" rx="1.5" ry="1.2" fill="#000" transform="rotate(-40 1687.5 322)"/>
<ellipse cx="1742.3" cy="444.1" rx="1.6" ry="1.4" fill="#000" transform="rotate(-40 1742.3 444.1)"/>
<ellipse cx="1743.8" cy="437.5" rx="0.9" ry="0.9" fill="#000" transform="rotate(-40 1743.8 437.5)"/>
<ellipse cx="1697.6" cy="449.5" rx="0.9" ry="0.8" fill="#000" transform="rotate(-40 1697.6 449.5)"/>
<ellipse cx="1795" cy="410" rx="1.2" ry="3.2" fill="#000" transform="rotate(-40 1795 410)"/>
<circle cx="1762.7" cy="547.5" r="0.9" fill="#555"/>
<circle cx="1665.5" cy="258.6" r="5.2" fill="#000"/>
<circle cx="1665.5" cy="257.9" r="4.8" fill="#ff0000"/>
</g>
<polyline points="1565.5,258.0 1565.5,575.5 1966.5,575.5 1966.5,258.0" fill="none" stroke="#000" stroke-width="1.3"/>
<line x1="1565.4" y1="575.5" x2="1565.4" y2="578.5" stroke="#000" stroke-width="1.5"/>
<line x1="1565.4" y1="258.0" x2="1565.4" y2="254.4" stroke="#000" stroke-width="1.5"/>
<line x1="1577.2" y1="575.5" x2="1577.2" y2="584.5" stroke="#000" stroke-width="2.6"/>
<line x1="1577.2" y1="258.0" x2="1577.2" y2="249.3" stroke="#000" stroke-width="2.6"/>
<text x="1574.50" y="633.50" font-size="23.53" font-family="Liberation Sans, sans-serif" textLength="74.16" lengthAdjust="spacingAndGlyphs" text-anchor="middle" transform="rotate(-45 1575.40 625.40)"  xml:space="preserve">125°W</text>
<line x1="1589.0" y1="575.5" x2="1589.0" y2="578.5" stroke="#000" stroke-width="1.5"/>
<line x1="1589.0" y1="258.0" x2="1589.0" y2="254.4" stroke="#000" stroke-width="1.5"/>
<line x1="1600.8" y1="575.5" x2="1600.8" y2="578.5" stroke="#000" stroke-width="1.5"/>
<line x1="1600.8" y1="258.0" x2="1600.8" y2="254.4" stroke="#000" stroke-width="1.5"/>
<line x1="1612.6" y1="575.5" x2="1612.6" y2="578.5" stroke="#000" stroke-width="1.5"/>
<line x1="1612.6" y1="258.0" x2="1612.6" y2="254.4" stroke="#000" stroke-width="1.5"/>
<line x1="1624.4" y1="575.5" x2="1624.4" y2="578.5" stroke="#000" stroke-width="1.5"/>
<line x1="1624.4" y1="258.0" x2="1624.4" y2="254.4" stroke="#000" stroke-width="1.5"/>
<line x1="1636.2" y1="575.5" x2="1636.2" y2="584.5" stroke="#000" stroke-width="2.6"/>
<line x1="1636.2" y1="258.0" x2="1636.2" y2="249.3" stroke="#000" stroke-width="2.6"/>
<text x="1633.54" y="633.50" font-size="23.53" font-family="Liberation Sans, sans-serif" textLength="74.16" lengthAdjust="spacingAndGlyphs" text-anchor="middle" transform="rotate(-45 1634.44 625.40)"  xml:space="preserve">120°W</text>
<line x1="1648.0" y1="575.5" x2="1648.0" y2="578.5" stroke="#000" stroke-width="1.5"/>
<line x1="1648.0" y1="258.0" x2="1648.0" y2="254.4" stroke="#000" stroke-width="1.5"/>
<line x1="1659.8" y1="575.5" x2="1659.8" y2="578.5" stroke="#000" stroke-width="1.5"/>
<line x1="1659.8" y1="258.0" x2="1659.8" y2="254.4" stroke="#000" stroke-width="1.5"/>
<line x1="1671.7" y1="575.5" x2="1671.7" y2="578.5" stroke="#000" stroke-width="1.5"/>
<line x1="1671.7" y1="258.0" x2="1671.7" y2="254.4" stroke="#000" stroke-width="1.5"/>
<line x1="1683.5" y1="575.5" x2="1683.5" y2="578.5" stroke="#000" stroke-width="1.5"/>
<line x1="1683.5" y1="258.0" x2="1683.5" y2="254.4" stroke="#000" stroke-width="1.5"/>
<line x1="1695.3" y1="575.5" x2="1695.3" y2="584.5" stroke="#000" stroke-width="2.6"/>
<line x1="1695.3" y1="258.0" x2="1695.3" y2="249.3" stroke="#000" stroke-width="2.6"/>
<text x="1692.56" y="633.50" font-size="23.53" font-family="Liberation Sans, sans-serif" textLength="74.23" lengthAdjust="spacingAndGlyphs" text-anchor="middle" transform="rotate(-45 1693.47 625.40)"  xml:space="preserve">115°W</text>
<line x1="1707.1" y1="575.5" x2="1707.1" y2="578.5" stroke="#000" stroke-width="1.5"/>
<line x1="1707.1" y1="258.0" x2="1707.1" y2="254.4" stroke="#000" stroke-width="1.5"/>
<line x1="1718.9" y1="575.5" x2="1718.9" y2="578.5" stroke="#000" stroke-width="1.5"/>
<line x1="1718.9" y1="258.0" x2="1718.9" y2="254.4" stroke="#000" stroke-width="1.5"/>
<line x1="1730.7" y1="575.5" x2="1730.7" y2="578.5" stroke="#000" stroke-width="1.5"/>
<line x1="1730.7" y1="258.0" x2="1730.7" y2="254.4" stroke="#000" stroke-width="1.5"/>
<line x1="1742.5" y1="575.5" x2="1742.5" y2="578.5" stroke="#000" stroke-width="1.5"/>
<line x1="1742.5" y1="258.0" x2="1742.5" y2="254.4" stroke="#000" stroke-width="1.5"/>
<line x1="1754.3" y1="575.5" x2="1754.3" y2="584.5" stroke="#000" stroke-width="2.6"/>
<line x1="1754.3" y1="258.0" x2="1754.3" y2="249.3" stroke="#000" stroke-width="2.6"/>
<text x="1751.60" y="633.50" font-size="23.53" font-family="Liberation Sans, sans-serif" textLength="74.23" lengthAdjust="spacingAndGlyphs" text-anchor="middle" transform="rotate(-45 1752.51 625.40)"  xml:space="preserve">110°W</text>
<line x1="1766.1" y1="575.5" x2="1766.1" y2="578.5" stroke="#000" stroke-width="1.5"/>
<line x1="1766.1" y1="258.0" x2="1766.1" y2="254.4" stroke="#000" stroke-width="1.5"/>
<line x1="1777.9" y1="575.5" x2="1777.9" y2="578.5" stroke="#000" stroke-width="1.5"/>
<line x1="1777.9" y1="258.0" x2="1777.9" y2="254.4" stroke="#000" stroke-width="1.5"/>
<line x1="1789.7" y1="575.5" x2="1789.7" y2="578.5" stroke="#000" stroke-width="1.5"/>
<line x1="1789.7" y1="258.0" x2="1789.7" y2="254.4" stroke="#000" stroke-width="1.5"/>
<line x1="1801.5" y1="575.5" x2="1801.5" y2="578.5" stroke="#000" stroke-width="1.5"/>
<line x1="1801.5" y1="258.0" x2="1801.5" y2="254.4" stroke="#000" stroke-width="1.5"/>
<line x1="1813.3" y1="575.5" x2="1813.3" y2="584.5" stroke="#000" stroke-width="2.6"/>
<line x1="1813.3" y1="258.0" x2="1813.3" y2="249.3" stroke="#000" stroke-width="2.6"/>
<text x="1810.64" y="633.50" font-size="23.53" font-family="Liberation Sans, sans-serif" textLength="74.16" lengthAdjust="spacingAndGlyphs" text-anchor="middle" transform="rotate(-45 1811.54 625.40)"  xml:space="preserve">105°W</text>
<line x1="1825.1" y1="575.5" x2="1825.1" y2="578.5" stroke="#000" stroke-width="1.5"/>
<line x1="1825.1" y1="258.0" x2="1825.1" y2="254.4" stroke="#000" stroke-width="1.5"/>
<line x1="1837.0" y1="575.5" x2="1837.0" y2="578.5" stroke="#000" stroke-width="1.5"/>
<line x1="1837.0" y1="258.0" x2="1837.0" y2="254.4" stroke="#000" stroke-width="1.5"/>
<line x1="1848.8" y1="575.5" x2="1848.8" y2="578.5" stroke="#000" stroke-width="1.5"/>
<line x1="1848.8" y1="258.0" x2="1848.8" y2="254.4" stroke="#000" stroke-width="1.5"/>
<line x1="1860.6" y1="575.5" x2="1860.6" y2="578.5" stroke="#000" stroke-width="1.5"/>
<line x1="1860.6" y1="258.0" x2="1860.6" y2="254.4" stroke="#000" stroke-width="1.5"/>
<line x1="1872.4" y1="575.5" x2="1872.4" y2="584.5" stroke="#000" stroke-width="2.6"/>
<line x1="1872.4" y1="258.0" x2="1872.4" y2="249.3" stroke="#000" stroke-width="2.6"/>
<text x="1869.68" y="633.50" font-size="23.53" font-family="Liberation Sans, sans-serif" textLength="74.16" lengthAdjust="spacingAndGlyphs" text-anchor="middle" transform="rotate(-45 1870.58 625.40)"  xml:space="preserve">100°W</text>
<line x1="1884.2" y1="575.5" x2="1884.2" y2="578.5" stroke="#000" stroke-width="1.5"/>
<line x1="1884.2" y1="258.0" x2="1884.2" y2="254.4" stroke="#000" stroke-width="1.5"/>
<line x1="1896.0" y1="575.5" x2="1896.0" y2="578.5" stroke="#000" stroke-width="1.5"/>
<line x1="1896.0" y1="258.0" x2="1896.0" y2="254.4" stroke="#000" stroke-width="1.5"/>
<line x1="1907.8" y1="575.5" x2="1907.8" y2="578.5" stroke="#000" stroke-width="1.5"/>
<line x1="1907.8" y1="258.0" x2="1907.8" y2="254.4" stroke="#000" stroke-width="1.5"/>
<line x1="1919.6" y1="575.5" x2="1919.6" y2="578.5" stroke="#000" stroke-width="1.5"/>
<line x1="1919.6" y1="258.0" x2="1919.6" y2="254.4" stroke="#000" stroke-width="1.5"/>
<line x1="1931.4" y1="575.5" x2="1931.4" y2="584.5" stroke="#000" stroke-width="2.6"/>
<line x1="1931.4" y1="258.0" x2="1931.4" y2="249.3" stroke="#000" stroke-width="2.6"/>
<text x="1929.13" y="633.50" font-size="23.53" font-family="Liberation Sans, sans-serif" textLength="60.42" lengthAdjust="spacingAndGlyphs" text-anchor="middle" transform="rotate(-45 1929.61 625.40)"  xml:space="preserve">95°W</text>
<line x1="1943.2" y1="575.5" x2="1943.2" y2="578.5" stroke="#000" stroke-width="1.5"/>
<line x1="1943.2" y1="258.0" x2="1943.2" y2="254.4" stroke="#000" stroke-width="1.5"/>
<line x1="1955.0" y1="575.5" x2="1955.0" y2="578.5" stroke="#000" stroke-width="1.5"/>
<line x1="1955.0" y1="258.0" x2="1955.0" y2="254.4" stroke="#000" stroke-width="1.5"/>
<line x1="1966.8" y1="575.5" x2="1966.8" y2="578.5" stroke="#000" stroke-width="1.5"/>
<line x1="1966.8" y1="258.0" x2="1966.8" y2="254.4" stroke="#000" stroke-width="1.5"/>
<line x1="1565.5" y1="575.1" x2="1561.9" y2="575.1" stroke="#000" stroke-width="1.5"/>
<line x1="1966.5" y1="575.1" x2="1970.1" y2="575.1" stroke="#000" stroke-width="1.5"/>
<line x1="1565.5" y1="563.3" x2="1561.9" y2="563.3" stroke="#000" stroke-width="1.5"/>
<line x1="1966.5" y1="563.3" x2="1970.1" y2="563.3" stroke="#000" stroke-width="1.5"/>
<line x1="1565.5" y1="551.4" x2="1556.6" y2="551.4" stroke="#000" stroke-width="2.6"/>
<line x1="1966.5" y1="551.4" x2="1975.4" y2="551.4" stroke="#000" stroke-width="2.6"/>
<text x="1550.49" y="560.69" font-size="23.53" font-family="Liberation Sans, sans-serif" textLength="55.34" lengthAdjust="spacingAndGlyphs" text-anchor="end"  xml:space="preserve">10°N</text>
<line x1="1565.5" y1="539.5" x2="1561.9" y2="539.5" stroke="#000" stroke-width="1.5"/>
<line x1="1966.5" y1="539.5" x2="1970.1" y2="539.5" stroke="#000" stroke-width="1.5"/>
<line x1="1565.5" y1="527.5" x2="1561.9" y2="527.5" stroke="#000" stroke-width="1.5"/>
<line x1="1966.5" y1="527.5" x2="1970.1" y2="527.5" stroke="#000" stroke-width="1.5"/>
<line x1="1565.5" y1="515.5" x2="1561.9" y2="515.5" stroke="#000" stroke-width="1.5"/>
<line x1="1966.5" y1="515.5" x2="1970.1" y2="515.5" stroke="#000" stroke-width="1.5"/>
<line x1="1565.5" y1="503.5" x2="1561.9" y2="503.5" stroke="#000" stroke-width="1.5"/>
<line x1="1966.5" y1="503.5" x2="1970.1" y2="503.5" stroke="#000" stroke-width="1.5"/>
<line x1="1565.5" y1="491.4" x2="1556.6" y2="491.4" stroke="#000" stroke-width="2.6"/>
<line x1="1966.5" y1="491.4" x2="1975.4" y2="491.4" stroke="#000" stroke-width="2.6"/>
<text x="1550.49" y="500.66" font-size="23.53" font-family="Liberation Sans, sans-serif" textLength="55.34" lengthAdjust="spacingAndGlyphs" text-anchor="end"  xml:space="preserve">15°N</text>
<line x1="1565.5" y1="479.2" x2="1561.9" y2="479.2" stroke="#000" stroke-width="1.5"/>
<line x1="1966.5" y1="479.2" x2="1970.1" y2="479.2" stroke="#000" stroke-width="1.5"/>
<line x1="1565.5" y1="467.0" x2="1561.9" y2="467.0" stroke="#000" stroke-width="1.5"/>
<line x1="1966.5" y1="467.0" x2="1970.1" y2="467.0" stroke="#000" stroke-width="1.5"/>
<line x1="1565.5" y1="454.7" x2="1561.9" y2="454.7" stroke="#000" stroke-width="1.5"/>
<line x1="1966.5" y1="454.7" x2="1970.1" y2="454.7" stroke="#000" stroke-width="1.5"/>
<line x1="1565.5" y1="442.3" x2="1561.9" y2="442.3" stroke="#000" stroke-width="1.5"/>
<line x1="1966.5" y1="442.3" x2="1970.1" y2="442.3" stroke="#000" stroke-width="1.5"/>
<line x1="1565.5" y1="429.9" x2="1556.6" y2="429.9" stroke="#000" stroke-width="2.6"/>
<line x1="1966.5" y1="429.9" x2="1975.4" y2="429.9" stroke="#000" stroke-width="2.6"/>
<text x="1550.50" y="439.21" font-size="23.53" font-family="Liberation Sans, sans-serif" textLength="55.51" lengthAdjust="spacingAndGlyphs" text-anchor="end"  xml:space="preserve">20°N</text>
<line x1="1565.5" y1="417.4" x2="1561.9" y2="417.4" stroke="#000" stroke-width="1.5"/>
<line x1="1966.5" y1="417.4" x2="1970.1" y2="417.4" stroke="#000" stroke-width="1.5"/>
<line x1="1565.5" y1="404.8" x2="1561.9" y2="404.8" stroke="#000" stroke-width="1.5"/>
<line x1="1966.5" y1="404.8" x2="1970.1" y2="404.8" stroke="#000" stroke-width="1.5"/>
<line x1="1565.5" y1="392.1" x2="1561.9" y2="392.1" stroke="#000" stroke-width="1.5"/>
<line x1="1966.5" y1="392.1" x2="1970.1" y2="392.1" stroke="#000" stroke-width="1.5"/>
<line x1="1565.5" y1="379.4" x2="1561.9" y2="379.4" stroke="#000" stroke-width="1.5"/>
<line x1="1966.5" y1="379.4" x2="1970.1" y2="379.4" stroke="#000" stroke-width="1.5"/>
<line x1="1565.5" y1="366.5" x2="1556.6" y2="366.5" stroke="#000" stroke-width="2.6"/>
<line x1="1966.5" y1="366.5" x2="1975.4" y2="366.5" stroke="#000" stroke-width="2.6"/>
<text x="1550.50" y="375.78" font-size="23.53" font-family="Liberation Sans, sans-serif" textLength="55.51" lengthAdjust="spacingAndGlyphs" text-anchor="end"  xml:space="preserve">25°N</text>
<line x1="1565.5" y1="353.5" x2="1561.9" y2="353.5" stroke="#000" stroke-width="1.5"/>
<line x1="1966.5" y1="353.5" x2="1970.1" y2="353.5" stroke="#000" stroke-width="1.5"/>
<line x1="1565.5" y1="340.4" x2="1561.9" y2="340.4" stroke="#000" stroke-width="1.5"/>
<line x1="1966.5" y1="340.4" x2="1970.1" y2="340.4" stroke="#000" stroke-width="1.5"/>
<line x1="1565.5" y1="327.2" x2="1561.9" y2="327.2" stroke="#000" stroke-width="1.5"/>
<line x1="1966.5" y1="327.2" x2="1970.1" y2="327.2" stroke="#000" stroke-width="1.5"/>
<line x1="1565.5" y1="313.9" x2="1561.9" y2="313.9" stroke="#000" stroke-width="1.5"/>
<line x1="1966.5" y1="313.9" x2="1970.1" y2="313.9" stroke="#000" stroke-width="1.5"/>
<line x1="1565.5" y1="300.4" x2="1556.6" y2="300.4" stroke="#000" stroke-width="2.6"/>
<line x1="1966.5" y1="300.4" x2="1975.4" y2="300.4" stroke="#000" stroke-width="2.6"/>
<text x="1550.49" y="309.70" font-size="23.53" font-family="Liberation Sans, sans-serif" textLength="55.25" lengthAdjust="spacingAndGlyphs" text-anchor="end"  xml:space="preserve">30°N</text>
<line x1="1565.5" y1="286.8" x2="1561.9" y2="286.8" stroke="#000" stroke-width="1.5"/>
<line x1="1966.5" y1="286.8" x2="1970.1" y2="286.8" stroke="#000" stroke-width="1.5"/>
<line x1="1565.5" y1="273.1" x2="1561.9" y2="273.1" stroke="#000" stroke-width="1.5"/>
<line x1="1966.5" y1="273.1" x2="1970.1" y2="273.1" stroke="#000" stroke-width="1.5"/>
<line x1="1565.5" y1="259.2" x2="1561.9" y2="259.2" stroke="#000" stroke-width="1.5"/>
<line x1="1966.5" y1="259.2" x2="1970.1" y2="259.2" stroke="#000" stroke-width="1.5"/>
<rect x="1683.3" y="658.1" width="164.5" height="143.4" rx="4.5" ry="4.5" fill="#fff" stroke="#d6d6d6" stroke-width="1.4"/>
<line x1="1690.8" y1="677.5" x2="1739" y2="677.5" stroke="#0000ff" stroke-width="2.8"/>
<circle cx="1715.5" cy="677.5" r="5.7" fill="#0000ff"/>
<text x="1755.08" y="685.90" font-size="23.53" font-family="Liberation Sans, sans-serif" textLength="67.10" lengthAdjust="spacingAndGlyphs"  xml:space="preserve">sp058</text>
<line x1="1690.8" y1="712.5" x2="1739" y2="712.5" stroke="#ff0000" stroke-width="2.8"/>
<circle cx="1715.5" cy="712.5" r="5.7" fill="#ff0000"/>
<text x="1755.13" y="720.90" font-size="23.53" font-family="Liberation Sans, sans-serif" textLength="70.62" lengthAdjust="spacingAndGlyphs"  xml:space="preserve">RTOFS</text>
<line x1="1690.8" y1="746.3" x2="1739" y2="746.3" stroke="#008000" stroke-width="2.8"/>
<circle cx="1715.5" cy="746.3" r="5.7" fill="#008000"/>
<text x="1755.17" y="754.70" font-size="23.53" font-family="Liberation Sans, sans-serif" textLength="56.16" lengthAdjust="spacingAndGlyphs"  xml:space="preserve">ESPC</text>
<line x1="1690.8" y1="780.5" x2="1739" y2="780.5" stroke="#ff00ff" stroke-width="2.8"/>
<circle cx="1715.5" cy="780.5" r="5.7" fill="#ff00ff"/>
<text x="1754.72" y="788.90" font-size="23.53" font-family="Liberation Sans, sans-serif" textLength="81.61" lengthAdjust="spacingAndGlyphs"  xml:space="preserve">CMEMS</text>
</svg></body></html>
